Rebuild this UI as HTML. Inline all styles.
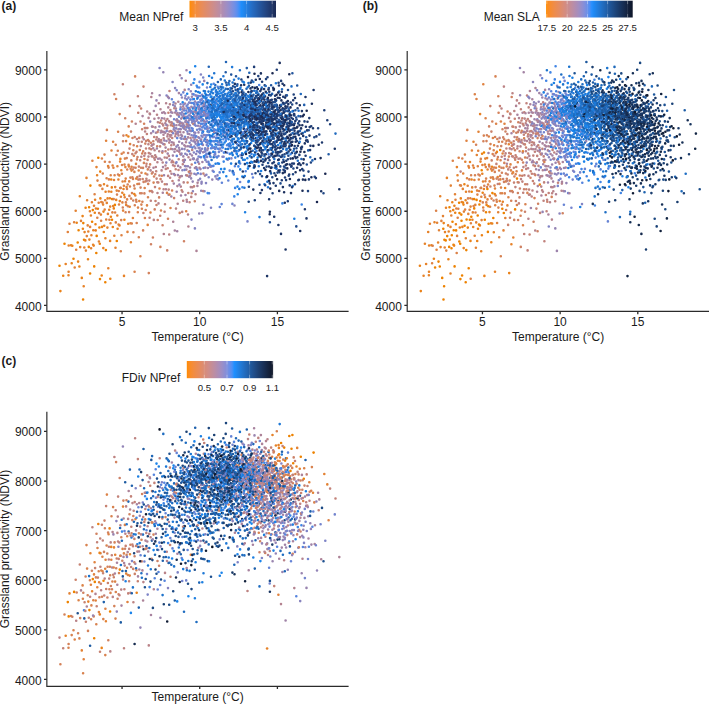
<!DOCTYPE html>
<html><head><meta charset="utf-8"><title>Figure</title>
<style>html,body{margin:0;padding:0;background:#fff;width:709px;height:704px;overflow:hidden}svg{display:block}</style>
</head><body><svg width="709" height="704" viewBox="0 0 709 704" font-family='"Liberation Sans", sans-serif' font-size="12" fill="#1a1a1a"><defs><linearGradient id="gA"><stop offset="0.000" stop-color="#ff8c00"/><stop offset="0.025" stop-color="#fb8c1e"/><stop offset="0.050" stop-color="#f88c2e"/><stop offset="0.075" stop-color="#f48c3b"/><stop offset="0.100" stop-color="#ef8c47"/><stop offset="0.125" stop-color="#eb8c52"/><stop offset="0.150" stop-color="#e78c5c"/><stop offset="0.175" stop-color="#e28c66"/><stop offset="0.200" stop-color="#dd8c6f"/><stop offset="0.225" stop-color="#d88c79"/><stop offset="0.250" stop-color="#d38c82"/><stop offset="0.275" stop-color="#cd8d8b"/><stop offset="0.300" stop-color="#c78d94"/><stop offset="0.325" stop-color="#c08d9d"/><stop offset="0.350" stop-color="#b98da6"/><stop offset="0.375" stop-color="#b28db0"/><stop offset="0.400" stop-color="#a98db9"/><stop offset="0.425" stop-color="#a08ec2"/><stop offset="0.450" stop-color="#968ecb"/><stop offset="0.475" stop-color="#8b8ed4"/><stop offset="0.500" stop-color="#7d8fde"/><stop offset="0.525" stop-color="#6e8fe7"/><stop offset="0.550" stop-color="#5a8ff0"/><stop offset="0.575" stop-color="#3d90f9"/><stop offset="0.600" stop-color="#1f8dfa"/><stop offset="0.625" stop-color="#2187ef"/><stop offset="0.650" stop-color="#2280e4"/><stop offset="0.675" stop-color="#2379d9"/><stop offset="0.700" stop-color="#2473ce"/><stop offset="0.725" stop-color="#256cc3"/><stop offset="0.750" stop-color="#2566b9"/><stop offset="0.775" stop-color="#2560ae"/><stop offset="0.800" stop-color="#2459a4"/><stop offset="0.825" stop-color="#245399"/><stop offset="0.850" stop-color="#234d8f"/><stop offset="0.875" stop-color="#234785"/><stop offset="0.900" stop-color="#22417b"/><stop offset="0.925" stop-color="#203b71"/><stop offset="0.950" stop-color="#1f3568"/><stop offset="0.975" stop-color="#1e305e"/><stop offset="1.000" stop-color="#1c2a55"/></linearGradient><linearGradient id="gB"><stop offset="0.000" stop-color="#ff8c00"/><stop offset="0.025" stop-color="#fb8c20"/><stop offset="0.050" stop-color="#f78c31"/><stop offset="0.075" stop-color="#f28c3f"/><stop offset="0.100" stop-color="#ee8c4c"/><stop offset="0.125" stop-color="#e98c57"/><stop offset="0.150" stop-color="#e48c62"/><stop offset="0.175" stop-color="#de8c6d"/><stop offset="0.200" stop-color="#d98c78"/><stop offset="0.225" stop-color="#d38c82"/><stop offset="0.250" stop-color="#cc8d8c"/><stop offset="0.275" stop-color="#c58d96"/><stop offset="0.300" stop-color="#be8da1"/><stop offset="0.325" stop-color="#b68dab"/><stop offset="0.350" stop-color="#ad8db5"/><stop offset="0.375" stop-color="#a38ebf"/><stop offset="0.400" stop-color="#988ec9"/><stop offset="0.425" stop-color="#8c8ed4"/><stop offset="0.450" stop-color="#7d8fde"/><stop offset="0.475" stop-color="#6b8fe8"/><stop offset="0.500" stop-color="#538ff3"/><stop offset="0.525" stop-color="#2c90fd"/><stop offset="0.550" stop-color="#1f8af5"/><stop offset="0.575" stop-color="#2083e8"/><stop offset="0.600" stop-color="#217cdb"/><stop offset="0.625" stop-color="#2175cf"/><stop offset="0.650" stop-color="#216ec2"/><stop offset="0.675" stop-color="#2167b6"/><stop offset="0.700" stop-color="#2060aa"/><stop offset="0.725" stop-color="#20599e"/><stop offset="0.750" stop-color="#1f5292"/><stop offset="0.775" stop-color="#1e4c87"/><stop offset="0.800" stop-color="#1d457b"/><stop offset="0.825" stop-color="#1b3f70"/><stop offset="0.850" stop-color="#1a3865"/><stop offset="0.875" stop-color="#18325a"/><stop offset="0.900" stop-color="#172c50"/><stop offset="0.925" stop-color="#152645"/><stop offset="0.950" stop-color="#13203b"/><stop offset="0.975" stop-color="#101b32"/><stop offset="1.000" stop-color="#0e1528"/></linearGradient><linearGradient id="gC"><stop offset="0.000" stop-color="#ff8c00"/><stop offset="0.025" stop-color="#fb8c1f"/><stop offset="0.050" stop-color="#f78c30"/><stop offset="0.075" stop-color="#f38c3e"/><stop offset="0.100" stop-color="#ee8c4a"/><stop offset="0.125" stop-color="#ea8c55"/><stop offset="0.150" stop-color="#e58c60"/><stop offset="0.175" stop-color="#e08c6a"/><stop offset="0.200" stop-color="#da8c75"/><stop offset="0.225" stop-color="#d58c7f"/><stop offset="0.250" stop-color="#cf8d89"/><stop offset="0.275" stop-color="#c88d92"/><stop offset="0.300" stop-color="#c18d9c"/><stop offset="0.325" stop-color="#ba8da6"/><stop offset="0.350" stop-color="#b18db0"/><stop offset="0.375" stop-color="#a98dba"/><stop offset="0.400" stop-color="#9f8ec3"/><stop offset="0.425" stop-color="#938ecd"/><stop offset="0.450" stop-color="#878ed7"/><stop offset="0.475" stop-color="#788fe1"/><stop offset="0.500" stop-color="#658feb"/><stop offset="0.525" stop-color="#4c90f5"/><stop offset="0.550" stop-color="#1e90ff"/><stop offset="0.575" stop-color="#2088f2"/><stop offset="0.600" stop-color="#2181e4"/><stop offset="0.625" stop-color="#217ad7"/><stop offset="0.650" stop-color="#2272ca"/><stop offset="0.675" stop-color="#226bbd"/><stop offset="0.700" stop-color="#2264b1"/><stop offset="0.725" stop-color="#215da4"/><stop offset="0.750" stop-color="#205698"/><stop offset="0.775" stop-color="#204f8c"/><stop offset="0.800" stop-color="#1f4880"/><stop offset="0.825" stop-color="#1d4174"/><stop offset="0.850" stop-color="#1c3b68"/><stop offset="0.875" stop-color="#1a345d"/><stop offset="0.900" stop-color="#182e52"/><stop offset="0.925" stop-color="#162847"/><stop offset="0.950" stop-color="#14223c"/><stop offset="0.975" stop-color="#121c32"/><stop offset="1.000" stop-color="#0f1628"/></linearGradient></defs><g stroke-width="2.6" stroke-linecap="round" fill="none"><path d="M90.1 273.5h0M78.6 230.2h0M94.2 266.4h0M89.1 207.3h0M92.8 210.1h0M84.0 239.8h0" stroke="#ed8200"/><path d="M79.4 266.5h0M76.7 222.8h0M113.8 208.4h0" stroke="#ea8219"/><path d="M117.6 228.8h0M119.8 201.1h0M119.5 225.4h0M68.5 275.3h0M93.7 245.6h0M80.2 247.1h0M119.3 175.4h0M97.1 175.2h0M93.1 244.8h0" stroke="#e78227"/><path d="M108.1 166.0h0M115.5 247.7h0M117.3 215.5h0" stroke="#e38232"/><path d="M112.6 165.5h0M117.4 166.3h0M135.3 195.5h0M130.5 223.2h0M81.0 220.9h0M139.3 201.0h0" stroke="#e1823b"/><path d="M97.5 180.6h0M106.6 178.2h0M122.6 181.5h0M110.7 175.3h0M137.4 184.0h0M119.0 204.5h0M138.7 170.5h0" stroke="#dd8244"/><path d="M134.6 271.8h0M130.0 186.5h0M102.8 173.5h0M114.6 175.3h0M99.1 213.1h0M128.6 164.9h0M101.1 220.8h0" stroke="#da824d"/><path d="M133.0 178.9h0M133.9 155.7h0M132.0 193.1h0M115.7 144.8h0M161.0 210.5h0M128.7 126.4h0" stroke="#d68254"/><path d="M137.0 159.4h0M144.4 193.4h0M139.1 183.9h0M172.1 190.5h0" stroke="#d3825d"/><path d="M152.9 237.5h0M150.1 164.4h0M143.6 181.9h0M134.1 185.6h0M157.7 220.0h0M127.9 206.3h0" stroke="#cf8264"/><path d="M142.7 179.0h0M173.3 162.3h0M128.1 153.0h0M194.8 201.2h0M155.3 174.3h0M191.7 193.3h0" stroke="#cb826b"/><path d="M191.7 164.5h0M140.5 121.5h0M155.5 201.0h0M151.2 149.2h0M188.3 193.0h0M140.0 179.4h0" stroke="#c78273"/><path d="M172.5 181.0h0M167.5 125.6h0M142.8 137.4h0M168.3 149.5h0M146.9 134.0h0" stroke="#c3827a"/><path d="M156.1 157.1h0M147.3 174.5h0M182.8 164.2h0M138.4 141.8h0M164.7 157.5h0M169.2 234.5h0" stroke="#be8382"/><path d="M157.9 122.2h0M162.7 162.5h0M170.0 135.0h0M191.3 196.9h0M168.6 139.1h0M158.0 141.4h0M188.0 214.5h0M196.9 140.2h0M159.2 151.3h0M170.2 136.6h0M153.6 144.2h0M148.4 144.3h0M195.6 194.2h0M162.0 181.6h0M186.7 199.7h0M173.9 144.6h0" stroke="#b98388"/><path d="M199.5 167.9h0M175.3 136.2h0M178.7 115.3h0M160.5 109.3h0" stroke="#b48390"/><path d="M185.3 138.8h0M180.4 167.4h0M171.2 135.2h0M166.8 184.2h0M193.5 159.3h0M177.4 186.1h0" stroke="#ae8397"/><path d="M185.2 116.9h0M193.2 137.5h0M178.8 180.2h0M175.2 112.6h0M163.0 167.1h0M165.2 132.8h0M180.0 75.3h0" stroke="#a9839f"/><path d="M164.2 132.0h0M160.8 132.5h0M183.3 156.4h0M181.3 134.9h0M182.4 117.3h0M180.8 129.2h0M192.0 155.5h0M204.4 156.8h0M186.1 175.3h0" stroke="#a283a6"/><path d="M164.0 175.2h0M190.5 113.0h0M190.1 171.0h0M200.5 169.1h0M177.6 113.0h0M200.0 157.0h0" stroke="#9c83ac"/><path d="M207.4 126.9h0M168.9 98.1h0M194.8 135.4h0M196.4 111.5h0M166.5 141.0h0M189.2 118.5h0M191.2 84.8h0M196.8 160.0h0M156.5 100.4h0" stroke="#9484b4"/><path d="M201.9 143.9h0M184.5 149.1h0M202.6 106.9h0M195.7 143.8h0M187.7 112.5h0M192.1 122.6h0M207.8 128.7h0M193.0 107.7h0M195.4 148.3h0M196.1 154.0h0M213.6 130.9h0M191.3 140.4h0" stroke="#8c84bb"/><path d="M210.5 153.1h0M194.9 228.4h0M206.8 105.8h0M193.9 152.5h0M202.3 213.2h0M188.6 124.5h0M211.0 207.8h0M191.5 219.6h0M191.9 118.2h0M204.5 191.3h0" stroke="#8484c3"/><path d="M187.3 122.2h0M203.8 113.7h0M208.7 177.2h0M208.8 164.4h0M187.1 116.9h0M206.2 100.2h0M188.9 128.1h0" stroke="#7984ca"/><path d="M218.7 120.3h0M216.3 156.7h0M208.3 141.1h0M173.5 123.8h0M206.3 118.8h0M193.1 118.6h0M213.1 114.4h0M183.3 92.4h0M194.6 106.3h0M204.3 112.8h0M191.0 131.1h0M219.2 149.1h0M225.6 127.7h0" stroke="#6e84d1"/><path d="M194.1 104.0h0M219.7 172.4h0M229.7 124.0h0M227.2 152.8h0M221.6 204.1h0" stroke="#6184d8"/><path d="M211.1 148.3h0M189.9 109.5h0M240.1 163.5h0M220.5 124.1h0M229.6 116.6h0M268.6 154.4h0M210.6 141.9h0" stroke="#5084e0"/><path d="M220.9 124.0h0M251.8 120.4h0M232.8 172.4h0M230.4 105.0h0M255.4 154.6h0M282.4 203.4h0M270.2 171.3h0M275.0 141.5h0M238.4 166.4h0M203.0 115.7h0M224.8 115.2h0M221.3 109.6h0M242.4 187.3h0M234.3 196.4h0M254.0 130.4h0M269.4 118.0h0M208.4 153.7h0M206.2 117.6h0M274.6 142.9h0M212.1 145.7h0M216.2 120.3h0M189.0 109.5h0" stroke="#3985e7"/><path d="M221.1 169.1h0M213.4 89.2h0M243.8 106.9h0M247.8 125.4h0M214.6 104.9h0M205.2 96.5h0M237.7 194.2h0M244.4 146.8h0M247.3 158.3h0M222.8 134.9h0M204.8 139.4h0M269.8 136.9h0M182.7 102.4h0M210.8 111.6h0M228.3 144.2h0M204.6 104.6h0M241.3 109.9h0M187.2 93.8h0M224.1 129.1h0M254.1 154.8h0M219.4 128.9h0" stroke="#1c84ea"/><path d="M248.5 166.4h0M224.5 168.9h0M218.0 126.6h0M210.4 112.5h0M245.1 212.3h0M244.8 159.7h0M217.8 129.4h0M221.9 117.0h0M230.8 148.2h0M215.5 123.9h0M257.7 157.6h0M245.5 121.0h0M227.7 130.0h0M240.8 149.1h0M200.5 117.8h0M227.4 105.0h0M222.7 130.2h0M224.1 120.6h0M192.9 108.5h0" stroke="#1d7fe1"/><path d="M237.4 99.6h0M203.4 120.8h0M257.0 127.7h0M209.1 76.0h0M241.3 127.6h0M237.1 104.5h0M232.8 112.0h0M223.0 96.5h0M250.0 130.8h0M221.7 144.8h0M218.2 106.6h0M204.5 111.2h0M229.3 109.3h0M243.2 123.2h0M210.3 87.0h0M220.3 117.2h0M217.3 134.3h0" stroke="#1f79d8"/><path d="M235.5 113.0h0M225.2 122.8h0M231.3 122.0h0M252.4 162.4h0M203.8 91.0h0M285.2 117.0h0M214.4 114.9h0M292.7 186.0h0M221.3 89.4h0M278.1 145.0h0M274.9 167.8h0M247.4 100.2h0M213.9 108.4h0M276.2 100.6h0M260.3 122.5h0M227.1 102.8h0M266.7 93.0h0M224.0 109.4h0M286.5 128.0h0M231.1 92.0h0M228.6 114.5h0M266.4 106.4h0" stroke="#2074d0"/><path d="M222.7 122.0h0M220.7 98.9h0M227.9 102.2h0M280.3 124.1h0M270.4 121.1h0M253.3 81.9h0M229.2 104.6h0M256.8 104.1h0M250.5 105.1h0M226.7 130.1h0M257.4 116.3h0M261.8 87.5h0M227.0 120.1h0M279.0 91.6h0M225.3 105.1h0M233.5 121.3h0M225.1 112.9h0M209.0 111.1h0M279.5 120.3h0" stroke="#216fc7"/><path d="M276.4 123.0h0M255.8 104.6h0M239.0 132.9h0M221.8 100.2h0M300.0 130.9h0M214.7 119.1h0M221.4 119.7h0M254.2 145.8h0M208.2 114.1h0M335.5 133.6h0M214.8 87.8h0M274.6 133.2h0M282.0 89.2h0M216.4 109.9h0M237.3 115.3h0" stroke="#216abe"/><path d="M276.0 106.3h0M233.3 101.6h0M230.3 90.4h0M231.7 105.1h0M236.7 123.3h0M246.1 140.7h0M270.9 136.3h0M258.7 140.3h0M301.4 159.0h0M266.6 115.9h0M270.0 114.0h0M245.8 108.7h0M231.3 97.5h0" stroke="#2265b6"/><path d="M304.2 104.9h0M255.6 126.9h0M235.6 95.8h0M246.1 97.7h0M272.5 138.8h0M245.2 144.1h0M274.4 105.1h0" stroke="#225fad"/><path d="M229.9 109.8h0M228.5 83.0h0M246.8 68.1h0M258.3 115.6h0M245.0 115.0h0M253.5 94.7h0M268.7 150.1h0M280.0 170.3h0M255.7 109.7h0M257.5 115.1h0M328.6 154.2h0M236.1 102.8h0" stroke="#225ba5"/><path d="M261.6 155.5h0M237.7 91.0h0M274.7 144.3h0M297.2 85.5h0" stroke="#22559d"/><path d="M274.8 102.0h0M233.0 86.3h0M269.7 110.3h0M286.2 138.4h0M255.9 111.5h0M237.9 110.6h0" stroke="#215094"/><path d="M237.6 125.3h0M247.2 141.3h0M319.3 134.5h0M262.9 113.5h0M314.3 137.3h0" stroke="#214c8d"/><path d="M230.2 137.0h0M323.5 193.2h0M290.1 125.4h0M276.1 168.0h0M259.5 184.7h0M278.4 138.9h0M261.7 99.5h0M239.3 150.0h0M232.9 91.3h0" stroke="#204784"/><path d="M248.9 186.7h0M272.6 109.1h0M247.5 113.0h0M291.2 122.9h0M270.5 100.2h0M281.0 106.0h0M244.9 164.1h0M269.8 127.4h0M266.6 166.6h0M262.0 176.2h0M291.3 145.7h0M274.4 173.3h0M298.3 180.3h0M255.7 129.5h0M295.1 153.5h0" stroke="#20427c"/><path d="M269.4 125.6h0M259.3 106.6h0M264.7 85.2h0M276.8 69.7h0M281.8 180.3h0M245.3 131.3h0M288.8 126.0h0M305.6 155.7h0M254.1 66.9h0M281.7 121.9h0M294.7 146.0h0M269.4 157.1h0M279.9 121.6h0M273.9 162.2h0M267.5 77.3h0M279.4 172.3h0M267.0 146.8h0M281.1 80.9h0M275.9 152.4h0" stroke="#1f3d75"/><path d="M259.1 111.1h0M254.3 127.6h0M284.3 121.2h0M262.7 109.7h0M266.0 124.5h0M283.5 110.8h0M271.4 153.8h0M253.6 138.7h0M307.5 121.7h0M250.9 115.7h0M265.4 102.1h0M238.3 124.3h0M260.0 138.4h0M278.5 163.9h0M281.5 133.6h0M281.9 113.6h0M256.1 140.5h0M304.9 209.2h0M252.8 137.7h0M250.1 97.2h0M293.2 100.2h0M301.3 149.1h0M263.1 136.5h0M248.0 149.6h0M264.0 138.4h0M274.0 124.1h0M278.0 152.1h0" stroke="#1e386c"/><path d="M268.9 122.2h0M280.8 139.7h0M258.4 118.9h0M275.8 99.9h0M276.7 113.9h0M280.7 117.6h0M277.8 97.8h0M295.3 121.1h0M268.5 116.8h0M265.6 113.3h0M307.1 130.4h0M267.2 125.5h0M293.4 128.5h0M299.3 121.2h0M249.6 119.6h0M257.1 124.5h0M254.7 166.2h0M261.9 190.1h0M278.6 112.0h0M281.1 135.4h0M288.6 151.6h0" stroke="#1d3465"/><path d="M275.4 110.4h0M239.5 120.1h0M276.0 134.0h0M284.7 172.3h0M285.9 95.5h0M297.3 157.3h0M276.3 130.3h0M302.3 125.3h0M257.1 160.1h0M284.1 192.3h0M285.8 164.9h0M280.1 114.7h0M255.6 147.1h0M287.1 164.3h0M286.9 132.0h0M259.4 121.7h0M277.5 125.1h0M263.3 131.6h0M311.9 103.7h0" stroke="#1c305d"/><path d="M262.7 127.5h0M244.7 132.6h0M262.3 94.2h0M288.8 110.2h0M252.4 87.2h0M274.3 114.7h0M288.5 128.3h0" stroke="#1a2b56"/><path d="M263.4 121.0h0M273.8 116.2h0M225.4 152.2h0M239.0 107.3h0M225.2 111.1h0M296.9 127.6h0M256.4 112.0h0M248.4 92.0h0M280.2 105.2h0M317.0 202.0h0M275.3 130.1h0M279.5 107.8h0M264.9 134.9h0M292.8 158.4h0M271.8 119.4h0M246.6 112.3h0M251.0 137.4h0" stroke="#1a274f"/><path d="M90.4 185.6h0M59.5 265.7h0" stroke="#ed8200"/><path d="M99.8 243.7h0M82.6 216.1h0M110.3 278.8h0M95.5 224.2h0M124.1 194.8h0M78.1 261.6h0" stroke="#ea8219"/><path d="M110.1 240.9h0M120.4 158.9h0M103.3 248.1h0M83.7 286.3h0M105.6 191.7h0" stroke="#e78227"/><path d="M86.5 177.9h0M100.9 214.6h0M130.9 242.3h0M116.7 190.6h0M91.4 235.2h0M107.4 227.6h0M108.3 268.2h0M95.9 208.5h0M121.3 170.3h0M106.8 202.9h0" stroke="#e38232"/><path d="M131.6 166.7h0M74.1 222.3h0M118.6 224.5h0M110.5 223.3h0M147.7 224.9h0M132.9 218.0h0" stroke="#e1823b"/><path d="M100.6 185.6h0M150.5 212.5h0M92.4 160.8h0M115.1 212.5h0M115.8 222.4h0" stroke="#dd8244"/><path d="M138.0 207.6h0M104.5 154.6h0M127.1 199.4h0" stroke="#da824d"/><path d="M142.4 201.8h0M141.4 204.6h0M139.8 150.0h0M138.8 237.2h0" stroke="#d68254"/><path d="M152.5 156.5h0M142.2 153.5h0M143.2 151.2h0M143.1 230.4h0" stroke="#d3825d"/><path d="M132.5 138.0h0M162.3 152.6h0M154.7 209.4h0M133.7 145.3h0M143.0 167.9h0" stroke="#cf8264"/><path d="M137.3 177.1h0M148.1 140.0h0M135.5 153.2h0M158.3 182.5h0M123.0 141.3h0M142.1 129.3h0" stroke="#cb826b"/><path d="M164.9 128.2h0M170.8 125.3h0M147.6 159.9h0M129.5 148.6h0" stroke="#c78273"/><path d="M146.0 148.5h0M175.7 169.2h0M178.5 170.0h0M133.8 167.5h0M156.6 178.6h0M169.5 91.0h0M146.4 178.8h0M151.6 191.0h0M139.7 175.9h0M189.6 202.3h0M171.8 123.4h0" stroke="#c3827a"/><path d="M170.1 177.7h0M172.3 160.9h0M170.4 110.0h0M171.3 145.3h0" stroke="#be8382"/><path d="M148.5 156.6h0M169.9 104.2h0M166.9 157.8h0M144.3 155.8h0M145.1 131.5h0" stroke="#b98388"/><path d="M151.3 97.0h0M190.1 175.7h0M147.2 111.5h0M185.8 80.7h0" stroke="#b48390"/><path d="M158.7 139.0h0M178.2 121.6h0M183.1 106.6h0M150.0 114.3h0M159.0 140.7h0M195.3 111.9h0M175.6 131.5h0M165.3 123.3h0M190.3 159.7h0M194.9 168.0h0" stroke="#ae8397"/><path d="M186.4 169.6h0M162.9 131.9h0M172.4 112.8h0M204.9 175.6h0M187.5 150.4h0M159.8 158.5h0M184.4 128.7h0" stroke="#a9839f"/><path d="M171.3 196.5h0M167.7 153.6h0M189.8 146.5h0M155.9 132.8h0M202.4 162.0h0M193.8 158.5h0M182.1 136.1h0" stroke="#a283a6"/><path d="M171.1 112.3h0M204.2 80.9h0M179.0 147.8h0M185.9 166.2h0M168.6 194.8h0M185.4 121.9h0M187.5 108.2h0M200.1 109.7h0M189.3 134.1h0" stroke="#9c83ac"/><path d="M198.4 180.3h0M190.8 91.3h0M174.3 127.5h0M195.9 167.7h0M181.9 97.5h0M195.1 101.6h0M181.6 122.8h0M193.4 141.3h0M187.0 154.7h0M203.2 131.3h0" stroke="#9484b4"/><path d="M212.7 170.8h0M194.6 123.3h0M182.0 148.9h0M199.9 117.1h0M188.6 115.5h0M196.0 167.7h0M183.6 128.1h0M182.4 170.2h0M153.1 131.4h0M215.4 176.4h0" stroke="#8c84bb"/><path d="M188.5 97.6h0M197.8 106.6h0M194.3 146.5h0M222.3 134.1h0M201.1 120.8h0M194.4 173.8h0M195.3 132.8h0" stroke="#8484c3"/><path d="M188.7 89.2h0M196.9 103.0h0M247.5 221.4h0M189.7 115.3h0M184.6 169.9h0M202.1 94.8h0M209.1 163.8h0M181.1 154.4h0" stroke="#7984ca"/><path d="M193.6 135.5h0M197.5 145.4h0M226.5 106.0h0M215.2 154.0h0M191.7 111.4h0M174.1 119.2h0M206.5 107.0h0M191.0 116.4h0M240.1 182.0h0M204.9 113.1h0M214.0 136.8h0M208.8 134.7h0M196.3 113.1h0M216.8 135.5h0" stroke="#6e84d1"/><path d="M206.1 142.1h0M208.4 161.9h0M216.0 138.1h0M252.9 177.5h0M225.0 132.0h0M199.6 81.9h0M222.4 113.6h0M213.7 171.7h0M215.1 152.3h0M177.2 138.1h0M186.1 118.3h0M198.3 102.3h0M208.2 116.1h0M171.9 99.3h0" stroke="#6184d8"/><path d="M208.9 104.9h0M226.1 138.8h0M216.3 133.0h0M199.4 114.1h0M217.1 125.0h0M210.2 137.6h0M218.8 113.6h0M211.4 166.1h0M223.3 139.2h0M205.6 155.0h0M210.0 155.9h0M236.5 153.0h0M204.5 157.8h0" stroke="#5084e0"/><path d="M222.6 103.9h0M215.8 92.1h0M222.2 92.5h0M237.0 131.6h0M216.8 108.2h0M221.8 124.6h0M196.7 85.7h0M197.4 87.3h0M207.7 193.1h0M222.2 114.5h0M256.2 122.5h0M214.2 147.3h0M234.4 130.2h0M209.9 115.6h0" stroke="#3985e7"/><path d="M251.1 143.0h0M227.2 115.8h0M217.0 116.8h0M235.2 104.6h0M233.1 144.3h0M213.3 101.3h0M202.7 84.4h0M211.3 117.3h0M210.7 97.0h0M219.1 112.9h0M233.2 117.4h0M228.1 108.4h0M220.4 131.8h0M211.2 84.5h0M229.0 145.7h0M209.4 122.0h0M216.9 99.0h0" stroke="#1c84ea"/><path d="M240.5 87.7h0M223.5 115.0h0M286.1 129.5h0M236.0 150.9h0M215.9 140.7h0M212.6 117.2h0M238.9 162.5h0M215.6 163.7h0M238.8 113.1h0M294.3 218.7h0M221.1 129.9h0M236.3 112.1h0M220.7 139.5h0M214.8 112.0h0M230.1 113.5h0M207.2 117.9h0" stroke="#1d7fe1"/><path d="M256.2 107.7h0M247.9 110.3h0M220.2 103.6h0M213.0 93.3h0M214.3 97.4h0M216.1 90.4h0M223.1 110.4h0M219.3 115.4h0M242.4 101.8h0M239.5 104.0h0M215.7 100.5h0M255.0 149.0h0M223.8 106.8h0M224.9 109.1h0M221.5 102.2h0M228.1 148.9h0M259.5 217.1h0M223.1 87.6h0M245.0 96.1h0M233.0 106.3h0" stroke="#1f79d8"/><path d="M250.9 92.6h0M223.5 97.1h0M235.6 132.8h0M244.4 187.7h0M205.6 102.6h0M267.7 142.4h0M210.1 94.4h0M225.0 107.3h0M220.1 96.1h0M223.3 128.3h0M223.8 113.7h0M269.5 138.5h0M248.2 107.3h0M236.3 113.3h0M241.4 147.7h0M227.5 107.3h0M239.1 114.9h0M266.8 125.0h0M236.2 93.5h0M252.0 128.9h0M230.0 121.2h0" stroke="#2074d0"/><path d="M262.2 106.8h0M258.3 103.4h0M259.0 107.5h0M238.8 126.8h0M217.6 123.4h0M212.4 109.3h0M214.6 132.7h0M239.9 70.3h0M239.4 97.6h0M264.2 127.3h0M211.6 160.0h0M221.7 87.3h0M228.2 124.1h0M227.7 117.8h0M235.0 125.2h0M243.4 96.5h0M246.9 107.8h0M244.2 109.0h0M246.4 104.4h0M230.6 119.1h0M213.7 157.3h0M224.1 113.0h0M221.0 111.6h0M212.8 106.1h0M240.7 97.1h0M238.0 156.3h0M235.8 126.4h0M267.4 181.7h0" stroke="#216fc7"/><path d="M265.7 86.0h0M230.2 94.7h0M246.5 119.2h0M238.2 114.2h0M241.5 114.6h0M264.9 139.4h0M287.6 152.8h0M300.8 94.0h0M207.4 83.1h0M234.3 102.6h0M217.6 111.0h0M285.9 140.7h0M310.3 157.2h0M224.3 136.1h0M273.4 147.3h0M256.2 92.9h0M236.4 133.8h0M215.3 85.1h0M254.0 110.5h0" stroke="#216abe"/><path d="M268.1 117.5h0M232.3 106.8h0M231.0 112.4h0M272.1 93.9h0M252.0 117.3h0M263.6 139.8h0M208.8 66.7h0M262.8 159.3h0M256.6 111.9h0M246.6 116.2h0M242.3 144.3h0M233.0 113.8h0M263.3 102.0h0" stroke="#2265b6"/><path d="M221.2 105.4h0M251.4 121.7h0M228.4 111.8h0M222.9 103.7h0M292.0 129.7h0M290.1 112.4h0M217.9 82.0h0M248.6 123.5h0M275.6 116.4h0M250.0 125.2h0M252.7 115.7h0M242.2 90.4h0" stroke="#225fad"/><path d="M238.6 109.6h0M277.1 109.4h0M295.4 110.3h0M241.7 122.7h0M273.6 112.2h0M252.6 96.7h0M272.9 123.5h0M260.6 98.0h0" stroke="#225ba5"/><path d="M240.9 117.2h0M279.3 155.7h0M266.5 131.2h0M271.3 155.5h0" stroke="#22559d"/><path d="M245.4 94.9h0" stroke="#215094"/><path d="M296.5 148.2h0M269.9 222.2h0M282.0 127.0h0M241.0 131.8h0" stroke="#214c8d"/><path d="M284.7 134.0h0M239.8 125.4h0M276.5 120.7h0M266.3 103.1h0M277.5 172.6h0M266.5 141.4h0M298.2 123.4h0M314.7 176.8h0M246.3 120.8h0" stroke="#204784"/><path d="M243.9 115.4h0M290.4 130.0h0M272.7 120.4h0M272.2 135.8h0M272.3 177.3h0M263.9 108.8h0M296.8 141.0h0M282.1 156.5h0M308.0 191.1h0M255.3 97.8h0M248.7 122.0h0M257.0 101.1h0M241.4 79.5h0M276.8 118.3h0M262.6 103.3h0M268.0 137.7h0M279.1 110.9h0M290.9 134.6h0M237.5 121.8h0M269.6 160.3h0M308.5 171.6h0M263.6 109.5h0M251.6 157.4h0M256.0 116.1h0M293.5 136.9h0M277.6 115.0h0M273.2 131.7h0M268.9 104.6h0" stroke="#20427c"/><path d="M244.5 113.2h0M258.0 154.1h0M231.9 152.9h0M252.1 99.3h0M280.9 142.8h0M254.3 102.4h0M293.9 163.6h0M275.1 95.7h0M257.2 108.1h0M242.1 103.3h0M284.5 108.9h0M300.5 116.4h0M286.1 180.1h0M311.2 126.3h0M284.1 112.2h0" stroke="#1f3d75"/><path d="M294.8 156.5h0M309.7 127.1h0M275.6 135.4h0M251.3 139.5h0M248.6 100.5h0M287.4 106.6h0M301.9 111.1h0M288.4 126.0h0M277.2 115.9h0M275.0 113.8h0M265.0 111.9h0M264.1 168.1h0M295.7 141.7h0M249.0 111.8h0M256.0 138.0h0M275.1 128.6h0M322.0 142.5h0M258.1 129.8h0M284.9 170.9h0M299.2 163.3h0M305.9 126.7h0M265.5 116.2h0M239.9 109.2h0M289.8 164.5h0M272.4 163.3h0" stroke="#1e386c"/><path d="M246.1 105.8h0M282.9 187.1h0M297.1 167.7h0M258.6 116.0h0M244.2 84.8h0M259.8 144.2h0M256.3 124.7h0M257.6 126.6h0M284.2 124.1h0M282.9 123.4h0M245.3 101.6h0M264.1 89.1h0M257.7 113.9h0M267.1 106.0h0M254.7 114.6h0M250.8 82.6h0M285.6 249.5h0M304.8 143.4h0M273.6 89.9h0M259.2 131.6h0" stroke="#1d3465"/><path d="M246.4 131.0h0M300.2 231.0h0M299.6 125.3h0M282.8 173.1h0M301.1 128.4h0M262.5 141.0h0M293.1 111.0h0M306.1 140.6h0M258.1 147.5h0M260.9 73.4h0M280.4 131.5h0M252.5 133.8h0M241.1 85.2h0M261.4 152.2h0M261.4 115.0h0" stroke="#1c305d"/><path d="M255.4 103.3h0M255.8 118.8h0M303.8 114.8h0M277.2 122.6h0M250.6 120.7h0M257.1 117.8h0M233.7 108.0h0M290.2 120.5h0M258.9 100.1h0M289.9 179.0h0M278.4 132.8h0M267.9 126.6h0" stroke="#1a2b56"/><path d="M273.3 130.2h0M258.8 98.4h0M282.1 119.0h0M258.7 117.9h0M289.1 123.3h0M210.6 105.1h0M271.9 148.0h0M302.7 116.3h0M259.6 150.4h0M306.7 110.7h0M263.7 112.0h0M255.3 105.5h0" stroke="#1a274f"/><path d="M100.0 279.1h0M64.5 243.7h0M112.1 199.1h0M96.3 253.0h0" stroke="#ed8200"/><path d="M124.4 219.7h0M71.7 263.3h0M103.5 211.6h0M63.2 275.8h0M72.3 245.8h0M111.8 187.4h0M60.4 291.1h0M128.4 136.5h0M102.0 226.9h0M81.8 277.9h0" stroke="#ea8219"/><path d="M89.4 239.6h0M90.9 215.5h0M104.2 225.8h0M109.2 209.7h0" stroke="#e78227"/><path d="M126.6 187.1h0M94.0 205.7h0M129.7 206.8h0M118.4 179.5h0M88.3 231.5h0M120.1 161.6h0M91.1 248.3h0M87.1 200.2h0M68.6 271.8h0M85.9 250.6h0M126.2 204.9h0M107.9 213.9h0" stroke="#e38232"/><path d="M104.7 209.6h0M86.8 236.1h0M87.7 225.4h0M98.7 202.7h0M90.1 226.9h0" stroke="#e1823b"/><path d="M129.2 181.4h0M102.6 202.6h0M102.4 188.9h0M186.2 211.3h0M130.1 144.1h0M113.1 141.8h0M125.7 178.6h0" stroke="#dd8244"/><path d="M140.4 256.2h0M144.5 159.0h0M170.5 208.0h0M120.8 251.3h0M109.4 219.8h0M137.8 212.2h0M120.7 187.9h0" stroke="#da824d"/><path d="M117.0 194.6h0M153.6 182.6h0M130.4 177.6h0M125.9 202.4h0M133.4 232.2h0M127.2 169.5h0M151.9 173.5h0M122.0 165.0h0" stroke="#d68254"/><path d="M135.6 167.7h0M116.4 155.0h0M140.6 187.6h0M129.4 195.9h0M127.7 184.5h0M132.4 177.4h0M145.7 210.0h0M121.2 220.1h0M149.8 191.1h0" stroke="#d3825d"/><path d="M151.0 244.2h0M123.4 135.6h0M157.2 146.2h0M179.7 212.9h0" stroke="#cf8264"/><path d="M136.5 151.9h0M184.8 126.8h0M193.3 124.0h0" stroke="#c78273"/><path d="M146.3 166.4h0M141.8 141.8h0M145.2 153.4h0M140.2 160.3h0M152.4 192.1h0M174.6 166.1h0" stroke="#c3827a"/><path d="M178.7 159.2h0M165.0 204.2h0M170.9 148.9h0M168.9 155.9h0M154.8 159.7h0" stroke="#be8382"/><path d="M171.6 162.2h0M153.8 219.9h0M163.6 189.3h0" stroke="#b98388"/><path d="M179.2 151.7h0M166.1 103.3h0M171.6 122.3h0M190.8 187.1h0M135.7 123.8h0M163.8 234.0h0" stroke="#b48390"/><path d="M169.3 131.5h0M186.0 142.2h0M161.6 142.6h0M153.5 167.8h0M177.3 150.8h0M163.5 134.7h0M196.5 250.9h0M184.3 159.7h0M175.1 149.1h0" stroke="#ae8397"/><path d="M162.2 112.7h0M142.6 116.1h0M198.3 137.2h0M145.9 128.1h0M185.6 146.4h0M182.6 109.4h0M183.5 132.3h0" stroke="#a9839f"/><path d="M172.7 149.2h0M172.9 155.6h0M158.4 130.3h0M170.6 116.1h0M185.5 195.0h0M174.5 151.7h0M173.8 183.6h0M196.7 113.1h0M174.7 130.5h0M182.8 125.7h0M178.1 165.9h0M156.9 148.5h0" stroke="#a283a6"/><path d="M177.9 175.1h0M187.8 133.7h0M169.8 140.4h0M196.6 117.8h0M175.9 163.2h0M204.2 120.9h0M198.5 132.4h0M207.9 148.4h0M155.7 105.9h0M179.2 141.7h0M191.4 106.7h0" stroke="#9c83ac"/><path d="M180.7 107.2h0M192.7 181.6h0M192.4 94.0h0M196.2 174.5h0M169.6 159.6h0M185.7 129.7h0M199.0 122.9h0" stroke="#9484b4"/><path d="M189.7 173.2h0M176.4 146.6h0M179.9 113.3h0M184.9 160.0h0" stroke="#8c84bb"/><path d="M193.8 120.8h0M200.9 74.5h0M166.6 95.5h0M198.1 143.0h0M200.1 178.7h0M178.2 131.7h0M201.8 130.3h0M206.7 161.8h0M191.6 135.2h0M189.9 125.5h0M216.3 101.9h0M199.7 118.6h0" stroke="#8484c3"/><path d="M244.0 128.6h0M197.3 115.5h0M202.0 148.8h0M206.2 109.9h0M196.6 104.2h0M214.4 155.1h0M190.6 146.7h0M189.1 102.6h0M197.0 151.3h0M206.4 128.7h0" stroke="#7984ca"/><path d="M192.5 112.3h0M192.6 99.3h0M181.5 138.8h0M201.8 142.3h0M173.6 102.3h0M190.9 111.1h0M212.8 148.0h0M252.1 174.0h0M237.2 110.7h0M184.1 110.5h0M203.6 168.0h0M205.3 151.3h0" stroke="#6e84d1"/><path d="M195.4 137.5h0M211.8 166.2h0M219.3 142.5h0M196.3 136.2h0M202.1 127.5h0M188.3 122.5h0M233.6 172.8h0M233.2 131.5h0M191.5 128.1h0" stroke="#6184d8"/><path d="M205.7 111.4h0M222.0 147.3h0M193.6 94.4h0M202.7 111.6h0M192.4 147.6h0M198.4 122.6h0M213.1 141.2h0M216.6 130.5h0M198.7 112.3h0M214.5 141.4h0M217.0 157.4h0M218.1 148.7h0M213.4 165.9h0M214.9 103.9h0M198.8 118.1h0M259.2 85.0h0M205.0 149.1h0" stroke="#5084e0"/><path d="M239.7 145.8h0M232.3 142.5h0M197.2 98.7h0M233.8 174.5h0M209.7 100.7h0M218.5 111.7h0M222.4 131.6h0M235.3 157.6h0M227.1 98.3h0M206.6 97.7h0M224.4 119.3h0" stroke="#3985e7"/><path d="M242.1 153.2h0M235.5 114.4h0M210.9 129.7h0M243.9 82.4h0M224.6 142.5h0M205.9 124.0h0M203.9 156.3h0M202.9 131.9h0M247.0 113.8h0M237.6 134.2h0M198.1 104.9h0M242.3 176.5h0M220.4 101.5h0M253.7 140.7h0M232.5 139.1h0M237.8 122.2h0M213.2 134.2h0M215.7 110.7h0M242.5 139.3h0M235.1 122.9h0" stroke="#1c84ea"/><path d="M246.6 146.8h0M229.1 158.6h0M190.0 72.4h0M242.9 134.0h0M229.1 84.6h0M231.0 131.7h0M240.2 169.4h0M207.5 108.9h0M234.4 105.7h0M225.6 119.8h0M244.0 140.8h0M208.5 103.4h0M219.6 91.3h0" stroke="#1d7fe1"/><path d="M213.0 116.3h0M278.9 163.3h0M260.2 135.5h0M266.7 138.7h0M242.7 116.7h0M222.1 84.3h0M243.0 159.8h0M209.4 131.6h0M292.5 111.4h0M250.2 94.9h0M247.7 87.2h0M268.8 181.0h0M252.3 126.4h0M266.3 177.3h0M200.7 140.6h0M228.0 119.8h0M235.9 109.0h0M247.7 95.8h0" stroke="#1f79d8"/><path d="M239.6 127.9h0M237.0 103.4h0M233.4 95.9h0M243.1 105.3h0M240.9 104.4h0M201.7 108.4h0M268.0 187.2h0M222.6 109.7h0M245.8 114.0h0M249.9 106.5h0M263.5 145.6h0M253.9 112.7h0M227.9 125.3h0M238.5 102.0h0M219.0 107.2h0M233.9 99.1h0M244.6 124.0h0M197.7 97.6h0M267.3 152.0h0" stroke="#2074d0"/><path d="M231.5 97.2h0M231.2 140.5h0M227.5 113.1h0M234.1 94.5h0M216.6 121.6h0M234.2 114.1h0M232.2 140.9h0M233.9 126.7h0M271.2 149.2h0M243.3 132.9h0M215.0 122.8h0M209.2 104.5h0M291.5 86.4h0M240.0 142.4h0M274.2 135.5h0M228.7 99.6h0M240.2 113.5h0M219.5 112.1h0M225.9 125.0h0M233.8 133.4h0M258.6 94.3h0M249.9 112.1h0M239.2 161.2h0M239.4 108.5h0M223.0 107.8h0M258.8 166.2h0M262.8 136.2h0" stroke="#216fc7"/><path d="M255.1 131.8h0M230.9 108.3h0M247.8 102.3h0M250.4 101.5h0M257.4 92.3h0M264.4 156.2h0M226.2 114.5h0M230.4 128.9h0M283.0 148.9h0M289.0 148.1h0M263.0 134.3h0M238.2 95.4h0" stroke="#216abe"/><path d="M281.3 104.8h0M220.8 79.4h0M298.5 116.1h0M302.8 133.1h0M227.6 111.3h0M241.8 157.7h0M260.9 127.5h0M262.5 97.6h0M220.5 86.7h0M272.3 116.4h0M226.3 99.4h0M257.3 109.0h0M253.6 112.9h0M239.7 100.3h0M241.4 135.3h0M272.3 127.2h0M223.7 130.8h0M250.7 109.5h0M243.6 118.7h0M245.7 94.0h0M252.7 150.7h0M231.7 119.4h0M240.9 137.7h0" stroke="#2265b6"/><path d="M282.4 109.4h0M226.7 85.1h0M204.2 106.0h0M236.3 136.4h0M257.6 133.2h0M244.1 104.6h0" stroke="#225fad"/><path d="M256.6 97.3h0M227.9 89.1h0M306.2 137.2h0M286.7 148.8h0M252.8 104.6h0M276.1 126.6h0" stroke="#225ba5"/><path d="M230.7 104.1h0M253.0 113.5h0M237.4 84.3h0M283.3 159.8h0" stroke="#22559d"/><path d="M278.8 119.7h0M253.1 136.5h0M300.2 138.5h0" stroke="#215094"/><path d="M279.7 124.7h0M235.2 141.9h0M224.6 123.7h0M241.0 147.5h0M294.1 148.7h0M275.5 101.2h0M295.5 133.5h0M279.7 123.1h0" stroke="#214c8d"/><path d="M308.7 130.2h0M287.4 122.7h0M273.0 137.6h0M238.4 145.2h0M233.4 109.2h0M265.5 108.5h0M248.1 104.4h0M261.7 150.0h0M242.4 119.5h0M235.9 163.9h0M248.7 201.7h0M293.4 168.5h0M238.5 112.0h0M263.3 93.3h0M271.6 150.0h0M288.4 155.7h0M271.6 167.6h0M278.1 110.1h0M291.9 152.9h0" stroke="#204784"/><path d="M264.1 142.5h0M250.1 135.0h0M284.7 103.5h0M263.9 128.3h0M291.6 125.0h0M330.1 124.2h0M239.2 115.6h0M318.1 128.2h0M310.9 162.5h0M304.5 121.4h0M273.0 106.6h0M270.8 117.2h0M272.9 145.7h0M255.5 173.3h0M258.3 76.1h0M284.6 154.3h0M287.9 159.3h0" stroke="#20427c"/><path d="M278.0 128.1h0M299.4 154.9h0M292.2 163.5h0M288.9 118.6h0M293.7 114.9h0M253.4 108.8h0M279.2 128.4h0M324.3 110.3h0M243.6 177.2h0M283.5 169.8h0M281.0 157.0h0M274.8 147.2h0M283.8 134.3h0M239.6 118.5h0M265.2 160.4h0M257.5 141.8h0M271.8 99.7h0M302.2 169.0h0M270.8 140.2h0M280.2 129.5h0M276.9 125.4h0M238.0 89.3h0M292.9 119.0h0M302.0 146.9h0" stroke="#1f3d75"/><path d="M268.3 158.0h0M289.2 174.5h0M266.2 133.8h0M282.3 117.0h0M244.8 136.4h0M256.3 133.1h0M301.0 147.7h0M278.4 225.0h0M240.3 107.5h0M292.4 141.7h0M244.1 115.9h0M254.5 99.4h0M267.3 113.0h0M267.8 144.9h0M277.0 105.4h0" stroke="#1e386c"/><path d="M266.8 111.5h0M255.8 79.7h0M266.9 120.0h0M262.2 121.2h0M249.6 127.4h0M267.8 101.8h0M262.4 118.7h0M242.7 112.2h0M321.2 191.3h0M265.9 131.6h0M265.8 91.7h0M267.6 114.9h0M253.0 107.4h0M283.7 120.1h0M242.8 94.0h0M271.2 133.7h0M271.6 112.4h0M265.6 126.1h0M298.9 179.8h0M297.9 145.7h0M243.4 136.3h0M263.4 161.9h0M275.4 165.6h0M286.8 116.8h0M303.2 135.9h0M291.0 193.1h0M297.4 126.8h0" stroke="#1d3465"/><path d="M248.9 148.6h0M303.7 159.4h0M252.7 122.9h0M274.0 111.5h0M279.6 98.0h0M249.6 166.0h0M267.6 150.3h0M299.0 142.9h0M270.2 130.9h0M240.4 133.3h0M261.2 95.6h0M264.8 120.3h0M269.1 143.4h0M264.7 113.4h0M271.0 124.1h0" stroke="#1c305d"/><path d="M277.1 179.3h0M241.6 92.2h0M289.6 135.4h0M295.3 136.8h0M265.4 169.9h0M279.2 190.9h0M250.4 148.6h0M256.7 130.2h0" stroke="#1a2b56"/><path d="M263.8 116.3h0M272.0 102.6h0M276.6 94.7h0M267.2 176.3h0M325.3 173.7h0M289.3 74.2h0M247.6 135.9h0M231.8 111.2h0M272.5 73.3h0" stroke="#1a274f"/><path d="M105.3 282.3h0M88.8 246.9h0" stroke="#ed8200"/><path d="M111.2 179.5h0M85.6 207.7h0M101.7 275.5h0" stroke="#ea8219"/><path d="M79.8 196.3h0M65.7 264.0h0M107.6 198.4h0M123.5 189.0h0" stroke="#e78227"/><path d="M68.7 245.5h0M103.1 204.6h0M122.3 192.8h0M89.9 211.2h0" stroke="#e38232"/><path d="M123.1 210.6h0M125.4 167.1h0M131.5 170.6h0M114.0 180.0h0" stroke="#e1823b"/><path d="M124.5 164.6h0M121.5 235.3h0M122.4 202.4h0M69.5 223.8h0M76.2 249.8h0M147.0 205.4h0M118.7 191.0h0" stroke="#dd8244"/><path d="M159.5 188.5h0M169.5 194.5h0M167.0 192.9h0M131.8 223.5h0M144.7 188.0h0M104.9 161.8h0M101.9 158.5h0" stroke="#da824d"/><path d="M134.4 171.9h0M134.8 205.2h0M119.7 114.1h0" stroke="#d68254"/><path d="M135.1 76.4h0M160.4 246.9h0M109.6 162.0h0M116.1 99.0h0M136.4 201.7h0M168.0 218.7h0M122.8 207.5h0" stroke="#d3825d"/><path d="M139.2 137.9h0M133.2 200.5h0M172.8 126.0h0M184.0 241.2h0M160.6 179.1h0M145.3 143.6h0M125.2 118.2h0" stroke="#cf8264"/><path d="M188.8 171.8h0M174.1 198.1h0" stroke="#cb826b"/><path d="M161.1 120.5h0M144.8 128.1h0M143.4 213.0h0M138.9 166.6h0M152.7 172.4h0" stroke="#c78273"/><path d="M154.2 137.0h0M160.1 146.4h0M156.2 171.2h0M155.0 187.1h0M149.6 217.8h0M194.0 186.4h0M170.3 171.2h0M161.2 140.0h0" stroke="#c3827a"/><path d="M175.7 133.9h0M156.3 139.5h0M139.5 106.1h0M165.8 168.9h0M180.1 123.3h0M149.2 167.2h0M136.9 139.0h0M180.3 154.1h0" stroke="#be8382"/><path d="M183.0 160.4h0M190.6 138.0h0M172.1 131.9h0M155.2 155.3h0M149.7 113.6h0M163.2 125.4h0M161.6 170.4h0M157.5 193.0h0" stroke="#b98388"/><path d="M177.5 121.9h0M151.7 156.3h0M167.8 134.2h0M188.5 157.3h0M177.7 203.8h0M158.5 203.4h0M174.9 175.1h0M169.0 121.1h0" stroke="#b48390"/><path d="M154.4 118.8h0M161.3 130.8h0M140.8 146.1h0" stroke="#ae8397"/><path d="M152.1 93.3h0M153.2 148.2h0M178.4 129.2h0M165.1 113.2h0M176.5 125.2h0M163.9 112.2h0M143.8 139.2h0M184.3 145.2h0M181.8 176.1h0M186.9 201.7h0M175.9 108.6h0" stroke="#a9839f"/><path d="M191.0 144.7h0M184.9 103.6h0M162.5 151.2h0M190.1 167.5h0M205.4 114.3h0M200.4 126.2h0M181.0 195.5h0M168.0 96.9h0M194.5 139.6h0M158.1 158.8h0" stroke="#a283a6"/><path d="M203.1 152.3h0M182.6 124.9h0M176.7 191.8h0M159.7 95.3h0M191.9 96.7h0M194.1 111.5h0M189.4 108.0h0M205.3 167.6h0M187.9 146.2h0M202.9 144.9h0M161.9 118.2h0" stroke="#9c83ac"/><path d="M177.7 133.3h0M194.3 115.1h0M191.1 178.4h0M194.1 116.4h0M207.3 150.1h0M159.4 126.5h0M201.2 190.7h0M181.5 153.6h0M198.6 148.1h0M204.0 103.6h0" stroke="#9484b4"/><path d="M185.1 98.3h0M173.2 104.9h0M183.4 115.8h0M190.3 102.7h0M181.7 78.3h0M201.5 183.6h0M180.6 138.1h0M204.3 151.8h0M234.5 205.5h0" stroke="#8c84bb"/><path d="M183.5 104.6h0M200.3 150.4h0M205.9 135.4h0M207.1 156.9h0M180.6 104.3h0M198.1 161.9h0M199.6 147.9h0M197.1 95.9h0M200.7 173.9h0M176.1 110.7h0M159.6 68.0h0M199.4 138.0h0M176.2 128.4h0" stroke="#8484c3"/><path d="M205.4 159.9h0M199.4 128.7h0M187.7 104.5h0M186.9 99.4h0M220.0 148.6h0M212.9 137.2h0M240.5 155.2h0M203.2 77.5h0M187.4 131.6h0M227.4 132.4h0" stroke="#7984ca"/><path d="M194.7 124.7h0M193.2 158.8h0M218.9 151.9h0M198.6 156.5h0M186.7 127.4h0M204.7 115.4h0M221.5 150.7h0M201.5 135.7h0M192.7 121.2h0M204.7 108.6h0M206.9 107.0h0M218.5 156.1h0" stroke="#6e84d1"/><path d="M209.8 127.8h0M207.1 113.5h0M201.4 111.1h0M229.4 146.5h0M189.0 151.3h0M242.0 138.6h0M198.8 96.1h0M229.7 170.6h0M201.0 113.0h0" stroke="#6184d8"/><path d="M213.7 83.8h0M216.5 103.4h0M245.7 171.2h0M210.6 157.0h0M217.4 144.6h0M209.7 113.5h0M234.9 166.2h0M204.8 128.4h0M211.4 144.9h0M209.5 152.5h0M227.3 137.8h0M205.1 125.1h0M227.0 145.2h0M230.7 135.4h0M217.3 96.4h0M192.8 130.8h0M212.7 125.9h0M200.9 123.7h0M228.0 127.8h0M201.3 104.2h0M223.9 152.6h0" stroke="#5084e0"/><path d="M235.1 187.9h0M209.3 102.9h0M209.6 164.7h0M208.2 145.7h0M257.3 137.9h0M221.4 142.3h0M239.3 141.9h0M215.0 129.7h0M277.8 124.2h0M232.2 109.0h0M217.3 138.0h0M215.6 106.6h0M218.3 112.5h0M229.8 153.9h0M199.0 144.6h0M194.4 79.4h0" stroke="#3985e7"/><path d="M210.0 140.6h0M265.3 149.3h0M224.3 90.5h0M193.5 83.0h0M253.8 167.7h0M202.8 111.2h0M221.1 93.3h0M229.4 126.7h0M212.4 113.3h0M237.5 186.6h0M218.7 93.8h0M213.6 109.5h0M236.9 154.1h0M231.4 115.6h0M232.4 101.4h0M214.3 125.5h0M195.2 66.3h0" stroke="#1c84ea"/><path d="M261.1 171.0h0M210.9 140.7h0M230.2 133.4h0M224.7 126.1h0M236.6 111.3h0M280.5 151.2h0M248.3 113.4h0M220.6 116.2h0M211.6 115.9h0M247.9 168.6h0M248.3 126.3h0M246.2 151.5h0M246.9 123.8h0" stroke="#1d7fe1"/><path d="M211.2 100.7h0M222.1 126.9h0M268.3 144.2h0M229.6 101.9h0M210.9 114.6h0M225.6 108.1h0M227.6 135.9h0M225.1 94.0h0M238.4 108.1h0M211.9 121.0h0M242.7 154.5h0M241.0 144.6h0M202.6 119.2h0M243.7 126.4h0M233.3 147.5h0M244.8 176.1h0M200.8 108.8h0M218.3 101.0h0M212.1 110.9h0M218.4 131.1h0M258.5 162.3h0M299.7 141.7h0M247.4 163.2h0M240.3 126.6h0M228.6 139.2h0M207.6 131.4h0M244.3 126.1h0" stroke="#1f79d8"/><path d="M250.3 131.3h0M276.5 168.7h0M230.5 88.1h0M260.8 133.7h0M195.8 91.2h0M214.2 73.2h0M225.7 149.0h0M206.6 117.7h0M270.7 130.0h0M232.2 125.6h0M197.8 113.6h0M240.4 111.4h0M213.4 105.0h0M226.6 110.2h0M221.5 136.8h0" stroke="#2074d0"/><path d="M289.7 143.7h0M210.5 124.7h0M242.0 120.8h0M256.5 91.0h0M297.8 160.7h0M242.9 108.0h0M247.0 133.6h0M276.7 128.6h0M222.3 112.4h0M283.9 138.6h0M246.8 142.8h0M228.7 134.8h0M212.1 118.3h0M184.2 118.4h0M238.1 120.9h0M202.2 103.0h0" stroke="#216fc7"/><path d="M254.9 108.7h0M224.8 102.7h0M251.8 107.0h0M230.6 110.9h0M248.5 83.1h0M225.8 88.9h0M222.5 95.3h0M220.0 106.1h0M243.8 104.7h0M244.0 109.2h0M233.7 111.9h0M245.9 99.6h0M255.1 119.5h0M278.7 132.9h0M208.6 122.7h0M232.5 112.7h0" stroke="#216abe"/><path d="M218.4 124.4h0M230.0 105.6h0M226.4 111.8h0M233.5 126.5h0M239.1 98.1h0M250.6 129.8h0M220.4 145.0h0M229.4 81.0h0M226.2 126.5h0M258.4 111.6h0" stroke="#2265b6"/><path d="M261.0 130.8h0M237.1 85.8h0M226.4 99.7h0M216.1 110.9h0M288.6 108.6h0M266.1 147.2h0M241.9 100.3h0M308.2 150.4h0M255.0 112.6h0M231.6 93.7h0M240.7 114.0h0M222.2 103.6h0" stroke="#225fad"/><path d="M245.4 109.7h0M231.0 126.0h0M216.4 95.3h0M235.9 118.8h0M271.0 173.4h0M249.0 85.8h0M291.8 122.1h0M246.3 137.9h0" stroke="#225ba5"/><path d="M297.5 133.4h0M286.9 95.4h0M238.9 92.8h0M243.5 92.6h0M296.1 152.8h0M231.2 74.6h0M285.8 111.1h0M277.0 140.5h0M252.3 135.1h0" stroke="#22559d"/><path d="M259.9 127.9h0" stroke="#215094"/><path d="M276.2 149.3h0M259.0 126.6h0M260.2 109.4h0M296.2 117.5h0M287.5 119.1h0M260.1 174.1h0" stroke="#214c8d"/><path d="M280.3 166.4h0M284.0 166.6h0M231.9 88.5h0M267.9 110.8h0M293.0 174.3h0M263.2 150.3h0M251.7 91.0h0M263.7 97.2h0M244.5 101.0h0M271.4 108.6h0" stroke="#204784"/><path d="M262.6 114.1h0M294.6 123.5h0M274.5 119.0h0M303.4 170.5h0M275.7 146.0h0M256.1 96.0h0M294.4 115.5h0M242.6 98.8h0M270.1 103.2h0M209.4 153.6h0M278.6 82.8h0M261.0 138.2h0" stroke="#20427c"/><path d="M270.9 95.0h0M271.7 104.8h0M281.5 114.9h0M287.8 201.2h0M289.4 115.9h0M298.8 134.9h0M253.2 129.9h0M251.4 91.5h0M259.4 102.8h0M277.8 115.3h0M273.1 87.8h0M251.2 105.5h0M276.9 155.5h0M282.3 162.5h0M277.6 153.7h0M278.9 85.5h0M262.9 106.8h0M290.7 102.5h0M296.5 103.2h0M327.3 120.2h0M286.0 108.3h0M273.6 125.8h0M251.6 111.2h0M283.2 96.7h0" stroke="#1f3d75"/><path d="M243.8 128.9h0M253.9 103.8h0M243.1 98.1h0M281.8 91.8h0M275.3 149.8h0M260.8 101.1h0M307.3 140.3h0M274.1 107.3h0M263.1 124.1h0M279.8 148.1h0M313.0 128.2h0M276.6 141.9h0M253.1 127.2h0M278.3 136.0h0M273.5 142.2h0M257.9 98.8h0" stroke="#1e386c"/><path d="M268.4 115.9h0M271.5 119.2h0M290.6 158.6h0M265.7 158.9h0M261.3 122.1h0M250.5 88.4h0M273.7 119.2h0M284.2 85.2h0M250.0 114.7h0M281.0 233.9h0M260.0 115.2h0M263.2 105.3h0M285.1 97.6h0M274.2 216.8h0M255.2 152.2h0M261.2 134.4h0M264.9 103.8h0M265.6 134.5h0M289.5 131.2h0M267.5 122.5h0" stroke="#1d3465"/><path d="M294.8 128.3h0M265.8 154.2h0M275.2 118.6h0M259.7 131.1h0M268.7 140.3h0M295.6 172.3h0M274.9 99.3h0M261.1 116.9h0M248.7 116.1h0M252.6 118.7h0M253.6 125.2h0M294.0 133.8h0M281.4 100.4h0M281.6 135.7h0M234.8 83.9h0M278.7 139.9h0M237.6 112.7h0M303.3 163.2h0M285.4 106.4h0M300.1 170.2h0M259.1 135.5h0M287.8 101.0h0M245.9 117.4h0M261.5 142.7h0" stroke="#1c305d"/><path d="M283.2 125.7h0M262.3 116.7h0M244.6 105.0h0M300.4 151.8h0M305.3 179.9h0M285.1 146.2h0M268.2 128.4h0M299.8 105.3h0M320.6 158.1h0M262.0 113.5h0M290.8 115.2h0M290.3 149.8h0M269.2 180.8h0M311.4 177.3h0M260.8 148.0h0" stroke="#1a2b56"/><path d="M233.8 116.5h0M278.5 170.5h0M268.5 89.5h0M289.5 114.2h0M248.0 77.1h0M273.7 156.5h0M255.3 109.9h0M290.8 138.1h0M250.2 162.7h0M254.5 73.7h0M263.7 118.3h0M252.9 101.7h0M296.8 151.8h0" stroke="#1a274f"/><path d="M83.1 299.5h0M77.7 242.5h0M114.9 204.9h0M73.5 258.7h0" stroke="#ed8200"/><path d="M100.4 198.4h0M85.3 240.4h0M97.9 208.7h0M110.9 216.7h0M82.9 228.7h0M88.0 259.3h0M134.3 194.0h0" stroke="#ea8219"/><path d="M124.0 275.9h0M116.2 199.9h0M128.2 223.7h0M84.6 232.1h0M111.3 191.7h0" stroke="#e78227"/><path d="M98.9 241.5h0M105.2 200.2h0M91.9 202.3h0M75.7 210.8h0M126.5 135.2h0M96.5 167.1h0" stroke="#e38232"/><path d="M145.5 173.5h0M125.0 181.2h0M128.9 166.4h0M115.2 187.1h0M84.3 247.5h0M106.1 140.8h0M120.9 196.7h0M127.5 231.9h0" stroke="#e1823b"/><path d="M112.4 212.4h0" stroke="#dd8244"/><path d="M118.1 131.8h0M121.7 153.7h0M144.9 218.0h0M137.1 146.2h0M121.9 173.8h0M108.6 167.6h0" stroke="#da824d"/><path d="M113.7 199.1h0M134.6 188.5h0M141.9 208.8h0M132.7 169.5h0M126.1 141.1h0" stroke="#d68254"/><path d="M145.6 181.4h0M147.8 169.4h0M141.0 167.7h0M140.1 193.2h0" stroke="#d3825d"/><path d="M187.6 182.5h0M150.9 142.8h0M114.4 94.2h0M131.9 121.5h0M141.7 193.3h0M159.1 197.4h0" stroke="#cf8264"/><path d="M134.7 137.0h0M162.6 225.3h0M164.5 144.4h0M146.1 140.9h0M164.8 184.2h0M141.1 108.5h0M137.5 157.0h0" stroke="#cb826b"/><path d="M138.3 179.6h0M138.2 112.7h0M146.5 163.8h0M147.4 128.0h0M157.6 132.1h0M159.9 122.8h0M181.7 190.2h0" stroke="#c78273"/><path d="M179.6 177.5h0M152.8 126.8h0M203.4 173.6h0M159.4 175.5h0M172.2 138.0h0M132.3 154.1h0M149.3 180.6h0" stroke="#c3827a"/><path d="M183.2 200.7h0M157.3 182.3h0M162.3 123.8h0" stroke="#be8382"/><path d="M192.3 187.2h0M154.6 150.2h0M191.2 173.5h0M192.2 149.9h0M169.2 142.6h0M167.4 119.0h0M157.0 114.7h0M182.2 211.9h0M157.4 162.2h0M151.5 145.7h0M154.3 158.0h0" stroke="#b98388"/><path d="M150.6 170.4h0M167.4 136.4h0M184.7 89.9h0M165.5 165.5h0M160.2 142.1h0M199.1 163.7h0" stroke="#b48390"/><path d="M152.3 144.9h0M197.6 182.7h0M168.3 107.4h0M180.2 176.3h0M178.0 120.7h0M155.4 127.4h0" stroke="#ae8397"/><path d="M152.0 126.6h0M183.1 123.5h0" stroke="#a9839f"/><path d="M181.2 118.6h0M177.2 231.3h0M171.8 142.2h0" stroke="#a283a6"/><path d="M179.5 150.0h0M190.2 154.0h0M214.1 132.0h0M189.1 176.8h0M188.8 120.5h0M163.3 144.0h0M196.2 167.3h0M184.5 108.6h0" stroke="#9c83ac"/><path d="M196.4 168.4h0M199.2 213.5h0M183.9 114.1h0M174.4 125.3h0M190.5 130.8h0M179.4 184.6h0M186.5 139.4h0M185.9 120.5h0M174.9 106.3h0" stroke="#9484b4"/><path d="M180.9 125.9h0M175.1 88.1h0M198.6 109.1h0M205.5 122.1h0M150.2 121.6h0M187.9 166.2h0M176.9 119.3h0M202.5 136.9h0M194.2 132.5h0M197.9 141.2h0M205.9 116.2h0M222.5 156.7h0M201.6 181.9h0M195.6 95.4h0M184.1 125.6h0" stroke="#8c84bb"/><path d="M198.9 151.7h0M192.0 120.5h0M203.5 204.7h0M218.2 179.4h0M172.6 82.0h0M195.0 121.5h0M197.2 119.8h0M206.4 174.8h0M166.3 162.6h0M227.8 159.8h0M166.7 130.9h0M182.0 112.4h0" stroke="#8484c3"/><path d="M218.0 141.9h0M176.5 162.2h0M206.8 145.1h0M195.8 125.7h0M195.5 118.5h0M203.9 123.5h0M173.0 133.2h0M217.5 175.4h0" stroke="#7984ca"/><path d="M179.0 116.7h0M227.3 123.2h0M199.9 129.6h0M219.0 145.0h0M190.7 119.4h0M185.1 136.7h0M200.6 115.5h0M218.9 126.5h0" stroke="#6e84d1"/><path d="M197.9 173.2h0M205.8 106.5h0M219.8 207.0h0M228.3 180.5h0M247.6 114.8h0M214.0 129.2h0M220.3 126.7h0M200.2 102.3h0M192.6 128.8h0M207.2 135.2h0M189.2 110.9h0M176.8 155.9h0M207.6 143.0h0" stroke="#6184d8"/><path d="M215.3 148.9h0M193.4 103.0h0M217.7 86.8h0M188.1 107.7h0M229.8 143.4h0M202.3 123.8h0M208.0 113.9h0M201.0 157.2h0M187.7 117.8h0M209.7 107.0h0M237.2 144.3h0M216.2 147.3h0M211.5 123.7h0" stroke="#5084e0"/><path d="M228.9 114.2h0M229.5 103.1h0M209.3 118.4h0M223.7 161.6h0M201.5 144.0h0M248.4 181.9h0M203.3 101.2h0M214.5 121.0h0M251.5 154.1h0M214.1 99.1h0M217.7 163.4h0M229.5 115.7h0" stroke="#3985e7"/><path d="M219.8 114.7h0M221.0 133.7h0M280.1 143.3h0M193.9 99.0h0M219.0 163.8h0M228.9 96.3h0M248.8 104.0h0M244.3 141.5h0M226.3 176.3h0M232.0 128.0h0M219.9 122.0h0M247.7 146.1h0M199.8 92.8h0M211.1 91.7h0M203.7 97.5h0M238.7 139.1h0M232.0 153.3h0M210.3 106.3h0" stroke="#1c84ea"/><path d="M287.3 115.7h0M247.1 163.0h0M238.7 116.7h0M231.1 163.6h0M193.1 113.8h0M226.7 158.9h0M214.7 106.4h0M227.1 134.8h0M215.4 118.1h0M219.5 178.3h0M237.1 117.4h0M219.7 99.6h0M224.5 116.4h0M238.0 138.3h0M198.2 92.0h0M251.1 124.0h0M185.7 113.5h0M196.1 108.0h0" stroke="#1d7fe1"/><path d="M223.2 116.9h0M259.9 110.9h0M245.5 103.2h0M201.3 116.9h0M252.5 105.7h0M212.2 130.8h0M239.3 188.9h0M213.8 114.4h0M268.6 124.2h0M226.0 117.6h0M275.9 83.3h0M208.7 111.5h0M236.6 105.3h0M243.5 101.0h0M260.4 113.8h0M211.8 135.9h0M223.2 144.5h0M218.8 97.4h0M223.3 172.1h0M265.2 143.3h0M261.8 129.5h0M241.2 121.3h0M232.1 67.1h0M211.5 92.3h0M264.8 147.2h0M234.7 108.5h0M265.1 120.2h0M253.5 114.8h0M228.4 99.9h0M212.0 77.8h0" stroke="#1f79d8"/><path d="M228.5 107.7h0M224.8 80.5h0M274.1 126.9h0M216.0 95.1h0M230.9 107.1h0M234.5 109.8h0M246.7 98.6h0M225.9 100.5h0M254.8 135.1h0M232.7 155.1h0M223.4 76.3h0M219.9 140.5h0M245.3 152.6h0M208.5 91.6h0M224.2 132.6h0M217.8 104.6h0M223.4 121.4h0M247.2 122.9h0M241.6 112.8h0M216.6 112.2h0M215.6 144.4h0M247.9 118.4h0M192.3 117.2h0M226.5 124.1h0M218.0 108.9h0M248.1 127.9h0M205.0 91.2h0M226.9 114.0h0M216.7 94.3h0M234.0 138.9h0M226.1 107.7h0M223.7 91.6h0" stroke="#2074d0"/><path d="M232.6 99.7h0M244.9 121.9h0M254.2 90.7h0M240.5 129.8h0M226.8 116.2h0M293.6 150.9h0M248.3 136.3h0M237.4 140.9h0M270.5 148.2h0M250.1 138.7h0M230.8 96.9h0M268.7 107.7h0M230.5 145.8h0M219.6 135.3h0M244.4 107.4h0M270.2 123.3h0M203.1 96.2h0M266.4 117.6h0M251.9 110.9h0M218.6 88.5h0M249.1 145.4h0M225.4 98.4h0M242.5 81.5h0" stroke="#216fc7"/><path d="M252.2 112.7h0M211.2 125.0h0M211.7 112.0h0M233.4 103.5h0M207.9 107.6h0M251.2 98.2h0M234.7 127.7h0M229.0 110.4h0M212.2 99.9h0M241.1 124.8h0M266.8 99.5h0M256.8 134.7h0M215.0 110.6h0M252.2 103.0h0M245.2 110.7h0M249.4 130.3h0M226.8 104.5h0" stroke="#216abe"/><path d="M237.9 131.1h0M312.4 160.4h0M234.8 148.4h0M280.7 123.8h0M258.0 116.1h0M219.2 109.1h0M251.9 140.7h0M246.5 88.8h0M217.2 115.0h0M226.0 62.0h0M235.4 110.5h0M232.7 171.0h0M240.6 105.9h0M249.3 72.8h0M225.5 110.4h0" stroke="#2265b6"/><path d="M261.6 107.4h0M241.8 106.1h0M260.7 112.3h0" stroke="#225fad"/><path d="M261.3 109.1h0M244.7 111.1h0M247.4 111.1h0M219.7 106.4h0M257.2 144.5h0" stroke="#225ba5"/><path d="M267.2 134.0h0M277.4 107.3h0M241.5 107.1h0M235.7 89.9h0M241.2 103.5h0" stroke="#22559d"/><path d="M285.3 167.8h0M242.2 95.3h0M268.1 163.0h0M273.9 138.6h0M262.9 98.3h0M247.3 106.9h0M280.9 127.4h0" stroke="#215094"/><path d="M252.3 111.8h0M288.0 90.0h0M253.1 116.3h0M251.8 80.6h0M296.6 119.5h0M268.8 88.1h0M281.3 147.2h0M285.7 145.3h0M257.8 140.2h0M283.4 131.4h0M279.4 115.5h0" stroke="#214c8d"/><path d="M292.7 138.2h0M283.6 104.0h0M258.2 171.3h0M248.2 117.4h0M285.5 115.3h0M255.9 142.6h0M273.2 102.3h0M258.2 110.0h0M217.6 133.7h0M260.1 96.6h0M254.4 145.8h0M254.4 165.3h0M288.1 111.3h0" stroke="#204784"/><path d="M282.5 155.0h0M269.3 91.8h0M273.3 157.2h0M270.5 144.1h0M259.3 118.4h0M249.5 101.7h0M282.6 137.6h0M293.7 94.5h0M235.5 135.0h0M257.9 95.0h0M254.0 122.0h0M249.1 118.0h0" stroke="#20427c"/><path d="M287.7 126.1h0M307.8 141.7h0M243.7 147.4h0M265.1 96.4h0M286.6 126.7h0M278.9 159.5h0M287.1 136.8h0M275.5 117.6h0M289.7 185.4h0M298.5 131.5h0M308.9 179.4h0M269.8 183.4h0M286.5 119.4h0M264.6 117.3h0" stroke="#1f3d75"/><path d="M273.3 123.3h0M276.4 166.2h0M295.0 98.0h0M297.8 131.9h0M273.5 183.1h0M295.0 184.3h0M252.2 108.7h0M309.3 118.1h0M315.0 159.0h0M291.4 117.8h0M310.5 145.8h0M313.6 90.0h0M269.2 120.8h0M294.5 130.7h0M255.5 119.0h0M269.1 94.9h0M277.9 122.1h0M272.0 144.0h0M250.8 133.8h0M246.7 129.5h0M269.1 199.3h0" stroke="#1e386c"/><path d="M282.8 128.8h0M287.6 142.2h0M280.0 94.7h0M258.4 145.4h0M260.6 157.0h0M235.1 117.7h0M300.6 164.9h0M254.3 167.2h0M249.7 144.3h0M251.5 115.0h0M283.8 143.9h0M254.5 125.0h0M249.5 116.6h0M260.4 148.0h0M260.4 193.0h0M242.8 171.5h0M264.3 99.6h0M278.2 92.6h0M288.3 104.1h0M271.7 118.6h0" stroke="#1d3465"/><path d="M288.2 129.7h0M318.7 144.7h0M291.1 142.4h0M286.3 116.2h0M284.5 142.1h0M254.6 161.4h0M235.7 142.5h0M281.2 126.1h0M249.3 152.8h0M245.7 135.1h0M282.7 108.2h0M231.6 136.2h0M285.6 143.5h0M256.9 148.1h0M229.2 130.4h0M270.9 167.9h0M253.3 189.6h0M264.6 104.8h0M242.2 154.9h0M260.9 160.9h0M269.9 211.8h0" stroke="#1c305d"/><path d="M274.7 123.5h0M254.9 87.9h0M273.9 89.0h0M260.5 143.4h0M287.3 168.4h0M246.0 154.0h0M270.6 128.5h0M277.3 137.4h0M280.6 110.3h0M259.2 155.6h0M259.8 79.0h0M268.3 108.9h0" stroke="#1a2b56"/><path d="M280.8 146.5h0M261.5 123.9h0M293.9 125.3h0M285.4 120.4h0M288.0 137.9h0M243.3 115.1h0M266.9 176.8h0M250.7 151.6h0" stroke="#1a274f"/><path d="M96.7 235.9h0M112.0 219.8h0M105.9 250.1h0M83.3 223.1h0M116.8 241.0h0M99.4 227.5h0M92.1 221.7h0M98.3 157.8h0" stroke="#ed8200"/><path d="M100.2 171.6h0M112.8 227.0h0M94.8 212.8h0M103.8 232.0h0" stroke="#ea8219"/><path d="M95.7 230.4h0M95.1 199.7h0M93.3 230.2h0M105.4 238.3h0M104.0 184.3h0M71.0 245.2h0M109.9 198.3h0M113.2 206.0h0" stroke="#e78227"/><path d="M99.6 185.2h0M108.8 191.5h0M110.2 206.6h0" stroke="#e38232"/><path d="M106.2 219.5h0M74.7 267.5h0M101.3 202.0h0M114.3 235.8h0M136.2 178.6h0M107.3 185.8h0M67.8 232.0h0M124.7 197.3h0M111.5 150.5h0" stroke="#e1823b"/><path d="M113.4 167.7h0M123.9 185.7h0M94.6 194.2h0M136.0 163.9h0M97.3 217.8h0" stroke="#dd8244"/><path d="M123.6 152.5h0M124.9 158.6h0M108.9 179.4h0M120.2 188.0h0" stroke="#da824d"/><path d="M106.9 129.9h0M136.1 199.8h0M148.0 197.3h0M125.6 212.3h0M161.8 175.7h0M131.1 198.6h0M136.7 223.0h0M141.5 172.8h0M117.8 150.8h0" stroke="#d68254"/><path d="M127.0 189.0h0M143.9 162.9h0M126.7 158.1h0M148.8 273.1h0M129.1 212.1h0M144.1 123.8h0M118.0 174.5h0M154.0 176.5h0M133.3 150.2h0M148.2 183.9h0M130.6 168.8h0" stroke="#d3825d"/><path d="M131.3 160.4h0" stroke="#cf8264"/><path d="M149.0 141.3h0M131.0 131.6h0M153.3 141.3h0M167.2 250.4h0M156.5 205.0h0" stroke="#cb826b"/><path d="M160.2 215.7h0M129.9 106.1h0M143.5 86.6h0M168.4 112.8h0M170.7 131.0h0" stroke="#c78273"/><path d="M187.3 175.6h0M148.8 153.1h0M164.6 211.7h0M149.4 148.4h0M122.9 84.2h0M167.7 168.2h0M184.7 139.0h0M165.5 151.3h0M137.9 96.2h0" stroke="#c3827a"/><path d="M163.7 138.2h0M150.8 200.8h0M174.3 108.3h0M146.8 180.8h0M168.1 175.9h0M156.8 137.3h0M186.8 124.2h0M165.9 120.8h0M168.7 189.6h0M169.8 122.3h0" stroke="#be8382"/><path d="M167.1 128.4h0M183.7 182.4h0M141.3 156.7h0M155.8 167.0h0M203.1 191.1h0M182.5 191.7h0M173.0 165.3h0M150.4 153.7h0M176.0 208.6h0" stroke="#b98388"/><path d="M178.3 101.8h0M180.8 186.6h0M158.8 103.2h0M171.5 173.8h0M148.6 117.9h0M165.9 189.2h0M188.4 226.5h0" stroke="#b48390"/><path d="M161.5 159.8h0M158.6 118.1h0M164.3 118.6h0M173.5 142.7h0M173.2 221.7h0M177.0 114.4h0M175.5 103.5h0M180.2 132.1h0M178.5 135.4h0" stroke="#ae8397"/><path d="M153.9 111.0h0M151.1 133.3h0M176.3 120.2h0M197.4 185.9h0M178.9 93.1h0M174.8 230.5h0M165.6 147.6h0M188.1 137.4h0M162.8 192.7h0" stroke="#a9839f"/><path d="M188.2 125.9h0M179.3 124.9h0" stroke="#a283a6"/><path d="M203.7 112.1h0M177.0 133.4h0M186.5 70.2h0M201.1 139.6h0M183.9 162.0h0M182.2 143.4h0M164.3 140.4h0" stroke="#9c83ac"/><path d="M166.4 124.9h0M192.9 158.7h0M163.3 72.2h0M177.8 145.2h0M187.1 126.2h0M198.0 125.7h0M183.7 138.7h0M206.9 140.1h0M195.1 142.1h0M212.3 179.6h0M174.0 174.1h0M196.8 120.8h0M189.5 130.4h0M207.9 168.0h0M203.6 105.3h0" stroke="#9484b4"/><path d="M210.3 166.7h0M192.9 191.2h0M182.9 127.3h0M173.7 129.2h0M185.0 166.0h0M216.7 178.7h0M204.1 135.0h0M179.9 129.0h0M197.6 158.9h0M200.7 150.9h0" stroke="#8c84bb"/><path d="M206.0 183.1h0M231.4 158.4h0M225.2 135.5h0M195.9 116.8h0M181.4 114.6h0M234.2 151.1h0M202.0 98.9h0M185.3 153.7h0M179.7 121.6h0M194.6 108.3h0M207.6 114.9h0" stroke="#8484c3"/><path d="M201.9 119.0h0M199.3 107.0h0M201.2 100.3h0M198.9 116.8h0M201.7 114.9h0M185.5 95.7h0M176.7 90.2h0M199.1 105.8h0M205.2 148.4h0M223.6 156.8h0M189.6 142.7h0M207.0 121.2h0M199.9 153.1h0" stroke="#7984ca"/><path d="M200.3 96.0h0M215.2 148.6h0M181.1 94.7h0M209.6 109.4h0M232.4 203.9h0M224.7 107.0h0M197.1 129.8h0M186.6 106.1h0M206.5 153.9h0M200.4 99.9h0M204.0 140.7h0M207.0 87.5h0" stroke="#6e84d1"/><path d="M197.3 169.8h0M186.3 110.6h0M221.9 182.8h0M199.7 110.9h0M213.5 121.9h0M195.2 162.8h0M220.8 107.7h0M205.6 137.6h0M243.2 132.5h0M208.5 131.6h0" stroke="#6184d8"/><path d="M245.6 130.0h0M206.7 126.6h0M191.8 103.0h0M208.1 95.2h0M199.2 87.5h0M190.4 99.6h0M209.0 118.1h0M249.2 109.6h0M202.3 133.1h0M203.4 126.4h0M180.4 109.4h0M209.1 193.2h0M225.3 137.4h0" stroke="#5084e0"/><path d="M290.5 154.2h0M225.8 141.1h0M210.0 143.8h0M301.7 204.5h0M220.8 123.0h0M202.5 110.0h0M193.7 118.8h0M222.9 147.5h0M238.3 150.9h0M217.1 141.1h0M237.3 179.1h0M210.8 108.5h0M230.6 145.2h0M256.5 151.1h0" stroke="#3985e7"/><path d="M215.3 102.6h0M230.1 129.9h0M287.2 153.5h0M249.7 108.1h0M251.2 161.9h0M211.5 96.6h0M208.0 100.3h0M220.1 109.3h0M221.2 118.4h0M217.9 115.3h0M205.1 93.2h0M231.5 132.7h0M222.8 118.4h0M218.3 105.5h0" stroke="#1c84ea"/><path d="M213.3 151.9h0M234.6 103.9h0M224.0 105.4h0M216.9 114.0h0M264.2 95.3h0M215.8 113.1h0M267.4 136.8h0M248.8 181.1h0M195.7 110.0h0M215.9 115.0h0M270.7 112.5h0M239.7 130.2h0M236.5 147.8h0M265.9 104.7h0M232.6 121.7h0M220.6 126.9h0M228.3 106.2h0M228.8 92.5h0" stroke="#1d7fe1"/><path d="M219.1 101.5h0M229.3 116.5h0M213.8 102.0h0M235.4 93.0h0M248.9 97.0h0M253.8 156.2h0M225.5 101.9h0M229.8 107.3h0M259.7 101.4h0M245.6 112.6h0M231.8 129.6h0M247.0 148.2h0M277.5 133.4h0M246.0 124.3h0M238.6 78.6h0M234.0 79.8h0M286.4 149.9h0M232.9 134.0h0M228.7 126.8h0M233.6 102.0h0M205.7 98.5h0" stroke="#1f79d8"/><path d="M217.4 92.4h0M264.5 184.2h0M222.6 97.7h0M231.4 113.1h0M249.8 156.1h0M212.5 127.4h0M209.9 135.6h0M245.2 119.7h0M239.8 88.9h0M227.5 93.9h0M236.9 135.3h0M253.7 106.5h0M212.3 102.9h0M226.9 96.0h0M236.8 114.5h0M224.2 94.7h0M223.9 98.9h0M262.4 143.8h0M211.8 89.7h0M280.5 113.8h0" stroke="#2074d0"/><path d="M242.6 154.2h0M236.2 115.9h0M206.1 94.7h0M239.2 123.0h0M232.6 82.5h0M240.6 118.1h0M274.3 159.1h0M236.8 147.6h0M241.8 140.7h0M236.1 129.0h0M235.8 101.4h0M273.1 151.9h0M298.6 110.7h0M228.8 120.3h0M211.9 107.7h0M218.6 138.1h0M236.4 97.1h0M214.0 116.9h0" stroke="#216fc7"/><path d="M264.0 115.6h0M267.1 107.5h0M229.9 99.0h0M234.7 119.3h0M281.6 145.6h0M212.9 108.3h0M224.4 101.5h0M222.0 107.8h0M220.2 121.3h0M284.4 156.7h0" stroke="#216abe"/><path d="M224.9 137.1h0M233.1 110.6h0M237.8 106.3h0M240.0 116.1h0M238.1 91.2h0M305.0 131.7h0M226.6 133.6h0M234.5 150.6h0M256.7 123.8h0M213.2 120.1h0M246.5 105.9h0M292.6 133.1h0M258.8 136.7h0M241.9 110.4h0M264.5 111.1h0M243.1 111.2h0M240.1 98.4h0M246.2 114.3h0M235.3 98.2h0" stroke="#2265b6"/><path d="M276.3 104.6h0M249.8 99.6h0M232.1 115.2h0M207.3 101.7h0M272.8 114.1h0M243.5 122.1h0" stroke="#225fad"/><path d="M225.7 72.2h0M236.7 95.6h0M226.0 82.6h0" stroke="#225ba5"/><path d="M235.0 100.4h0M271.1 85.2h0M236.0 76.3h0M234.9 87.1h0M212.6 98.8h0M292.4 73.3h0M266.4 113.1h0M249.4 103.2h0" stroke="#22559d"/><path d="M270.6 95.5h0M234.2 119.9h0M263.0 125.5h0M304.0 175.7h0M240.8 119.7h0M291.2 166.8h0" stroke="#215094"/><path d="M296.3 226.4h0M280.5 183.4h0M285.5 133.4h0M281.9 141.5h0M257.9 122.7h0M287.0 124.0h0M306.8 164.5h0" stroke="#214c8d"/><path d="M283.3 121.9h0M292.2 104.5h0" stroke="#204784"/><path d="M266.0 79.1h0M288.7 175.7h0M296.0 138.9h0M272.6 193.2h0M254.9 116.1h0M251.7 132.2h0M264.5 154.6h0M241.7 138.1h0M262.1 153.5h0M269.5 106.2h0M297.6 108.3h0M264.3 119.8h0M281.4 151.3h0M268.4 100.4h0M254.8 200.2h0M289.9 121.3h0M265.2 185.2h0" stroke="#20427c"/><path d="M257.5 160.6h0M290.3 139.4h0M262.1 81.7h0M278.3 112.3h0M261.9 121.4h0M286.3 160.7h0M316.4 136.4h0M260.0 128.3h0M251.0 113.9h0M279.1 137.1h0M272.8 134.7h0M259.6 119.8h0M262.5 164.8h0M249.2 132.5h0M285.0 177.5h0" stroke="#1f3d75"/><path d="M253.2 100.4h0M279.7 152.3h0M271.5 132.8h0M283.0 102.8h0M295.8 158.1h0M339.3 189.2h0M315.9 178.1h0M256.9 87.2h0M309.5 135.6h0M258.9 113.9h0M293.2 124.5h0M263.5 129.2h0M294.2 114.1h0M271.1 116.9h0M289.0 140.6h0M286.5 102.4h0M283.4 146.2h0M261.3 89.3h0M260.3 91.1h0M250.5 126.9h0M262.1 132.3h0M272.2 107.3h0M231.8 123.1h0M286.7 153.0h0M292.1 187.3h0M291.5 165.9h0M275.8 185.8h0" stroke="#1e386c"/><path d="M272.7 106.8h0M310.1 150.1h0M298.1 164.3h0M269.0 166.5h0M284.9 122.1h0M267.6 119.6h0M266.2 122.6h0M260.7 119.4h0M250.3 119.0h0M265.3 109.7h0M283.1 118.9h0M277.7 147.7h0M267.1 276.1h0M256.6 105.3h0M278.2 160.0h0M282.6 83.8h0M279.3 133.6h0M306.5 218.4h0M305.5 97.0h0M251.4 95.8h0M275.2 155.9h0M270.0 141.4h0M289.3 146.4h0M283.7 112.7h0M266.1 114.8h0M250.9 108.5h0M334.8 148.7h0M271.9 121.5h0" stroke="#1d3465"/><path d="M272.1 153.9h0M255.2 101.7h0M284.4 129.7h0M302.9 179.6h0M264.4 131.6h0M271.3 114.5h0M260.5 105.4h0M270.1 171.2h0M301.5 133.7h0M284.0 161.8h0M282.2 138.8h0M223.6 112.0h0M269.0 119.3h0M258.5 133.0h0M253.4 135.0h0M279.7 62.9h0M284.8 202.8h0" stroke="#1c305d"/><path d="M304.4 152.0h0M256.4 161.7h0M267.9 97.9h0M234.1 123.2h0M275.7 175.6h0M270.3 188.6h0M227.8 100.7h0M313.3 145.9h0M290.5 107.4h0M274.5 112.1h0M302.5 190.7h0" stroke="#1a2b56"/><path d="M291.9 145.0h0M269.7 214.3h0M269.6 102.1h0M254.6 117.2h0M267.0 127.3h0M256.7 119.6h0M257.8 89.1h0" stroke="#1a274f"/><path d="M439.8 266.5h0M459.5 213.1h0M454.6 266.4h0M477.7 215.5h0M492.4 193.1h0M449.5 207.3h0M461.5 220.8h0M488.3 206.3h0M474.2 208.4h0M453.5 244.8h0M479.4 204.5h0M444.4 239.8h0" stroke="#ed8200"/><path d="M478.0 228.8h0M480.2 201.1h0M454.1 245.6h0M453.2 210.1h0" stroke="#ea821a"/><path d="M450.5 273.5h0M495.0 271.8h0M490.9 223.2h0M479.9 225.4h0M489.0 164.9h0M428.9 275.3h0M440.6 247.1h0M457.5 175.2h0M499.7 201.0h0" stroke="#e68229"/><path d="M475.9 247.7h0M439.0 230.2h0M463.2 173.5h0M513.3 237.5h0M483.0 181.5h0M437.1 222.8h0M508.8 144.3h0M500.4 179.4h0" stroke="#e28235"/><path d="M493.4 178.9h0M473.0 165.5h0M477.8 166.3h0M468.5 166.0h0M457.9 180.6h0M467.0 178.2h0M497.4 159.4h0M510.5 164.4h0M441.4 220.9h0" stroke="#df8240"/><path d="M500.9 121.5h0" stroke="#db8249"/><path d="M475.0 175.3h0M495.7 195.5h0M471.1 175.3h0M498.8 141.8h0M525.1 157.5h0M504.8 193.4h0M499.5 183.9h0M515.7 174.3h0M521.4 210.5h0M494.5 185.6h0M479.7 175.4h0M499.1 170.5h0" stroke="#d78252"/><path d="M551.7 196.9h0M476.1 144.8h0" stroke="#d4825b"/><path d="M518.3 122.2h0M523.1 162.5h0M562.7 213.2h0M503.2 137.4h0M504.0 181.9h0M519.6 151.3h0M525.6 132.8h0M518.1 220.0h0M489.1 126.4h0" stroke="#cf8263"/><path d="M490.4 186.5h0M507.7 174.5h0M503.1 179.0h0M515.9 201.0h0M549.4 109.5h0" stroke="#cb826b"/><path d="M516.5 157.1h0M532.9 181.0h0M494.3 155.7h0M521.2 132.5h0M529.6 234.5h0M507.3 134.0h0" stroke="#c78274"/><path d="M524.4 175.2h0M520.9 109.3h0M518.4 141.4h0M497.8 184.0h0M543.7 156.4h0M555.2 201.2h0M527.2 184.2h0M548.7 193.0h0M522.4 181.6h0" stroke="#c1827c"/><path d="M533.7 162.3h0M554.3 152.5h0M543.1 102.4h0M523.4 167.1h0M552.1 193.3h0M532.5 190.5h0M547.1 199.7h0M516.9 100.4h0" stroke="#bc8384"/><path d="M547.5 116.9h0M556.1 143.8h0M514.0 144.2h0M511.6 149.2h0M551.9 219.6h0" stroke="#b7838c"/><path d="M562.3 143.9h0M524.6 132.0h0M527.9 125.6h0M529.0 139.1h0M528.7 149.5h0M553.6 137.5h0M526.9 141.0h0M531.6 135.2h0M530.6 136.6h0M556.0 194.2h0M534.3 144.6h0" stroke="#b08394"/><path d="M559.9 167.9h0M530.4 135.0h0M548.4 214.5h0M546.5 175.3h0M537.8 186.1h0" stroke="#ab839c"/><path d="M543.2 164.2h0M539.1 115.3h0M488.5 153.0h0M538.0 113.0h0M556.5 154.0h0M552.4 155.5h0" stroke="#a383a4"/><path d="M552.1 164.5h0M545.7 138.8h0M533.9 123.8h0M535.6 112.6h0M549.6 118.5h0M553.4 107.7h0M564.8 156.8h0M557.2 160.0h0" stroke="#9c83ac"/><path d="M554.5 104.0h0M555.3 228.4h0M544.9 149.1h0M550.3 109.5h0M529.3 98.1h0M563.4 115.7h0M549.0 124.5h0M548.1 112.5h0M557.3 140.2h0M560.9 169.1h0M540.4 75.3h0" stroke="#9484b4"/><path d="M555.0 106.3h0M539.2 180.2h0M555.2 135.4h0M565.0 104.6h0" stroke="#8b84bc"/><path d="M564.2 113.7h0M556.8 111.5h0M541.7 134.9h0M542.8 117.3h0M541.2 129.2h0M582.0 204.1h0M547.6 93.8h0M551.7 140.4h0M564.9 191.3h0" stroke="#8184c5"/><path d="M580.1 172.4h0M535.7 136.2h0M552.5 122.6h0M564.7 112.8h0M571.4 207.8h0M550.5 171.0h0M552.3 118.2h0M580.7 117.2h0" stroke="#7684cd"/><path d="M583.1 122.0h0M567.8 126.9h0M576.7 156.7h0M584.9 168.9h0M565.2 139.4h0M540.8 167.4h0M568.2 128.7h0M551.4 131.1h0M601.7 109.9h0M579.8 128.9h0M553.9 159.3h0" stroke="#6884d4"/><path d="M545.6 116.9h0M566.6 100.2h0M571.2 111.6h0M549.3 128.1h0" stroke="#5784dd"/><path d="M581.5 169.1h0M547.7 122.2h0M569.1 177.2h0M568.7 141.1h0M563.0 106.9h0M583.2 134.9h0M582.3 117.0h0M581.8 119.7h0M588.7 144.2h0M587.6 152.8h0M568.8 153.7h0M588.1 130.0h0M599.7 150.0h0M572.5 145.7h0M634.8 173.3h0M575.2 87.8h0" stroke="#4185e5"/><path d="M608.9 166.4h0M609.3 186.7h0M619.7 106.6h0M585.8 152.2h0M592.1 105.1h0M597.1 123.3h0M574.8 114.9h0M604.8 146.8h0M597.5 104.5h0M605.3 164.1h0M598.3 110.6h0M555.8 148.3h0M601.2 149.1h0M647.5 164.3h0M584.5 129.1h0" stroke="#1b84ec"/><path d="M570.9 153.1h0M581.1 98.9h0M585.6 122.8h0M615.8 154.6h0M563.8 120.8h0M630.6 171.3h0M599.4 107.3h0M585.6 111.1h0M636.5 168.0h0M565.6 96.5h0M578.2 129.4h0M585.2 115.2h0M543.7 92.4h0M580.9 124.1h0M626.0 113.3h0M550.9 113.0h0M587.4 120.1h0M587.5 102.8h0M622.4 176.2h0M551.6 84.8h0M574.0 130.9h0M560.9 117.8h0M646.9 128.0h0M583.1 130.2h0M569.4 111.1h0M589.0 114.5h0" stroke="#1c7fe1"/><path d="M623.1 127.5h0M567.2 105.8h0M599.9 120.1h0M635.2 102.0h0M570.8 112.5h0M553.5 118.6h0M569.2 164.4h0M590.1 124.0h0M598.7 124.3h0M581.7 109.6h0M569.5 76.0h0M606.5 140.7h0M571.0 141.9h0M623.7 131.6h0M576.8 109.9h0" stroke="#1d79d7"/><path d="M614.7 127.6h0M579.1 120.3h0M571.5 148.3h0M590.8 105.0h0M607.2 68.1h0M622.0 155.5h0M631.8 153.8h0M607.9 113.0h0M566.7 118.8h0M605.1 132.6h0M573.5 114.4h0M583.4 96.5h0M575.9 123.9h0M594.7 196.4h0M564.9 111.2h0M593.9 121.3h0M603.6 123.2h0M579.6 149.1h0M584.4 109.4h0M615.1 166.2h0M584.5 120.6h0M560.4 157.0h0M570.7 87.0h0M586.0 127.7h0M616.1 129.5h0M577.7 134.3h0M597.7 115.3h0" stroke="#1d74cd"/><path d="M635.8 110.4h0M581.3 124.0h0M593.2 172.4h0M578.4 126.6h0M605.7 131.3h0M616.8 112.0h0M605.5 212.3h0M605.2 159.7h0M602.8 187.3h0M582.1 144.8h0M574.3 108.4h0M566.6 117.6h0M578.6 106.6h0M614.6 145.8h0M568.6 114.1h0M576.6 120.3h0" stroke="#1e6ec4"/><path d="M598.0 125.3h0M595.9 113.0h0M612.2 120.4h0M645.1 172.3h0M605.4 115.0h0M590.7 90.4h0M618.8 118.9h0M598.8 166.4h0M575.0 104.9h0M575.1 119.1h0M635.1 144.3h0M610.9 105.1h0M614.5 66.9h0M607.8 100.2h0M606.5 97.7h0M605.6 144.1h0M635.0 142.9h0M627.0 166.6h0M610.0 119.6h0M614.5 154.8h0M587.8 105.0h0M591.7 97.5h0" stroke="#1e69ba"/><path d="M590.3 109.8h0M597.8 99.6h0M599.4 132.9h0M613.9 94.7h0M630.1 110.3h0M607.7 158.3h0M581.7 89.4h0M628.9 116.8h0M614.4 130.4h0M644.5 192.3h0M605.9 121.0h0M629.0 154.4h0M646.2 164.9h0M616.0 147.1h0M589.7 109.3h0M607.0 112.3h0M622.3 190.1h0M641.5 135.4h0M553.3 108.5h0M635.0 133.2h0" stroke="#1e63b0"/><path d="M590.6 137.0h0M636.4 134.0h0M573.8 89.2h0M589.6 104.6h0M582.2 100.2h0M614.0 138.7h0M564.2 91.0h0M653.1 186.0h0M587.1 130.1h0M617.8 116.3h0M591.2 148.2h0M618.1 157.6h0M612.8 87.2h0M627.1 93.0h0M606.2 108.7h0M585.5 112.9h0M611.4 137.4h0M627.4 146.8h0" stroke="#1e5da6"/><path d="M612.8 162.4h0M604.2 106.9h0M613.2 137.7h0M596.5 102.8h0" stroke="#1d589d"/><path d="M636.8 123.0h0M664.6 104.9h0M616.2 104.6h0M591.7 122.0h0M593.4 86.3h0M651.6 122.9h0M620.4 138.4h0M642.1 121.9h0M629.8 157.1h0M596.0 95.8h0M585.7 105.1h0M622.1 99.5h0M648.9 128.3h0M661.7 149.1h0M674.7 137.3h0M624.4 138.4h0M593.3 91.3h0" stroke="#1d5293"/><path d="M619.5 111.1h0M623.8 121.0h0M640.7 124.1h0M618.7 115.6h0M645.6 117.0h0M649.2 126.0h0M598.1 91.0h0M641.9 133.6h0M641.4 106.0h0M639.9 107.8h0M639.4 91.6h0M634.3 162.2h0M630.4 114.0h0M659.7 121.2h0" stroke="#1c4e8a"/><path d="M588.9 83.0h0M629.3 122.2h0M641.2 139.7h0M634.2 116.2h0M643.9 110.8h0M630.9 100.2h0M622.2 87.5h0M616.3 111.5h0M610.4 130.8h0M665.3 209.2h0M658.7 180.3h0M657.6 85.5h0M626.8 106.4h0" stroke="#1b4881"/><path d="M683.9 193.2h0M617.2 104.1h0M637.2 69.7h0M637.1 113.9h0M593.2 112.0h0M616.5 140.5h0M627.0 115.9h0M630.2 127.4h0M617.9 115.1h0M591.5 92.0h0M672.3 103.7h0" stroke="#1a4277"/><path d="M636.2 99.9h0M657.3 127.6h0M629.1 150.1h0M600.5 163.5h0M638.9 163.9h0M677.4 202.0h0M638.5 145.0h0M642.3 113.6h0M631.3 136.3h0M649.2 110.2h0M640.3 121.6h0M627.6 125.5h0M634.7 114.7h0M634.8 105.1h0" stroke="#1a3e6f"/><path d="M644.7 121.2h0M642.8 203.4h0M650.5 125.4h0M635.4 141.5h0M607.6 141.3h0M608.2 125.4h0M667.9 121.7h0M638.2 97.8h0M666.0 155.7h0M630.2 136.9h0M635.3 167.8h0M616.1 109.7h0M636.7 130.3h0M662.7 125.3h0M667.5 130.4h0M616.0 126.9h0M653.2 158.4h0M653.6 100.2h0M649.0 151.6h0M689.0 154.2h0M642.4 89.2h0" stroke="#193866"/><path d="M613.7 81.9h0M660.4 130.9h0M598.1 194.2h0M646.6 138.4h0M640.4 170.3h0M622.7 94.2h0M638.8 138.9h0M617.5 160.1h0M636.6 100.6h0M653.8 128.5h0M617.5 124.5h0M641.5 80.9h0" stroke="#18345d"/><path d="M636.4 106.3h0M641.1 117.6h0M625.8 102.1h0M657.7 157.3h0M655.7 121.1h0M601.7 127.6h0M679.7 134.5h0M623.3 113.5h0M632.9 138.8h0M632.2 119.4h0M647.3 132.0h0M651.7 145.7h0M639.0 112.0h0M634.4 124.1h0" stroke="#172f55"/><path d="M629.8 125.6h0M588.3 102.2h0M655.1 146.0h0M629.8 118.0h0M625.3 134.9h0M620.7 122.5h0M590.0 116.6h0M640.5 114.7h0M639.8 172.3h0M623.5 136.5h0M608.4 149.6h0M655.5 153.5h0M639.9 120.3h0" stroke="#152a4d"/><path d="M626.4 124.5h0M611.3 115.7h0M619.9 184.7h0M661.8 159.0h0M619.8 121.7h0M695.9 133.6h0M636.3 152.4h0M638.4 152.1h0" stroke="#132644"/><path d="M593.7 101.6h0M633.0 109.1h0M617.4 127.7h0M642.2 180.3h0M646.3 95.5h0M610.5 97.2h0M637.9 125.1h0" stroke="#12213c"/><path d="M608.8 92.0h0M635.7 130.1h0M619.1 140.3h0M627.9 77.3h0" stroke="#101c34"/><path d="M623.1 109.7h0M630.8 121.1h0" stroke="#0e182c"/><path d="M625.1 85.2h0M640.6 105.2h0" stroke="#0d1325"/><path d="M461.3 214.6h0M500.2 150.0h0M451.8 235.2h0M479.0 224.5h0M517.0 178.6h0M460.2 243.7h0M515.1 209.4h0M468.7 268.2h0M493.3 218.0h0M481.7 170.3h0M438.5 261.6h0M444.1 286.3h0" stroke="#ed8200"/><path d="M492.0 166.7h0M470.5 240.9h0M491.3 242.3h0M419.9 265.7h0M467.8 227.6h0M455.9 224.2h0" stroke="#ea821a"/><path d="M502.8 201.8h0M446.9 177.9h0M434.5 222.3h0M463.7 248.1h0M466.0 191.7h0" stroke="#e68229"/><path d="M461.0 185.6h0M450.8 185.6h0M477.1 190.6h0M497.7 177.1h0M503.5 230.4h0M443.0 216.1h0M476.2 222.4h0" stroke="#e28235"/><path d="M502.6 153.5h0M499.2 237.2h0M470.9 223.3h0M494.1 145.3h0M456.3 208.5h0M487.5 199.4h0M475.5 212.5h0M467.2 202.9h0" stroke="#df8240"/><path d="M452.8 160.8h0M492.9 138.0h0M464.9 154.6h0M470.7 278.8h0M512.0 191.0h0" stroke="#db8249"/><path d="M498.4 207.6h0M501.8 204.6h0M480.8 158.9h0M503.4 167.9h0M489.9 148.6h0" stroke="#d78252"/><path d="M508.9 156.6h0M494.2 167.5h0M507.6 111.5h0M506.8 178.8h0M495.9 153.2h0M544.0 128.1h0M484.5 194.8h0M483.4 141.3h0M500.1 175.9h0M542.5 136.1h0" stroke="#d4825b"/><path d="M511.7 97.0h0M519.4 140.7h0M530.5 177.7h0M516.3 132.8h0M508.5 140.0h0M537.6 138.1h0M513.5 131.4h0M502.5 129.3h0M505.5 131.5h0" stroke="#cf8263"/><path d="M510.4 114.3h0M512.9 156.5h0M503.6 151.2h0M508.1 224.9h0M554.2 158.5h0" stroke="#cb826b"/><path d="M528.1 153.6h0M510.9 212.5h0" stroke="#c78274"/><path d="M519.1 139.0h0M506.4 148.5h0M542.4 148.9h0M550.2 146.5h0M539.4 147.8h0M504.7 155.8h0M518.7 182.5h0M520.2 158.5h0M531.7 145.3h0M508.0 159.9h0" stroke="#c1827c"/><path d="M531.7 196.5h0M527.3 157.8h0M529.0 194.8h0M530.8 110.0h0M525.7 123.3h0" stroke="#bc8384"/><path d="M546.8 169.6h0M550.0 202.3h0M549.7 134.1h0" stroke="#b7838c"/><path d="M534.7 127.5h0M529.9 91.0h0M532.8 112.8h0M547.9 150.4h0M561.5 120.8h0M547.9 108.2h0M542.8 170.2h0M536.0 131.5h0" stroke="#b08394"/><path d="M538.6 121.6h0M522.7 152.6h0M530.3 104.2h0M562.8 162.0h0M542.0 122.8h0M545.8 121.9h0M532.3 99.3h0" stroke="#ab839c"/><path d="M536.1 169.2h0M531.5 112.3h0M543.5 106.6h0M556.3 167.7h0M532.7 160.9h0M525.3 128.2h0M554.7 146.5h0M523.3 131.9h0M546.3 166.2h0M556.4 167.7h0M531.2 125.3h0M544.8 128.7h0M541.5 154.4h0" stroke="#a383a4"/><path d="M557.9 145.4h0M538.9 170.0h0M534.5 119.2h0M542.3 97.5h0M551.4 116.4h0M549.0 115.5h0" stroke="#9c83ac"/><path d="M545.0 169.9h0M546.5 118.3h0M565.3 175.6h0M566.0 155.0h0" stroke="#9484b4"/><path d="M573.1 170.8h0M550.5 175.7h0M549.1 89.2h0M557.1 85.7h0M554.8 173.8h0M555.3 168.0h0" stroke="#8b84bc"/><path d="M554.0 135.5h0M552.1 111.4h0M559.8 114.1h0M558.7 102.3h0M550.7 159.7h0M569.2 134.7h0M564.9 157.8h0" stroke="#8184c5"/><path d="M558.8 180.3h0M555.0 123.3h0M564.6 80.9h0M583.5 110.4h0M574.1 171.7h0M565.3 113.1h0M568.1 193.1h0M584.7 136.1h0M569.5 163.8h0M547.4 154.7h0M580.8 131.8h0M560.5 109.7h0M569.8 122.0h0M532.2 123.4h0" stroke="#7684cd"/><path d="M548.9 97.6h0M568.8 161.9h0M576.7 133.0h0M607.9 221.4h0M555.7 111.9h0M581.1 139.5h0M574.6 147.3h0" stroke="#6884d4"/><path d="M551.2 91.3h0M557.3 103.0h0M588.1 117.8h0M571.0 105.1h0M553.8 141.3h0M570.4 155.9h0M596.9 153.0h0M563.6 131.3h0M567.6 117.9h0" stroke="#5784dd"/><path d="M566.5 142.1h0M576.3 140.7h0M577.5 125.0h0M625.3 139.4h0M546.2 80.7h0M600.5 182.0h0M607.3 107.8h0M575.5 152.3h0M562.5 94.8h0M571.7 117.3h0M578.0 111.0h0M555.5 101.6h0M571.8 166.1h0M582.7 134.1h0M576.0 163.7h0M575.8 176.4h0" stroke="#4185e5"/><path d="M604.9 113.2h0M592.3 152.9h0M576.5 90.4h0M560.0 81.9h0M560.3 117.1h0M576.1 100.5h0M567.8 83.1h0M574.1 157.3h0M556.7 113.1h0" stroke="#1b84ec"/><path d="M599.2 126.8h0M619.1 117.9h0M586.9 106.0h0M575.6 154.0h0M588.8 111.8h0M579.7 115.4h0M572.0 160.0h0M599.3 162.5h0M603.8 96.5h0M593.5 144.3h0M573.7 101.3h0M591.0 119.1h0M580.5 96.1h0M581.5 129.9h0M596.8 133.8h0M598.4 156.3h0M575.2 112.0h0M577.3 99.0h0" stroke="#1c7fe1"/><path d="M583.9 115.0h0M580.6 103.6h0M573.4 93.3h0M611.3 92.6h0M596.0 132.8h0M657.2 141.0h0M566.0 102.6h0M597.4 131.6h0M585.3 109.1h0M550.1 115.3h0M604.6 109.0h0M613.0 96.7h0M574.4 136.8h0M583.7 139.2h0M578.3 82.0h0M594.1 108.0h0M599.5 114.9h0M594.8 130.2h0M577.2 135.5h0M570.3 115.6h0" stroke="#1d79d7"/><path d="M604.3 115.4h0M601.3 117.2h0M581.6 105.4h0M586.5 138.8h0M598.6 114.2h0M591.4 112.4h0M624.6 127.3h0M600.2 125.4h0M558.2 106.6h0M612.4 117.3h0M620.2 144.2h0M595.6 104.6h0M594.7 102.6h0M584.2 106.8h0M563.1 84.4h0M570.6 137.6h0M579.2 113.6h0M557.8 87.3h0M568.6 116.1h0M588.5 148.9h0M569.2 66.7h0M601.8 147.7h0M596.7 112.1h0M612.4 128.9h0M590.5 113.5h0M555.7 132.8h0M632.8 163.3h0M596.2 126.4h0" stroke="#1d74cd"/><path d="M619.4 107.5h0M596.4 150.9h0M574.7 97.4h0M576.4 138.1h0M641.3 142.8h0M582.1 87.3h0M573.0 117.2h0M582.2 124.6h0M601.4 131.8h0M654.3 163.6h0M585.4 107.3h0M593.6 117.4h0M588.5 108.4h0M602.7 144.3h0M583.5 87.6h0M587.9 107.3h0M624.1 112.0h0M593.4 113.8h0" stroke="#1e6ec4"/><path d="M590.6 94.7h0M618.7 103.4h0M572.8 109.3h0M583.9 97.1h0M575.0 132.7h0M582.6 92.5h0M585.4 132.0h0M583.3 103.7h0M588.6 124.1h0M642.4 127.0h0M577.2 108.2h0M570.5 94.4h0M601.8 79.5h0M625.4 111.9h0M571.1 97.0h0M597.9 121.8h0M619.9 217.1h0M596.7 113.3h0M609.0 123.5h0M666.3 126.7h0M582.6 114.5h0M571.6 84.5h0M601.5 85.2h0M593.4 106.3h0" stroke="#1e69ba"/><path d="M600.9 87.7h0M599.0 109.6h0M608.3 110.3h0M646.5 129.5h0M616.2 118.8h0M578.0 123.4h0M599.8 97.6h0M582.8 113.6h0M566.9 107.0h0M581.4 111.6h0M620.0 150.4h0M583.7 128.3h0M579.5 112.9h0M573.2 106.1h0M675.1 176.8h0M589.4 145.7h0" stroke="#1e63b0"/><path d="M569.3 104.9h0M611.7 139.5h0M612.5 99.3h0M583.0 103.9h0M576.2 92.1h0M613.3 177.5h0M602.1 122.7h0M609.1 122.0h0M577.4 116.8h0M609.4 111.8h0M635.5 95.7h0M581.9 102.2h0M618.1 113.9h0M667.1 110.7h0M575.7 85.1h0M616.4 116.1h0" stroke="#1e5da6"/><path d="M624.3 108.8h0M592.7 106.8h0M611.5 143.0h0M604.6 84.8h0M614.7 102.4h0M584.5 113.0h0M605.7 101.6h0M626.9 131.2h0M605.8 94.9h0M601.1 97.1h0M617.0 111.9h0M668.9 171.6h0M610.4 125.2h0M600.3 109.2h0M596.6 93.5h0M612.9 133.8h0M590.4 121.2h0M621.8 152.2h0M633.6 131.7h0M621.8 115.0h0M606.7 120.8h0M614.4 110.5h0" stroke="#1d589d"/><path d="M633.7 130.2h0M606.9 119.2h0M606.5 105.8h0M643.3 187.1h0M599.9 104.0h0M587.6 115.8h0M602.5 103.3h0M619.3 100.1h0M624.0 109.5h0M628.3 126.6h0" stroke="#1d5293"/><path d="M639.7 155.7h0M604.8 187.7h0M617.4 101.1h0M629.9 138.5h0M605.4 96.1h0M625.9 116.2h0M634.0 89.9h0M621.0 98.0h0" stroke="#1c4e8a"/><path d="M670.1 127.1h0M632.6 135.8h0M609.0 100.5h0M637.5 109.4h0M647.8 106.6h0M662.3 111.1h0M648.0 152.8h0M611.0 120.7h0M623.0 103.3h0M663.1 116.3h0M616.4 138.0h0M651.3 134.6h0M654.7 218.7h0M621.3 73.4h0M638.0 115.0h0" stroke="#1b4881"/><path d="M615.8 103.3h0M633.1 120.4h0M611.8 121.7h0M655.8 110.3h0M615.7 97.8h0M616.7 124.7h0M666.5 140.6h0M624.0 139.8h0M626.9 141.4h0M636.0 116.4h0M613.1 115.7h0M615.7 105.5h0M644.5 112.2h0" stroke="#1a4277"/><path d="M622.6 106.8h0M632.7 177.3h0M619.0 116.0h0M648.8 126.0h0M636.9 120.7h0M637.2 118.3h0M633.8 147.3h0M617.6 108.1h0M630.0 160.3h0M646.0 249.5h0M640.8 131.5h0M650.3 179.0h0" stroke="#1a3e6f"/><path d="M618.4 154.1h0M655.2 156.5h0M660.0 125.3h0M661.5 128.4h0M653.5 111.0h0M637.6 122.6h0M606.8 104.4h0M656.1 141.7h0M632.3 148.0h0M626.7 103.1h0M670.7 157.2h0M639.5 110.9h0M608.6 107.3h0M659.6 163.3h0M607.0 116.2h0M633.3 123.5h0M616.6 122.5h0M650.2 164.5h0" stroke="#193866"/><path d="M642.5 119.0h0M602.8 101.8h0M595.4 125.2h0M650.5 112.4h0M615.4 149.0h0M618.0 126.6h0M643.3 123.4h0M646.3 140.7h0M599.2 113.1h0M627.5 106.0h0M635.5 128.6h0M611.2 82.6h0" stroke="#18345d"/><path d="M626.1 86.0h0M606.8 131.0h0M616.6 107.7h0M643.2 173.1h0M657.5 167.7h0M601.9 114.6h0M649.5 123.3h0M652.4 129.7h0M630.3 222.2h0M624.5 168.1h0M637.9 172.6h0M682.4 142.5h0M618.5 129.8h0M627.2 125.0h0M623.7 102.0h0M653.9 136.9h0M638.8 132.8h0M627.8 181.7h0M602.6 90.4h0" stroke="#172f55"/><path d="M650.8 130.0h0M635.4 113.8h0M634.0 112.2h0M617.5 117.8h0M624.5 89.1h0M616.6 92.9h0M644.9 108.9h0" stroke="#152a4d"/><path d="M628.5 117.5h0M619.2 98.4h0M636.0 135.4h0M656.9 148.2h0M600.3 70.3h0M622.9 141.0h0M642.5 156.5h0M637.6 115.9h0M644.6 124.1h0M628.4 137.7h0M623.2 159.3h0M665.2 143.4h0M660.9 116.4h0M619.6 131.6h0" stroke="#132644"/><path d="M660.6 231.0h0M664.2 114.8h0M661.2 94.0h0M618.5 147.5h0M631.7 155.5h0M615.1 114.6h0M646.5 180.1h0M671.6 126.3h0" stroke="#12213c"/><path d="M668.4 191.1h0M632.5 93.9h0M628.1 142.4h0M584.2 113.7h0M645.3 170.9h0M658.6 123.4h0M612.0 157.4h0M629.3 104.6h0" stroke="#101c34"/><path d="M650.6 120.5h0" stroke="#0e182c"/><path d="M645.1 134.0h0" stroke="#0d1325"/><path d="M484.8 219.7h0M447.2 236.1h0M463.0 202.6h0M460.4 279.1h0M459.1 202.7h0M451.5 248.3h0M469.8 219.8h0M464.6 225.8h0M442.2 277.9h0" stroke="#ed8200"/><path d="M454.4 205.7h0M496.9 151.9h0M449.8 239.6h0M420.8 291.1h0M481.1 187.9h0M486.6 204.9h0" stroke="#ea821a"/><path d="M423.6 275.8h0M424.9 243.7h0M448.1 225.4h0M481.2 251.3h0M448.7 231.5h0M511.4 244.2h0M480.5 161.6h0M447.5 200.2h0M429.0 271.8h0M493.8 232.2h0M462.4 226.9h0" stroke="#e68229"/><path d="M462.8 188.9h0M463.9 211.6h0M476.8 155.0h0M473.5 141.8h0M450.5 226.9h0M472.2 187.4h0M498.2 212.2h0M451.3 215.5h0M487.6 169.5h0M468.3 213.9h0" stroke="#e28235"/><path d="M477.4 194.6h0M465.1 209.6h0M489.6 181.4h0M432.1 263.3h0M478.8 179.5h0M488.1 184.5h0M490.8 177.6h0M472.5 199.1h0M481.6 220.1h0M446.3 250.6h0M469.6 209.7h0M482.4 165.0h0" stroke="#df8240"/><path d="M506.7 166.4h0M496.0 167.7h0M490.1 206.8h0M501.0 187.6h0M489.8 195.9h0M456.7 253.0h0M496.1 123.8h0M488.8 136.5h0" stroke="#db8249"/><path d="M500.8 256.2h0M525.4 204.2h0M490.5 144.1h0M483.8 135.6h0M500.6 160.3h0M486.3 202.4h0M492.8 177.4h0M512.3 173.5h0M486.1 178.6h0" stroke="#d78252"/><path d="M502.2 141.8h0M506.3 128.1h0M432.7 245.8h0M506.1 210.0h0" stroke="#d4825b"/><path d="M487.0 187.1h0M515.2 159.7h0M514.2 219.9h0" stroke="#cf8263"/><path d="M512.8 192.1h0M510.2 191.1h0M524.0 189.3h0" stroke="#cb826b"/><path d="M514.0 182.6h0M522.0 142.6h0M545.9 195.0h0M534.2 183.6h0M535.0 166.1h0" stroke="#c78274"/><path d="M533.3 155.6h0M513.9 167.8h0M527.0 95.5h0M526.5 103.3h0M523.9 134.7h0M546.6 211.3h0M534.9 151.7h0M540.1 212.9h0M517.3 148.5h0M524.2 234.0h0" stroke="#c1827c"/><path d="M529.7 131.5h0M518.8 130.3h0M505.6 153.4h0M538.5 165.9h0" stroke="#bc8384"/><path d="M548.2 133.7h0M539.1 159.2h0M539.6 151.7h0M503.0 116.1h0M550.1 173.2h0M531.0 116.1h0M531.3 148.9h0M530.0 159.6h0M517.6 146.2h0M543.2 125.7h0M561.1 140.6h0" stroke="#b7838c"/><path d="M533.1 149.2h0M537.7 150.8h0M551.2 187.1h0M516.1 105.9h0M529.3 155.9h0M535.5 149.1h0" stroke="#b08394"/><path d="M522.6 112.7h0M546.4 142.2h0M536.8 146.6h0M540.3 113.3h0M541.1 107.2h0M541.9 138.8h0M546.0 146.4h0M544.7 159.7h0M548.7 122.5h0M544.5 110.5h0M545.3 160.0h0" stroke="#ab839c"/><path d="M530.2 140.4h0M545.2 126.8h0M504.9 159.0h0M553.1 181.6h0M562.2 130.3h0M557.4 151.3h0" stroke="#a383a4"/><path d="M538.3 175.1h0M554.2 120.8h0M557.6 98.7h0M530.9 208.0h0M532.0 162.2h0M556.9 250.9h0M559.1 112.3h0M539.6 141.7h0" stroke="#9c83ac"/><path d="M555.8 137.5h0M557.0 117.8h0M564.6 120.9h0M532.0 122.3h0M562.2 142.3h0M549.5 102.6h0M564.0 168.0h0" stroke="#9484b4"/><path d="M558.7 137.2h0M552.8 94.0h0M563.3 131.9h0M538.6 131.7h0M556.6 174.5h0M535.1 130.5h0M534.0 102.3h0M562.5 127.5h0M553.7 124.0h0M551.9 128.1h0M543.0 109.4h0" stroke="#8b84bc"/><path d="M557.7 115.5h0M569.8 131.6h0" stroke="#8184c5"/><path d="M562.4 148.8h0M558.8 122.6h0M536.3 163.2h0M603.4 159.8h0M564.3 156.3h0M558.5 143.0h0M560.5 178.7h0M553.0 99.3h0M568.3 148.4h0M556.7 136.2h0M568.9 103.4h0M551.8 106.7h0M543.9 132.3h0" stroke="#7684cd"/><path d="M572.2 166.2h0M554.0 94.4h0M563.1 111.6h0M552.8 147.6h0M552.9 112.3h0M567.9 108.9h0M573.8 165.9h0M565.4 149.1h0" stroke="#6884d4"/><path d="M598.8 145.2h0M557.0 104.2h0M610.0 166.0h0M573.5 141.2h0M604.0 177.2h0M600.6 169.4h0M595.7 157.6h0M596.3 163.9h0M574.9 141.4h0M550.3 125.5h0M577.4 157.4h0M593.6 131.5h0M586.0 119.8h0M546.1 129.7h0M559.4 122.9h0M565.7 151.3h0" stroke="#5784dd"/><path d="M613.1 122.9h0M564.6 106.0h0M550.4 72.4h0M594.2 174.5h0M592.6 140.9h0M567.1 161.8h0M558.5 104.9h0M552.0 135.2h0M551.3 111.1h0M579.9 112.1h0" stroke="#4185e5"/><path d="M566.1 111.4h0M587.1 85.1h0M571.3 129.7h0M628.4 187.2h0M558.9 132.4h0M569.6 104.5h0M594.0 172.8h0M586.3 125.0h0M566.8 128.7h0M559.2 118.1h0M599.6 161.2h0" stroke="#1b84ec"/><path d="M574.8 155.1h0M603.7 132.9h0M589.1 99.6h0M628.2 144.9h0M584.1 130.8h0M578.5 148.7h0M604.5 104.6h0M573.2 148.0h0M579.4 107.2h0M573.6 134.2h0M560.1 118.6h0M602.9 139.3h0" stroke="#1c7fe1"/><path d="M600.1 145.8h0M582.4 147.3h0M585.0 123.7h0M596.7 136.4h0M597.8 84.3h0M570.1 100.7h0M566.3 124.0h0M583.0 109.7h0M575.4 122.8h0M582.8 131.6h0M602.8 119.5h0M600.1 100.3h0M577.0 130.5h0M551.0 146.7h0M600.4 142.4h0M588.3 125.3h0M575.3 103.9h0M576.1 110.7h0" stroke="#1d79d7"/><path d="M600.0 127.9h0M604.4 128.6h0M593.8 95.9h0M589.5 158.6h0M593.8 109.2h0M600.8 133.3h0M608.5 104.4h0M643.4 148.9h0M557.1 113.1h0M604.5 115.9h0M594.8 105.7h0M598.9 102.0h0M603.8 136.3h0M598.2 122.2h0M558.1 97.6h0M599.8 108.5h0M592.1 119.4h0M595.5 122.9h0" stroke="#1d74cd"/><path d="M581.2 79.4h0M591.3 108.3h0M601.3 104.4h0M561.3 74.5h0M588.0 111.3h0M602.2 157.7h0M610.0 127.4h0M566.6 109.9h0M603.1 116.7h0M582.5 84.3h0M577.0 121.6h0M621.6 95.6h0M578.9 111.7h0M594.3 126.7h0M590.8 128.9h0M591.4 131.7h0M625.6 160.4h0M617.9 141.8h0M603.2 94.0h0M685.7 173.7h0M613.2 104.6h0M610.8 148.6h0M611.1 109.5h0M580.8 101.5h0M576.7 101.9h0M588.4 119.8h0" stroke="#1e6ec4"/><path d="M609.3 148.6h0M617.0 97.3h0M591.6 140.5h0M585.0 142.5h0M613.8 108.8h0M562.1 108.4h0M594.6 114.1h0M603.1 112.2h0M586.7 99.4h0M681.6 191.3h0M626.3 131.6h0M647.1 148.8h0M623.9 145.6h0M631.6 133.7h0M651.9 86.4h0M602.7 176.5h0M614.9 99.4h0M567.0 97.7h0M608.0 135.9h0M619.0 94.3h0M606.1 94.0h0M583.4 107.8h0" stroke="#1e69ba"/><path d="M592.7 142.5h0M597.4 103.4h0M628.2 101.8h0M616.7 133.1h0M594.5 94.5h0M600.7 107.5h0M610.3 106.5h0M579.7 142.5h0M598.0 134.2h0M587.5 98.3h0M608.1 87.2h0M598.9 112.0h0M612.7 126.4h0M626.7 177.3h0M592.2 111.2h0M580.0 91.3h0M660.6 138.5h0M598.6 95.4h0" stroke="#1e63b0"/><path d="M587.9 113.1h0M605.2 136.4h0M659.4 142.9h0M684.7 110.3h0M607.4 113.8h0M652.8 141.7h0M614.3 112.7h0M600.6 113.5h0M597.6 110.7h0M598.4 89.3h0M605.0 124.0h0M613.1 150.7h0M635.8 165.6h0" stroke="#1e5da6"/><path d="M573.4 116.3h0M642.8 109.4h0M591.1 104.1h0M654.1 114.9h0M586.6 114.5h0M580.9 86.7h0M589.5 84.6h0M629.5 143.4h0M594.3 99.1h0M638.5 110.1h0M623.4 134.3h0M596.3 109.0h0M584.8 119.3h0" stroke="#1d589d"/><path d="M664.1 159.4h0M626.6 133.8h0M627.1 138.7h0M622.1 150.0h0M644.1 120.1h0M601.8 135.3h0M604.4 140.8h0M614.1 140.7h0M636.5 126.6h0" stroke="#1d5293"/><path d="M591.9 97.2h0M640.1 124.7h0M624.2 116.3h0M634.4 111.5h0M647.8 122.7h0M633.4 137.6h0M671.3 162.5h0M620.6 135.5h0M606.2 114.0h0M601.4 147.5h0M625.8 169.9h0M633.3 145.7h0M653.8 168.5h0M659.3 179.8h0M627.7 152.0h0M608.1 95.8h0M601.3 137.7h0" stroke="#1c4e8a"/><path d="M639.2 119.7h0M632.4 102.6h0M595.9 114.4h0M664.9 121.4h0M666.6 137.2h0M650.0 135.4h0M626.2 91.7h0M643.9 169.8h0M613.4 107.4h0M627.7 113.0h0M643.7 159.8h0M637.3 125.4h0M662.4 146.9h0" stroke="#1b4881"/><path d="M615.5 131.8h0M617.7 109.0h0M625.2 120.3h0M614.0 112.9h0M644.2 134.3h0M626.0 126.1h0M649.7 74.2h0M635.9 101.2h0M639.6 190.9h0M623.8 161.9h0" stroke="#1a4277"/><path d="M624.3 128.3h0M616.2 79.7h0M652.0 125.0h0M595.6 141.9h0M658.9 116.1h0M628.0 150.3h0M637.5 179.3h0M622.9 97.6h0M661.4 147.7h0M635.2 147.2h0M633.4 106.6h0M637.0 94.7h0M609.1 201.7h0M632.2 99.7h0M625.1 113.4h0M604.0 118.7h0M592.9 139.1h0M640.1 123.1h0M651.4 193.1h0" stroke="#1a3e6f"/><path d="M602.5 153.2h0M607.0 146.8h0M641.7 104.8h0M645.1 103.5h0M638.4 128.1h0M669.1 130.2h0M659.8 154.9h0M627.3 120.0h0M599.6 115.6h0M622.6 121.2h0M617.8 92.3h0M678.5 128.2h0M624.8 156.2h0M642.7 117.0h0M613.5 136.5h0M652.9 111.4h0M632.0 112.4h0M632.7 127.2h0M653.3 119.0h0M648.3 159.3h0" stroke="#193866"/><path d="M628.7 158.0h0M610.5 135.0h0M608.2 102.3h0M649.6 174.5h0M649.3 118.6h0M690.5 124.2h0M604.3 82.4h0M621.3 127.5h0M603.3 134.0h0M627.6 176.3h0M632.0 150.0h0M594.2 133.4h0M648.8 155.7h0M640.6 129.5h0M631.4 124.1h0M619.2 166.2h0M623.2 136.2h0M617.1 130.2h0" stroke="#18345d"/><path d="M627.2 111.5h0M652.6 163.5h0M618.0 133.2h0M630.6 130.9h0M602.0 92.2h0M625.9 108.5h0M600.0 118.5h0M610.6 94.9h0M649.4 148.1h0M631.2 117.2h0M615.9 173.3h0M623.7 93.3h0M637.4 105.4h0M612.5 174.0h0M632.0 167.6h0M619.6 85.0h0M632.9 73.3h0M652.3 152.9h0" stroke="#172f55"/><path d="M624.5 142.5h0M588.3 89.1h0M632.7 116.4h0M638.8 225.0h0M655.7 136.8h0M641.4 157.0h0M628.0 114.9h0M629.2 181.0h0M610.3 112.1h0M663.6 135.9h0M657.8 126.8h0" stroke="#152a4d"/><path d="M610.8 101.5h0M639.3 163.3h0M631.6 149.2h0M618.7 76.1h0M647.2 116.8h0" stroke="#132644"/><path d="M603.5 105.3h0M663.2 133.1h0M654.5 148.7h0M658.3 145.7h0M645.0 154.3h0" stroke="#12213c"/><path d="M613.4 113.5h0M640.0 98.0h0M639.6 128.4h0M622.8 118.7h0M631.2 140.2h0M655.9 133.5h0" stroke="#101c34"/><path d="M662.6 169.0h0" stroke="#0e182c"/><path d="M634.6 135.5h0" stroke="#0d1325"/><path d="M465.7 282.3h0M503.8 213.0h0M462.1 275.5h0M449.2 246.9h0" stroke="#ed8200"/><path d="M481.9 235.3h0M471.6 179.5h0M463.5 204.6h0M492.2 223.5h0M482.7 192.8h0M450.3 211.2h0" stroke="#ea821a"/><path d="M440.2 196.3h0M426.1 264.0h0M470.0 162.0h0M446.0 207.7h0M429.1 245.5h0M505.1 188.0h0M483.9 189.0h0M480.1 114.1h0" stroke="#e68229"/><path d="M484.9 164.6h0M522.9 151.2h0M429.9 223.8h0M491.9 170.6h0M465.3 161.8h0M507.4 205.4h0M499.3 166.6h0M513.1 172.4h0" stroke="#e28235"/><path d="M495.2 205.2h0M485.8 167.1h0M436.6 249.8h0M474.4 180.0h0M483.2 207.5h0" stroke="#df8240"/><path d="M516.7 139.5h0M476.5 99.0h0M522.0 170.4h0M479.1 191.0h0M485.6 118.2h0" stroke="#db8249"/><path d="M495.5 76.4h0M483.5 210.6h0M527.4 192.9h0M516.6 171.2h0M482.8 202.4h0M534.5 198.1h0M462.3 158.5h0M496.8 201.7h0" stroke="#d78252"/><path d="M494.8 171.9h0M468.0 198.4h0M521.7 130.8h0M497.3 139.0h0M535.3 175.1h0" stroke="#d4825b"/><path d="M493.6 200.5h0M520.8 246.9h0M504.2 139.2h0M538.1 203.8h0M505.7 143.6h0M517.9 193.0h0M540.7 154.1h0" stroke="#cf8263"/><path d="M519.9 188.5h0M510.0 217.8h0M547.3 201.7h0M501.2 146.1h0" stroke="#cb826b"/><path d="M513.6 148.2h0M514.8 118.8h0M499.9 106.1h0M505.2 128.1h0M515.6 155.3h0M509.6 167.2h0M528.2 134.2h0M549.2 171.8h0M530.7 171.2h0M541.0 138.1h0M522.3 118.2h0" stroke="#c78274"/><path d="M521.5 120.5h0M544.4 241.2h0M543.4 160.4h0M536.1 133.9h0M526.2 168.9h0M515.4 187.1h0M524.3 112.2h0M523.6 125.4h0M558.5 161.9h0M518.9 203.4h0" stroke="#c1827c"/><path d="M512.5 93.3h0M514.6 137.0h0M499.6 137.9h0M529.9 194.5h0M510.1 113.6h0M512.1 156.3h0M521.0 179.1h0M529.4 121.1h0M518.5 158.8h0M521.6 140.0h0" stroke="#bc8384"/><path d="M533.2 126.0h0M520.5 146.4h0M561.6 190.7h0M561.9 183.6h0M528.4 218.7h0" stroke="#b7838c"/><path d="M551.5 178.4h0M537.1 191.8h0M541.0 104.3h0M519.8 126.5h0M542.2 176.1h0M536.3 108.6h0M536.5 110.7h0" stroke="#b08394"/><path d="M538.1 133.3h0M537.9 121.9h0M525.5 113.2h0M551.0 138.0h0M532.5 131.9h0M541.4 195.5h0M565.7 167.6h0M558.2 113.6h0M544.7 145.2h0M548.3 146.2h0M547.8 131.6h0" stroke="#ab839c"/><path d="M545.5 98.3h0M545.3 103.6h0M559.8 128.7h0M554.4 186.4h0M541.9 153.6h0M553.2 130.8h0" stroke="#a383a4"/><path d="M560.7 150.4h0M540.5 123.3h0M557.5 95.9h0M578.9 156.1h0" stroke="#9c83ac"/><path d="M551.4 144.7h0M555.1 124.7h0M543.8 115.8h0M536.9 125.2h0M547.3 99.4h0M553.6 158.8h0M520.1 95.3h0M550.7 102.7h0M559.0 148.1h0" stroke="#9484b4"/><path d="M565.8 159.9h0M554.7 115.1h0M570.1 113.5h0M548.1 104.5h0M533.6 104.9h0M554.5 111.5h0M567.0 117.7h0M548.9 157.3h0M554.9 139.6h0M561.9 135.7h0M520.0 68.0h0M544.6 118.4h0" stroke="#8b84bc"/><path d="M563.5 152.3h0M550.5 167.5h0M565.2 128.4h0M559.0 156.5h0M569.9 152.5h0M528.4 96.9h0M560.0 147.9h0M553.1 121.2h0" stroke="#8184c5"/><path d="M538.8 129.2h0M561.8 111.1h0M570.0 164.7h0M549.4 151.3h0M566.3 135.4h0M569.0 122.7h0M536.6 128.4h0" stroke="#7684cd"/><path d="M621.5 171.0h0M570.2 127.8h0M543.0 124.9h0M595.3 166.2h0M567.5 156.9h0M549.8 108.0h0M542.1 78.3h0M580.4 148.6h0" stroke="#6884d4"/><path d="M571.0 157.0h0M577.8 144.6h0M563.0 119.2h0M608.3 168.6h0M594.1 111.9h0M574.7 125.5h0M563.6 77.5h0M559.4 144.6h0M572.5 118.3h0M561.1 173.9h0M561.3 123.7h0M567.3 107.0h0M562.6 103.0h0" stroke="#5784dd"/><path d="M543.9 104.6h0M572.3 121.0h0M565.8 114.3h0M611.0 129.8h0M556.2 91.2h0M587.7 137.8h0M552.3 96.7h0M565.5 125.1h0M582.7 112.4h0M580.4 106.1h0M578.7 101.0h0M587.4 145.2h0M569.8 153.6h0M555.6 66.3h0M554.8 79.4h0M559.2 96.1h0M563.3 144.9h0M564.7 151.8h0M559.8 138.0h0M561.7 104.2h0M594.9 205.5h0" stroke="#4185e5"/><path d="M570.9 124.7h0M588.0 135.9h0M584.7 90.5h0M591.4 126.0h0M568.6 145.7h0M585.1 126.1h0M608.4 77.1h0M554.5 116.4h0M567.7 150.1h0M575.4 129.7h0M592.6 109.0h0M579.1 93.8h0M592.6 125.6h0M576.0 106.6h0M586.6 126.5h0M564.4 103.6h0M588.4 127.8h0M604.7 126.1h0" stroke="#1b84ec"/><path d="M578.8 124.4h0M567.5 113.5h0M585.2 102.7h0M553.9 83.0h0M589.8 126.7h0M601.4 144.6h0M560.8 126.2h0M565.1 115.4h0M572.0 115.9h0M577.7 138.0h0M605.2 176.1h0M597.3 154.1h0M600.9 155.2h0M561.2 108.8h0M565.1 108.6h0M590.1 170.6h0M568.0 131.4h0M587.0 110.2h0" stroke="#1c7fe1"/><path d="M571.3 114.6h0M593.9 126.5h0M563.2 111.2h0M571.8 144.9h0M547.1 127.4h0M599.7 141.9h0M572.8 113.3h0M607.4 133.6h0M623.3 106.8h0M589.1 134.8h0M572.5 110.9h0M607.3 123.8h0M561.4 113.0h0M584.3 152.6h0" stroke="#1d79d7"/><path d="M571.6 100.7h0M595.5 187.9h0M569.7 102.9h0M585.5 94.0h0M596.3 118.8h0M576.5 110.9h0M581.5 93.3h0M603.1 154.5h0M581.8 142.3h0M597.9 186.6h0M581.9 150.7h0M590.2 153.9h0M578.8 131.1h0M573.8 105.0h0M607.8 163.2h0" stroke="#1d74cd"/><path d="M571.3 140.7h0M590.0 101.9h0M602.4 120.8h0M586.8 99.7h0M613.6 129.9h0M579.3 151.9h0M621.2 101.1h0M591.0 110.9h0M593.7 147.5h0M645.5 146.2h0M573.3 137.2h0M637.4 140.5h0M582.9 95.3h0M574.0 109.5h0M609.4 85.8h0M607.2 142.8h0M578.7 112.5h0M591.1 135.4h0M573.1 125.9h0M600.8 111.4h0M606.3 117.4h0M582.6 103.6h0M598.5 120.9h0M606.7 137.9h0M581.9 136.8h0" stroke="#1e6ec4"/><path d="M606.1 171.2h0M570.4 140.6h0M620.6 109.4h0M628.3 110.8h0M576.8 95.3h0M590.4 105.6h0M617.7 137.9h0M599.5 98.1h0M656.5 152.8h0M610.4 114.7h0M581.0 116.2h0M623.6 105.3h0M623.5 124.1h0M615.6 152.2h0M598.0 112.7h0M621.4 138.2h0M600.7 126.6h0M592.9 112.7h0M589.0 139.2h0" stroke="#1e69ba"/><path d="M582.5 126.9h0M605.8 109.7h0M604.2 128.9h0M590.9 88.1h0M638.9 170.5h0M586.8 111.8h0M635.3 99.3h0M599.3 92.8h0M613.0 118.7h0M611.8 91.5h0M603.3 108.0h0M580.8 145.0h0M608.9 83.1h0M595.2 83.9h0M602.4 138.6h0M592.8 101.4h0M614.9 73.7h0M601.1 114.0h0M587.8 132.4h0" stroke="#1e63b0"/><path d="M574.1 83.8h0M592.3 88.5h0M614.3 103.8h0M609.1 116.1h0M603.5 98.1h0M597.0 111.3h0M591.6 74.6h0M644.6 85.2h0M616.5 96.0h0M651.1 102.5h0M606.3 99.6h0M577.7 96.4h0M633.9 142.2h0M606.6 151.5h0" stroke="#1e5da6"/><path d="M586.0 108.1h0M631.9 119.2h0M598.8 108.1h0M590.6 133.4h0M605.0 105.0h0M658.2 160.7h0M586.1 149.0h0M612.1 91.0h0M620.3 127.9h0M631.1 130.0h0M645.5 97.6h0M603.0 98.8h0M604.4 109.2h0M622.4 113.5h0M619.5 135.5h0M613.3 101.7h0" stroke="#1d589d"/><path d="M622.7 116.7h0M589.8 146.5h0M610.9 88.4h0M614.0 125.2h0M574.6 73.2h0M586.2 88.9h0M591.8 115.6h0M645.8 106.4h0M613.5 127.2h0M626.0 134.5h0M657.2 151.8h0" stroke="#1d5293"/><path d="M594.2 116.5h0M621.5 116.9h0M612.2 107.0h0M634.1 119.2h0M604.1 126.4h0M633.5 87.8h0M620.4 115.2h0M604.2 104.7h0M592.0 93.7h0M589.8 81.0h0M624.1 118.3h0M618.3 98.8h0M643.6 96.7h0" stroke="#1c4e8a"/><path d="M615.3 108.7h0M650.1 143.7h0M649.8 115.9h0M649.9 114.2h0M621.7 122.1h0M602.3 100.3h0M638.2 115.3h0M663.8 170.5h0M642.7 162.5h0M610.6 162.7h0M660.5 170.2h0M618.9 162.3h0M612.0 111.2h0" stroke="#1b4881"/><path d="M614.2 167.7h0M634.1 156.5h0M634.9 119.0h0M667.7 140.3h0M640.2 148.1h0M656.9 103.2h0M646.4 108.3h0M660.1 141.7h0M647.9 119.1h0" stroke="#1a4277"/><path d="M628.8 115.9h0M621.4 130.8h0M623.0 114.1h0M644.4 166.6h0M657.9 133.4h0M659.2 134.9h0M665.7 179.9h0M646.2 111.1h0M623.6 150.3h0M628.6 128.4h0M660.2 105.3h0M663.7 163.2h0M631.8 108.6h0M649.9 131.2h0M671.8 177.3h0M627.9 122.5h0" stroke="#1a3e6f"/><path d="M635.6 118.6h0M651.0 158.6h0M648.2 201.2h0M629.1 140.3h0M656.0 172.3h0M616.9 91.0h0M603.9 92.6h0M654.4 133.8h0M636.1 146.0h0M638.2 124.2h0M638.0 153.7h0M608.7 126.3h0M637.0 141.9h0M656.6 117.5h0" stroke="#193866"/><path d="M636.6 149.3h0M632.1 104.8h0M620.1 131.1h0M610.7 131.3h0M649.0 108.6h0M626.5 147.2h0M615.7 109.9h0M634.5 107.3h0M653.4 174.3h0M611.6 105.5h0M651.2 138.1h0M612.7 135.1h0M630.5 103.2h0M625.3 103.8h0M639.1 132.9h0M638.7 136.0h0M639.0 82.8h0M621.9 142.7h0" stroke="#18345d"/><path d="M631.3 95.0h0M641.9 114.9h0M597.5 85.8h0M631.4 173.4h0M635.7 149.8h0M668.6 150.4h0M639.1 139.9h0M644.3 138.6h0M681.0 158.1h0M615.5 119.5h0M687.7 120.2h0M650.7 149.8h0M648.2 101.0h0" stroke="#172f55"/><path d="M576.9 103.4h0M619.4 126.6h0M643.6 125.7h0M625.7 149.3h0M655.0 123.5h0M636.9 168.7h0M621.2 133.7h0M641.4 233.9h0M637.3 155.5h0M604.9 101.0h0M634.0 125.8h0M618.8 111.6h0M629.6 180.8h0M621.2 148.0h0M620.5 174.1h0" stroke="#152a4d"/><path d="M655.2 128.3h0M640.7 166.4h0M628.9 89.5h0M660.8 151.8h0M608.7 113.4h0M641.8 100.4h0M642.0 135.7h0M652.2 122.1h0" stroke="#132644"/><path d="M619.8 102.8h0M615.4 112.6h0M637.1 128.6h0M654.8 115.5h0M634.6 216.8h0M621.6 134.4h0" stroke="#12213c"/><path d="M628.7 144.2h0M626.1 158.9h0M642.2 91.8h0M639.3 85.5h0M651.2 115.2h0" stroke="#101c34"/><path d="M626.2 154.2h0M647.3 95.4h0M640.9 151.2h0M673.4 128.2h0" stroke="#0e182c"/><path d="M624.1 97.2h0" stroke="#0d1325"/><path d="M443.5 299.5h0M459.3 241.5h0M445.7 240.4h0M476.6 199.9h0M474.1 199.1h0M471.3 216.7h0M488.6 223.7h0M502.3 208.8h0M443.3 228.7h0M471.7 191.7h0M487.9 231.9h0" stroke="#ed8200"/><path d="M460.8 198.4h0M465.6 200.2h0M484.4 275.9h0M452.3 202.3h0M482.1 153.7h0M539.8 184.6h0M448.4 259.3h0M494.7 194.0h0M433.9 258.7h0" stroke="#ea821a"/><path d="M445.0 232.1h0M438.1 242.5h0M482.3 173.8h0M456.9 167.1h0" stroke="#e68229"/><path d="M472.8 212.4h0M478.5 131.8h0M505.3 218.0h0M444.7 247.5h0M475.3 204.9h0M469.0 167.6h0" stroke="#e28235"/><path d="M485.4 181.2h0M495.0 188.5h0M466.5 140.8h0M481.3 196.7h0M517.8 162.2h0M502.1 193.3h0" stroke="#df8240"/><path d="M511.0 170.4h0M523.0 225.3h0M511.3 142.8h0M458.3 208.7h0M474.8 94.2h0M436.1 210.8h0M506.0 181.4h0M506.5 140.9h0M509.7 180.6h0" stroke="#db8249"/><path d="M492.7 154.1h0M500.5 193.2h0M493.1 169.5h0M511.9 145.7h0" stroke="#d78252"/><path d="M495.1 137.0h0M513.2 126.8h0M519.8 175.5h0M498.6 112.7h0M486.9 135.2h0M492.3 121.5h0M486.5 141.1h0" stroke="#d4825b"/><path d="M505.9 173.5h0M517.7 182.3h0M489.3 166.4h0M515.0 150.2h0M524.9 144.4h0M475.6 187.1h0M537.6 231.3h0M501.4 167.7h0M525.2 184.2h0M497.9 157.0h0" stroke="#cf8263"/><path d="M510.6 121.6h0M498.7 179.6h0M497.5 146.2h0M518.0 132.1h0M519.5 197.4h0" stroke="#cb826b"/><path d="M522.7 123.8h0M559.5 163.7h0M512.4 126.6h0" stroke="#c78274"/><path d="M512.7 144.9h0M558.0 182.7h0M528.7 107.4h0M543.6 200.7h0M525.9 165.5h0M552.6 149.9h0M532.6 138.0h0M508.2 169.4h0M527.8 119.0h0M533.4 133.2h0M537.2 155.9h0M532.2 142.2h0M514.7 158.0h0M544.5 125.6h0" stroke="#c1827c"/><path d="M527.8 136.4h0M540.6 176.3h0M536.9 162.2h0M529.6 142.6h0M515.8 127.4h0M501.5 108.5h0M520.3 122.8h0M523.7 144.0h0M542.1 190.2h0" stroke="#bc8384"/><path d="M539.4 116.7h0M552.7 187.2h0M543.5 123.5h0" stroke="#b7838c"/><path d="M540.0 177.5h0M535.5 88.1h0M551.6 173.5h0M507.8 128.0h0M549.2 120.5h0M527.1 130.9h0" stroke="#b08394"/><path d="M545.1 89.9h0M548.3 166.2h0M550.6 154.0h0M553.8 103.0h0M506.9 163.8h0M538.4 120.7h0M549.5 176.8h0M534.8 125.3h0M550.9 130.8h0M517.4 114.7h0M562.0 181.9h0M535.3 106.3h0M544.9 108.6h0" stroke="#ab839c"/><path d="M520.6 142.1h0M544.3 114.1h0" stroke="#a383a4"/><path d="M556.8 168.4h0M548.0 182.5h0M549.6 110.9h0M546.3 120.5h0" stroke="#9c83ac"/><path d="M567.2 145.1h0M552.4 120.5h0M557.6 119.8h0M558.6 92.0h0M542.6 211.9h0" stroke="#9484b4"/><path d="M558.3 173.2h0M539.9 150.0h0M541.6 118.6h0M560.3 129.6h0M559.6 213.5h0M533.0 82.0h0M563.7 101.2h0M545.5 136.7h0M526.7 162.6h0M546.1 113.5h0" stroke="#8b84bc"/><path d="M559.3 151.7h0M537.3 119.3h0M556.2 125.7h0M561.9 144.0h0M555.9 118.5h0M566.3 116.2h0M553.0 128.8h0M546.9 139.4h0M542.4 112.4h0" stroke="#8184c5"/><path d="M554.6 132.5h0M558.3 141.2h0M552.7 117.2h0M561.0 115.5h0M577.9 175.4h0M556.0 95.4h0M556.5 108.0h0" stroke="#7684cd"/><path d="M578.4 141.9h0M563.8 173.6h0M563.9 204.7h0M562.9 136.9h0M587.5 134.8h0M561.4 157.2h0M560.6 102.3h0" stroke="#6884d4"/><path d="M561.7 116.9h0M575.7 148.9h0M553.5 113.8h0M590.9 145.8h0M592.0 136.2h0M555.4 121.5h0M576.0 144.4h0M566.8 174.8h0" stroke="#5784dd"/><path d="M578.0 133.7h0M578.2 104.6h0M577.0 112.2h0M586.7 176.3h0M579.0 88.5h0M608.1 146.1h0M620.8 193.0h0M567.6 135.2h0M597.6 144.3h0M571.9 92.3h0M609.5 145.4h0M578.1 163.4h0M568.0 143.0h0M556.6 167.3h0" stroke="#4185e5"/><path d="M581.4 133.7h0M541.3 125.9h0M572.6 130.8h0M579.4 163.8h0M559.0 109.1h0M586.4 117.6h0M584.1 161.6h0M548.5 107.7h0M551.1 119.4h0M574.5 132.0h0M608.8 181.9h0M579.2 97.4h0M618.2 140.2h0M574.9 121.0h0M588.2 159.8h0M570.1 107.0h0" stroke="#1b84ec"/><path d="M598.3 131.1h0M595.2 148.4h0M580.2 207.0h0M597.8 140.9h0M588.7 180.5h0M580.3 140.5h0M596.1 142.5h0M606.9 88.8h0M580.0 135.3h0M572.2 135.9h0M568.4 113.9h0M586.9 124.1h0M580.3 122.0h0M548.1 117.8h0M582.9 156.7h0M576.6 147.3h0M594.4 138.9h0M627.3 176.8h0M620.2 79.0h0M572.4 77.8h0" stroke="#1c7fe1"/><path d="M580.2 114.7h0M572.1 112.0h0M612.9 105.7h0M591.5 163.6h0M594.9 109.8h0M569.1 111.5h0M605.7 152.6h0M584.6 132.6h0M611.9 115.0h0M579.4 145.0h0M572.6 99.9h0M609.9 116.6h0M606.4 154.0h0M580.7 126.7h0M579.9 178.3h0M583.7 172.1h0M575.4 110.6h0M560.2 92.8h0M603.2 171.5h0M564.3 123.5h0M564.1 97.5h0" stroke="#1d79d7"/><path d="M571.6 125.0h0M566.2 106.5h0M587.2 116.2h0M569.7 118.4h0M614.7 167.2h0M579.6 109.1h0M574.4 129.2h0M580.1 106.4h0M577.6 115.0h0M562.7 123.8h0M592.4 128.0h0M597.5 117.4h0M589.6 130.4h0M611.9 154.1h0M584.9 116.4h0M598.4 138.3h0M571.5 91.7h0M587.3 114.0h0M599.1 139.1h0M592.4 153.3h0M613.9 114.8h0M585.8 98.4h0M630.3 211.8h0M571.9 123.7h0" stroke="#1d74cd"/><path d="M568.3 107.6h0M554.3 99.0h0M591.3 107.1h0M599.7 188.9h0M574.2 114.4h0M587.7 123.2h0M607.1 98.6h0M586.3 100.5h0M593.1 155.1h0M578.6 179.4h0M587.1 158.9h0M575.8 118.1h0M601.9 107.1h0M583.6 144.5h0M580.1 99.6h0M578.4 108.9h0M593.1 171.0h0M605.6 110.7h0M595.9 135.0h0M611.2 133.8h0M602.6 154.9h0M637.7 137.4h0M625.5 120.2h0M586.5 107.7h0M589.9 115.7h0M579.3 126.5h0" stroke="#1e6ec4"/><path d="M593.0 99.7h0M588.9 107.7h0M612.6 112.7h0M589.3 114.2h0M605.9 103.2h0M607.5 163.0h0M593.8 103.5h0M585.2 80.5h0M589.3 96.3h0M565.9 122.1h0M616.3 142.6h0M615.2 135.1h0M604.7 141.5h0M568.9 91.6h0M597.0 105.3h0M601.5 124.8h0M583.8 121.4h0M612.3 110.9h0M607.1 129.5h0M619.6 155.6h0M584.1 91.6h0M587.2 104.5h0" stroke="#1e69ba"/><path d="M605.3 121.9h0M600.9 129.8h0M576.4 95.1h0M595.5 117.7h0M604.1 147.4h0M589.9 103.1h0M591.2 96.9h0M583.8 76.3h0M630.9 144.1h0M629.1 107.7h0M590.2 143.4h0M635.9 117.6h0M607.7 106.9h0M604.8 107.4h0M596.1 89.9h0M595.8 110.5h0M621.3 160.9h0M585.9 110.4h0" stroke="#1e63b0"/><path d="M608.7 136.3h0M618.6 110.0h0M602.6 95.3h0M608.0 114.8h0M605.1 111.1h0M606.1 135.1h0M563.5 96.2h0M617.6 144.5h0M617.3 148.1h0M601.0 105.9h0M565.4 91.2h0M574.5 99.1h0M577.1 94.3h0M648.7 104.1h0M628.7 108.9h0M601.6 103.5h0" stroke="#1e5da6"/><path d="M648.1 126.1h0M599.1 116.7h0M595.1 127.7h0M630.9 148.2h0M607.8 111.1h0M603.9 101.0h0M614.9 125.0h0M617.2 134.7h0M620.8 148.0h0M586.4 62.0h0M654.1 94.5h0M588.8 99.9h0M609.5 118.0h0" stroke="#1d589d"/><path d="M620.3 110.9h0M614.6 90.7h0M640.5 143.3h0M645.9 115.3h0M589.4 110.4h0M602.0 112.8h0M646.9 119.4h0M595.1 108.5h0" stroke="#1d5293"/><path d="M578.1 86.8h0M609.2 104.0h0M674.0 90.0h0M639.3 159.5h0M646.1 145.3h0M608.3 118.4h0M625.0 104.8h0M570.7 106.3h0" stroke="#1c4e8a"/><path d="M613.5 116.3h0M634.5 126.9h0M629.7 91.8h0M675.4 159.0h0M629.0 124.2h0M629.2 88.1h0M644.9 142.1h0M618.4 116.1h0M607.6 122.9h0M613.7 189.6h0M614.8 145.8h0M618.3 95.0h0M609.7 72.8h0M602.9 81.5h0" stroke="#1b4881"/><path d="M633.7 123.3h0M644.0 104.0h0M651.5 142.4h0M668.2 141.7h0M634.3 89.0h0M610.1 144.3h0M610.5 138.7h0M625.5 96.4h0M645.8 120.4h0M612.3 140.7h0M623.3 98.3h0M650.1 185.4h0M646.0 143.5h0M602.2 106.1h0M614.8 165.3h0M625.0 117.3h0M641.3 127.4h0" stroke="#1a4277"/><path d="M640.4 94.7h0M621.0 157.0h0M642.9 155.0h0M635.1 123.5h0M621.9 123.9h0M670.9 145.8h0M644.2 143.9h0M647.5 136.8h0M626.8 117.6h0M592.5 67.1h0M631.0 128.5h0M643.8 131.4h0M621.1 112.3h0M648.5 111.3h0" stroke="#1a3e6f"/><path d="M655.4 98.0h0M648.4 90.0h0M618.6 171.3h0M633.6 102.3h0M646.7 116.2h0M636.3 83.3h0M621.7 109.1h0M620.9 143.4h0M609.9 101.7h0M627.2 99.5h0M632.1 118.6h0" stroke="#193866"/><path d="M643.2 128.8h0M648.0 142.2h0M658.2 131.9h0M618.8 145.4h0M655.4 184.3h0M661.0 164.9h0M669.7 118.1h0M628.5 163.0h0M634.3 138.6h0M619.7 118.4h0M658.9 131.5h0M625.6 143.3h0M622.2 129.5h0M612.6 103.0h0M632.4 144.0h0M629.5 199.3h0M624.7 99.6h0M614.4 122.0h0M611.1 151.6h0" stroke="#18345d"/><path d="M647.7 115.7h0M645.7 167.8h0M633.9 183.1h0M627.6 134.0h0M612.2 80.6h0M657.0 119.5h0M641.6 126.1h0M647.7 168.4h0M648.4 137.9h0M620.8 113.8h0M630.6 123.3h0M638.3 122.1h0M608.5 127.9h0M631.3 167.9h0M625.2 147.2h0M639.8 115.5h0" stroke="#172f55"/><path d="M653.1 138.2h0M612.7 111.8h0M615.3 87.9h0M633.7 157.2h0M629.6 120.8h0M643.1 108.2h0M620.5 96.6h0M601.6 121.3h0M615.9 119.0h0M611.5 124.0h0" stroke="#152a4d"/><path d="M636.8 166.2h0M608.6 117.4h0M641.1 123.8h0M651.8 117.8h0M643.0 137.6h0M641.7 147.2h0M629.5 94.9h0M641.0 110.3h0" stroke="#132644"/><path d="M648.6 129.7h0M583.6 116.9h0M654.0 150.9h0M609.7 152.8h0M622.0 107.4h0M637.8 107.3h0M603.7 115.1h0M630.2 183.4h0M638.6 92.6h0" stroke="#12213c"/><path d="M679.1 144.7h0M641.2 146.5h0M611.6 98.2h0M612.6 108.7h0M647.0 126.7h0M615.0 161.4h0M669.3 179.4h0M654.9 130.7h0" stroke="#101c34"/><path d="M654.3 125.3h0M575.1 106.4h0" stroke="#0e182c"/><path d="M672.8 160.4h0M609.8 130.3h0" stroke="#0d1325"/><path d="M484.0 152.5h0M456.1 230.4h0M487.4 189.0h0M466.6 219.5h0M486.0 212.3h0M435.1 267.5h0M466.3 250.1h0M453.7 230.2h0M464.2 232.0h0M452.5 221.7h0" stroke="#ed8200"/><path d="M509.2 273.1h0M443.7 223.1h0M477.2 241.0h0M459.8 227.5h0M455.2 212.8h0M464.4 184.3h0" stroke="#ea821a"/><path d="M472.4 219.8h0M489.5 212.1h0M461.7 202.0h0M428.2 232.0h0M473.2 227.0h0M431.4 245.2h0" stroke="#e68229"/><path d="M473.8 167.7h0M487.1 158.1h0M455.0 194.2h0M474.7 235.8h0M467.7 185.8h0M485.3 158.6h0M465.8 238.3h0M485.1 197.3h0M471.9 150.5h0M470.3 198.3h0M470.6 206.6h0" stroke="#e28235"/><path d="M455.5 199.7h0M457.1 235.9h0M483.3 84.2h0M504.5 123.8h0M457.7 217.8h0M497.1 223.0h0M478.2 150.8h0" stroke="#df8240"/><path d="M460.0 185.2h0M508.4 197.3h0M491.5 198.6h0M510.8 153.7h0M473.6 206.0h0M458.7 157.8h0" stroke="#db8249"/><path d="M467.3 129.9h0M496.5 199.8h0M524.1 138.2h0M469.2 191.5h0M493.7 150.2h0M516.9 205.0h0M544.3 162.0h0M491.0 168.8h0" stroke="#d78252"/><path d="M520.6 215.7h0M504.3 162.9h0M484.3 185.7h0M511.2 200.8h0M478.4 174.5h0M469.3 179.4h0M498.3 96.2h0M501.9 172.8h0M480.6 188.0h0" stroke="#d4825b"/><path d="M521.9 159.8h0M533.6 221.7h0M496.6 178.6h0M517.2 137.3h0" stroke="#cf8263"/><path d="M491.7 160.4h0M490.3 106.1h0M491.4 131.6h0M537.4 133.4h0M525.0 211.7h0M514.4 176.5h0M526.3 189.2h0M516.2 167.0h0M522.2 175.7h0" stroke="#cb826b"/><path d="M509.4 141.3h0M538.2 145.2h0M531.9 173.8h0M513.7 141.3h0M547.2 124.2h0M526.0 147.6h0M496.4 163.9h0M526.3 120.8h0M536.4 208.6h0" stroke="#c78274"/><path d="M509.2 153.1h0M544.1 182.4h0M501.7 156.7h0M533.9 142.7h0M507.2 180.8h0M527.6 250.4h0M534.4 174.1h0M533.4 165.3h0M529.1 189.6h0M531.1 131.0h0M523.2 192.7h0" stroke="#c1827c"/><path d="M519.2 103.2h0M514.3 111.0h0M528.5 175.9h0M509.0 117.9h0M460.6 171.6h0M525.9 151.3h0M508.6 183.9h0M503.9 86.6h0M530.2 122.3h0" stroke="#bc8384"/><path d="M541.2 186.6h0M553.3 191.2h0M524.7 118.6h0M509.8 148.4h0M544.1 138.7h0M528.1 168.2h0M535.2 230.5h0M542.9 191.7h0M540.3 129.0h0M549.9 130.4h0M538.9 135.4h0" stroke="#b7838c"/><path d="M519.0 118.1h0M536.7 120.2h0M550.0 142.7h0M524.7 140.4h0" stroke="#b08394"/><path d="M557.7 169.8h0M553.3 158.7h0M527.5 128.4h0M534.1 129.2h0M545.4 166.0h0M569.5 193.2h0M528.8 112.8h0M542.6 143.4h0" stroke="#ab839c"/><path d="M526.8 124.9h0M523.7 72.2h0M541.8 114.6h0M511.5 133.3h0M537.4 114.4h0M539.3 93.1h0M563.5 191.1h0" stroke="#a383a4"/><path d="M547.7 175.6h0M555.6 162.8h0M559.3 116.8h0M555.0 108.3h0" stroke="#9c83ac"/><path d="M538.7 101.8h0M562.3 119.0h0M566.4 183.1h0M586.2 141.1h0M570.4 143.8h0M548.6 125.9h0M539.7 124.9h0M545.7 153.7h0M555.5 142.1h0M535.9 103.5h0M547.0 106.1h0M540.1 121.6h0M561.1 150.9h0" stroke="#9484b4"/><path d="M559.7 107.0h0M558.4 125.7h0M559.5 105.8h0M540.8 109.4h0M564.0 105.3h0" stroke="#8b84bc"/><path d="M560.7 96.0h0M575.6 148.6h0M543.3 127.3h0M541.5 94.7h0M562.4 98.9h0M554.1 118.8h0M550.8 99.6h0M556.1 110.0h0M567.3 140.1h0M537.1 90.2h0M557.5 129.8h0M548.5 137.4h0M581.0 126.9h0M548.8 226.5h0" stroke="#8184c5"/><path d="M561.6 100.3h0M534.7 108.3h0M565.5 93.2h0M557.8 185.9h0M572.7 179.6h0M564.5 135.0h0M540.6 132.1h0M578.7 105.5h0M560.3 153.1h0" stroke="#7684cd"/><path d="M567.1 126.6h0M566.5 94.7h0M545.1 139.0h0M566.9 153.9h0M560.8 99.9h0" stroke="#6884d4"/><path d="M573.7 151.9h0M546.7 110.6h0M582.3 182.8h0M547.5 126.2h0M562.7 133.1h0M577.1 178.7h0M565.6 148.4h0M567.4 121.2h0M568.0 114.9h0" stroke="#5784dd"/><path d="M568.5 95.2h0M570.0 109.4h0M545.9 95.7h0M566.0 137.6h0M573.3 108.3h0M577.5 141.1h0M597.3 135.3h0M557.2 120.8h0M597.2 114.5h0M594.4 79.8h0M558.0 158.9h0M601.2 119.7h0" stroke="#4185e5"/><path d="M560.1 110.9h0M594.5 123.2h0M597.1 95.6h0M598.7 150.9h0M563.8 126.4h0M584.6 94.7h0M593.3 134.0h0" stroke="#1b84ec"/><path d="M564.1 112.1h0M577.8 92.4h0M575.7 102.6h0M585.6 135.5h0M556.3 116.8h0M562.9 110.0h0M572.9 127.4h0M592.2 129.6h0M562.1 114.9h0M569.4 118.1h0M576.3 115.0h0M567.7 101.7h0M587.9 93.9h0M597.7 179.1h0M585.1 107.0h0M561.5 139.6h0M589.2 120.3h0M579.0 138.1h0M564.4 140.7h0M566.1 98.5h0" stroke="#1c7fe1"/><path d="M585.3 137.1h0M593.5 110.6h0M589.7 116.5h0M595.0 103.9h0M573.9 121.9h0M552.2 103.0h0M571.9 96.6h0M576.2 113.1h0M590.3 99.0h0M578.3 115.3h0M609.2 181.1h0M587.0 133.6h0M583.3 147.5h0M617.1 123.8h0M596.2 101.4h0M573.6 120.1h0M584.0 112.0h0M600.2 88.9h0M592.2 123.1h0M583.2 118.4h0M580.6 121.3h0M600.5 98.4h0M589.1 126.8h0M594.0 102.0h0M568.3 168.0h0M595.7 98.2h0M589.2 92.5h0" stroke="#1d79d7"/><path d="M579.5 101.5h0M598.2 106.3h0M590.5 129.9h0M599.6 123.0h0M581.6 118.4h0M631.7 114.5h0M627.8 136.8h0M546.9 70.2h0M605.6 119.7h0M591.9 132.7h0M600.1 130.2h0M596.9 147.8h0M620.0 119.8h0M572.3 107.7h0M622.8 143.8h0M645.4 177.5h0M567.4 87.5h0" stroke="#1d74cd"/><path d="M570.7 166.7h0M574.2 102.0h0M581.2 123.0h0M580.5 109.3h0M612.1 132.2h0M591.8 113.1h0M570.3 135.6h0M568.9 131.6h0M585.7 137.4h0M609.6 132.5h0M574.4 116.9h0" stroke="#1e6ec4"/><path d="M577.3 114.0h0M614.2 156.2h0M568.4 100.3h0M595.1 119.3h0M559.6 87.5h0M630.5 171.2h0M592.5 115.2h0M581.2 107.7h0M602.2 140.7h0M607.4 148.2h0M606.9 105.9h0M582.4 107.8h0M584.0 156.8h0M572.7 102.9h0M593.0 121.7h0M616.9 151.1h0M572.2 89.7h0" stroke="#1e69ba"/><path d="M631.0 95.5h0M632.5 153.9h0M609.3 97.0h0M588.2 100.7h0M617.0 105.3h0M603.6 132.5h0M609.6 109.6h0M584.8 101.5h0M610.9 126.9h0M599.0 78.6h0M584.3 98.9h0M603.5 111.2h0M596.8 97.1h0M645.2 202.8h0" stroke="#1e63b0"/><path d="M626.4 79.1h0M591.8 158.4h0M600.4 116.1h0M593.0 82.5h0M573.0 98.8h0M669.9 135.6h0M606.0 112.6h0M601.0 118.1h0M631.1 112.5h0M635.6 155.9h0M571.2 108.5h0M614.1 106.5h0M587.3 96.0h0M586.4 82.6h0" stroke="#1e5da6"/><path d="M595.4 100.4h0M617.9 160.6h0M586.1 72.2h0M624.6 95.3h0M594.6 151.1h0M642.3 141.5h0M619.3 113.9h0M615.0 117.2h0M622.5 132.3h0M602.3 110.4h0M609.8 103.2h0" stroke="#1d589d"/><path d="M664.8 152.0h0M584.4 105.4h0M636.1 175.6h0M643.5 118.9h0M583.0 97.7h0M622.3 121.4h0M630.1 214.3h0M665.9 97.0h0M622.5 153.5h0M621.7 89.3h0M619.2 136.7h0M588.7 106.2h0" stroke="#1d5293"/><path d="M595.8 93.0h0M628.0 119.6h0M663.3 179.6h0M699.7 189.2h0M598.5 91.2h0M595.3 87.1h0M594.9 150.6h0M644.4 161.8h0M627.4 127.3h0M630.4 141.4h0M653.0 133.1h0M641.8 151.3h0M613.8 135.0h0" stroke="#1c4e8a"/><path d="M633.1 106.8h0M670.5 150.1h0M640.1 152.3h0M631.9 132.8h0M610.1 108.1h0M624.4 115.6h0M610.7 119.0h0M610.2 99.6h0M590.2 107.3h0M649.4 140.6h0M628.8 100.4h0M622.9 164.8h0M606.6 114.3h0M640.1 62.9h0" stroke="#1b4881"/><path d="M656.7 226.4h0M596.4 76.3h0M645.3 122.1h0M626.6 122.6h0M656.2 158.1h0M621.1 119.4h0M638.7 112.3h0M624.8 131.6h0M638.1 147.7h0M620.1 101.4h0M654.6 114.1h0M629.4 119.3h0M644.8 156.7h0M650.9 107.4h0M650.3 121.3h0M662.9 190.7h0" stroke="#1a4277"/><path d="M650.7 139.4h0M630.7 188.6h0M623.4 125.5h0M634.7 159.1h0M623.9 129.2h0M631.5 116.9h0M611.4 113.9h0M649.7 146.4h0M659.0 110.7h0M615.2 200.2h0M652.5 187.3h0M651.9 165.9h0M617.1 119.6h0M636.2 185.8h0M625.6 185.2h0" stroke="#1a3e6f"/><path d="M603.0 154.2h0M613.6 100.4h0M647.6 153.5h0M628.3 97.9h0M622.5 81.7h0M644.8 129.7h0M676.3 178.1h0M627.5 107.5h0M597.2 147.6h0M633.5 151.9h0M606.4 124.3h0M620.7 91.1h0M658.0 108.3h0M633.2 134.7h0M647.1 153.0h0M664.4 175.7h0M603.9 122.1h0M632.3 121.5h0M640.9 113.8h0" stroke="#193866"/><path d="M606.0 130.0h0M596.6 115.9h0M615.6 101.7h0M643.4 102.8h0M611.6 161.9h0M645.9 133.4h0M643.7 121.9h0M615.3 116.1h0M592.8 203.9h0M620.9 105.4h0M638.6 160.0h0M618.3 122.7h0M653.6 124.5h0M642.0 145.6h0M620.4 128.3h0M637.9 133.4h0M633.2 114.1h0M644.1 112.7h0M667.2 164.5h0M673.7 145.9h0M591.0 145.2h0" stroke="#18345d"/><path d="M650.9 154.2h0M616.8 161.7h0M640.9 183.4h0M636.7 104.6h0M629.4 166.5h0M662.1 204.5h0M625.7 109.7h0M652.8 73.3h0M624.9 154.6h0M643.0 83.8h0M630.0 102.1h0M602.1 138.1h0M652.6 104.5h0M642.6 138.8h0M611.8 95.8h0M646.9 102.4h0M626.8 113.1h0M629.9 106.2h0M639.5 137.1h0M647.4 124.0h0M624.9 111.1h0M618.2 89.1h0" stroke="#172f55"/><path d="M631.5 85.2h0M658.5 164.3h0M656.4 138.9h0M652.3 145.0h0M594.6 119.9h0M618.9 133.0h0M632.6 107.3h0M626.5 114.8h0M651.6 166.8h0" stroke="#152a4d"/><path d="M649.1 175.7h0M585.9 101.9h0M610.2 156.1h0M627.5 276.1h0M596.5 129.0h0M666.9 218.4h0M643.8 146.2h0M624.7 119.8h0M695.2 148.7h0" stroke="#132644"/><path d="M665.4 131.7h0M639.7 133.6h0M661.9 133.7h0M626.3 104.7h0M611.3 108.5h0" stroke="#12213c"/><path d="M624.9 184.2h0M633.0 193.2h0M617.3 87.2h0M646.7 160.7h0" stroke="#101c34"/><path d="M676.8 136.4h0M646.8 149.9h0M634.9 112.1h0" stroke="#0e182c"/><path d="M94.2 638.3h0M119.8 569.6h0M279.0 454.3h0M92.8 579.1h0M293.2 463.3h0M281.1 443.0h0" stroke="#ed8200"/><path d="M276.2 463.8h0" stroke="#e68228"/><path d="M130.0 554.2h0M275.0 506.8h0M275.8 463.0h0M278.6 475.8h0M297.2 447.9h0" stroke="#e38234"/><path d="M99.1 582.2h0M277.8 460.8h0" stroke="#e0823e"/><path d="M284.3 485.5h0M304.2 468.3h0M78.6 600.2h0M122.6 548.9h0M274.4 468.5h0M328.6 520.2h0" stroke="#dc8247"/><path d="M79.4 638.4h0M97.5 548.0h0M115.5 618.6h0M106.6 545.5h0M283.5 474.5h0M276.8 431.2h0M68.5 647.7h0M93.7 616.4h0M127.9 575.0h0M314.3 502.4h0M119.0 573.1h0M311.9 467.1h0" stroke="#d8824f"/><path d="M114.6 542.4h0M292.7 553.7h0M271.8 483.6h0M245.8 472.3h0M80.2 618.1h0" stroke="#d48259"/><path d="M263.4 485.3h0M108.1 532.6h0M258.3 479.5h0M253.6 503.9h0M285.2 481.0h0M258.7 505.6h0M200.5 481.8h0M140.0 546.8h0" stroke="#d18260"/><path d="M251.8 484.6h0M266.0 488.9h0M117.6 598.7h0M76.7 592.5h0M259.5 552.3h0M275.3 494.8h0M302.3 489.7h0M294.7 511.6h0M288.8 473.8h0M257.7 523.8h0M264.9 499.8h0M113.8 577.2h0" stroke="#cc8269"/><path d="M276.4 487.3h0M268.9 486.6h0M258.4 483.0h0M293.4 493.2h0" stroke="#c78271"/><path d="M275.4 474.1h0M280.3 488.6h0M102.8 540.5h0M269.7 474.0h0M307.5 486.0h0M257.1 526.4h0M239.3 515.8h0M97.1 542.3h0M335.5 498.5h0M274.0 488.5h0" stroke="#c38278"/><path d="M133.0 546.2h0M117.4 532.9h0M252.4 528.8h0M140.5 485.8h0M253.5 457.6h0M203.8 453.7h0M274.7 509.8h0M130.5 592.9h0M119.5 595.2h0M279.5 471.4h0M207.8 493.4h0M115.7 510.3h0M250.1 460.2h0M257.1 489.0h0M254.7 532.9h0" stroke="#be8381"/><path d="M205.2 459.5h0M110.7 542.4h0M280.7 481.7h0M128.1 518.9h0M137.4 551.6h0M267.2 490.0h0M284.1 560.3h0M273.9 528.6h0M267.5 439.2h0M166.8 551.8h0M101.1 590.3h0M263.3 496.5h0M119.3 542.5h0M255.7 494.2h0" stroke="#ba8388"/><path d="M112.6 532.1h0M142.7 546.3h0M280.8 505.0h0M273.8 480.2h0M256.4 475.8h0M250.0 495.6h0M307.1 495.1h0M171.2 500.3h0M252.4 449.6h0M263.1 501.6h0M267.0 512.5h0" stroke="#b48390"/><path d="M254.3 492.2h0M264.7 447.5h0M147.3 541.5h0M272.6 472.7h0M256.8 467.5h0M244.4 512.4h0M281.5 498.5h0M262.3 457.1h0M281.0 469.5h0M117.3 584.8h0M319.3 499.4h0M262.9 477.3h0M139.1 551.5h0M247.4 463.4h0M81.0 590.4h0M257.5 479.1h0M254.1 520.8h0M128.7 491.0h0" stroke="#ad8398"/><path d="M280.0 537.1h0M254.1 428.3h0M269.4 523.2h0M270.9 501.4h0M256.1 505.8h0M266.6 533.3h0M266.7 455.7h0M186.7 568.1h0M139.3 569.5h0M177.4 553.8h0" stroke="#a8839f"/><path d="M259.1 474.8h0M248.5 533.1h0M233.3 464.8h0M257.0 492.3h0M281.8 547.6h0M296.9 492.2h0M135.3 563.7h0M276.7 477.7h0M297.3 523.5h0M274.9 534.6h0M281.7 486.2h0M261.8 450.0h0M278.4 504.1h0M269.8 492.0h0M274.6 508.3h0M291.3 511.3h0M274.4 540.3h0M251.0 502.5h0M286.5 492.6h0M266.4 469.8h0" stroke="#a083a7"/><path d="M282.4 572.0h0M278.5 530.4h0M286.2 503.5h0M276.3 495.0h0M245.5 485.2h0M280.1 478.6h0M274.3 478.6h0M93.1 615.6h0M236.1 466.1h0" stroke="#9984af"/><path d="M270.2 538.2h0M271.4 519.8h0M247.5 476.8h0M214.6 468.3h0M317.0 570.5h0M215.5 488.3h0M262.0 543.4h0" stroke="#9284b7"/><path d="M269.4 490.1h0M255.4 520.6h0M231.3 486.3h0M284.7 539.3h0M276.1 534.7h0M268.7 515.9h0M193.2 502.6h0M254.0 495.2h0M285.8 531.4h0M286.9 496.9h0M277.5 489.6h0M301.3 514.8h0M264.0 503.6h0M298.3 547.7h0" stroke="#8884be"/><path d="M262.7 492.1h0M178.7 479.3h0M237.7 562.3h0M255.7 473.3h0M132.0 561.1h0M272.5 504.0h0M224.0 473.0h0M261.9 558.0h0" stroke="#7e84c7"/><path d="M219.7 539.4h0M243.8 470.4h0M248.4 454.7h0M142.8 502.5h0M305.6 521.8h0M278.1 510.5h0M144.4 561.5h0M304.9 578.1h0M233.5 485.5h0M287.1 530.8h0M213.6 495.7h0M224.1 484.9h0M274.6 498.1h0" stroke="#7384ce"/><path d="M225.2 487.2h0M156.1 523.3h0M172.5 548.4h0M173.3 528.8h0M290.1 489.9h0M236.7 487.6h0M138.4 507.2h0M280.2 468.6h0M158.0 506.8h0M221.4 483.9h0M183.3 522.6h0M157.7 589.5h0" stroke="#6684d6"/><path d="M221.8 463.3h0M291.2 487.3h0M244.8 526.0h0M204.8 504.6h0M213.9 472.0h0M195.4 514.0h0M229.6 480.6h0M278.0 517.9h0" stroke="#5584de"/><path d="M199.5 534.6h0M221.3 452.0h0M250.5 468.5h0M227.0 484.3h0M301.4 525.2h0M165.2 497.6h0M259.4 486.0h0M227.4 468.5h0M84.0 610.3h0" stroke="#3e85e6"/><path d="M210.5 519.1h0M208.8 530.9h0M269.8 502.0h0M221.9 481.1h0M237.1 467.9h0M221.7 510.3h0M237.9 474.3h0M221.6 572.8h0M254.2 511.3h0M219.4 493.5h0M222.7 495.0h0M172.1 558.5h0M156.5 463.6h0M146.9 498.9h0" stroke="#1b84eb"/><path d="M194.9 598.3h0M187.3 486.5h0M202.3 582.3h0M202.6 470.4h0M185.2 480.9h0M209.1 437.9h0M210.8 475.4h0M257.4 480.3h0M292.8 524.6h0M206.2 481.6h0M227.7 494.8h0M218.2 470.1h0M195.6 562.3h0M243.2 487.5h0M275.9 518.3h0" stroke="#1d7fe1"/><path d="M228.5 445.2h0M238.4 533.0h0M210.4 476.3h0M235.6 458.7h0M225.3 468.5h0M252.8 502.8h0M148.4 509.8h0M299.3 485.4h0M246.6 476.0h0M191.3 505.6h0M228.6 478.4h0M214.8 450.3h0M216.4 473.5h0" stroke="#1e78d6"/><path d="M220.9 488.4h0M222.7 486.3h0M184.5 514.8h0M276.0 469.8h0M164.2 496.9h0M203.8 477.6h0M189.9 473.2h0M193.9 518.4h0M167.5 490.1h0M213.1 478.3h0M231.7 468.6h0M285.9 458.4h0M203.0 479.6h0M240.1 530.0h0M246.1 506.0h0M178.8 547.5h0M89.1 576.1h0M227.2 518.7h0M210.6 507.3h0M180.0 437.1h0M240.8 514.8h0M204.5 474.9h0M249.6 483.7h0M204.4 523.0h0M231.1 454.8h0M220.3 481.3h0" stroke="#1e73cb"/><path d="M194.1 467.3h0M218.7 484.5h0M220.7 462.0h0M191.7 531.1h0M237.4 462.7h0M238.3 488.8h0M187.7 476.4h0M220.5 488.5h0M242.4 555.1h0M189.2 482.6h0M266.6 479.8h0M182.4 481.4h0M245.2 509.6h0M170.2 501.6h0M261.7 462.6h0M186.1 542.4h0M188.3 561.0h0M200.0 523.1h0" stroke="#1f6dc1"/><path d="M235.5 476.9h0M276.0 499.0h0M259.3 470.1h0M208.7 544.4h0M224.5 535.7h0M270.4 485.4h0M253.3 444.1h0M233.0 448.7h0M206.3 483.0h0M133.9 521.8h0M237.7 453.6h0M188.6 488.9h0M295.3 485.4h0M281.9 477.5h0M190.5 476.8h0M255.9 475.2h0M234.3 564.7h0M228.3 509.7h0M204.6 468.0h0M260.3 486.9h0M191.2 447.2h0M208.2 478.0h0M216.2 484.5h0M209.0 474.9h0M217.3 499.3h0" stroke="#1f67b7"/><path d="M237.6 489.8h0M232.8 539.4h0M185.3 504.0h0M246.8 429.5h0M208.3 506.4h0M164.0 542.3h0M244.7 497.4h0M247.8 489.9h0M250.9 479.7h0M270.5 463.4h0M168.9 461.2h0M247.3 524.6h0M168.3 515.2h0M192.1 486.9h0M268.5 480.8h0M204.3 476.7h0M244.9 530.6h0M128.6 531.5h0M279.9 485.9h0M270.0 477.8h0M229.3 472.9h0M191.9 482.3h0M288.6 517.5h0M196.8 526.3h0M282.0 451.7h0M204.5 559.2h0" stroke="#1f61ac"/><path d="M211.1 514.0h0M90.1 645.8h0M239.5 484.3h0M203.4 485.1h0M213.4 451.7h0M230.3 453.0h0M160.5 473.0h0M214.7 483.2h0M288.8 490.6h0M214.4 478.8h0M260.0 503.6h0M226.7 494.8h0M175.2 476.4h0M223.0 459.5h0M230.8 513.9h0M166.5 506.3h0M246.1 460.7h0M208.4 519.7h0M255.6 512.7h0M248.0 515.3h0M232.9 454.0h0M189.0 473.2h0" stroke="#1f5ca2"/><path d="M206.8 469.3h0M207.4 491.5h0M162.7 529.0h0M225.4 518.1h0M173.5 488.2h0M193.1 482.7h0M300.0 495.7h0M168.6 504.3h0M200.5 535.8h0M212.1 511.2h0M237.3 479.3h0" stroke="#1e5699"/><path d="M262.7 473.4h0M323.5 561.3h0M150.1 530.9h0M211.0 576.7h0M194.8 569.7h0M181.3 499.9h0M193.0 471.2h0M269.4 482.1h0M151.2 514.9h0M225.1 476.7h0" stroke="#1e508f"/><path d="M230.2 502.1h0M152.9 607.9h0M245.3 496.1h0M222.8 499.8h0M221.3 473.2h0M180.4 534.1h0M164.7 523.7h0M188.0 583.7h0M194.8 500.5h0M196.4 475.2h0M161.0 579.5h0M227.1 466.0h0M169.2 604.8h0M192.0 521.5h0M231.3 460.5h0M162.0 549.1h0M210.3 449.4h0M173.9 510.1h0" stroke="#1d4b85"/><path d="M201.9 509.4h0M255.8 468.0h0M227.9 465.4h0M261.6 521.5h0M175.3 501.3h0M239.0 470.8h0M224.8 479.2h0M182.7 465.7h0M188.9 492.7h0M134.1 553.3h0M268.6 520.4h0M191.5 589.1h0M279.4 539.2h0M279.5 484.5h0M192.9 472.1h0" stroke="#1c457c"/><path d="M229.9 473.5h0M248.9 554.4h0M239.0 497.8h0M225.2 474.8h0M247.2 506.7h0M265.4 465.4h0M196.9 505.5h0M191.7 561.3h0M180.8 493.8h0M153.6 509.7h0M224.1 493.8h0M193.5 525.6h0M225.6 492.3h0M295.1 519.4h0" stroke="#1b4173"/><path d="M230.4 468.4h0M245.0 478.9h0M265.6 477.1h0M206.2 463.3h0M255.6 491.5h0M187.2 456.6h0M155.5 569.5h0M219.2 514.9h0M138.7 537.4h0" stroke="#1a3b6a"/><path d="M221.1 535.9h0M170.0 500.0h0M137.0 525.7h0M229.7 488.4h0M160.8 497.4h0M143.6 549.3h0M163.0 533.8h0M155.3 541.4h0M196.1 520.0h0" stroke="#1a3560"/><path d="M182.8 530.7h0M187.1 480.9h0M217.8 494.1h0M195.7 509.3h0M190.1 537.9h0M159.2 517.1h0M281.1 500.4h0" stroke="#183157"/><path d="M134.6 644.0h0M157.9 486.5h0M177.6 476.8h0M241.3 473.6h0M288.5 492.9h0" stroke="#172c4f"/><path d="M183.3 455.2h0M241.3 492.2h0M191.0 495.9h0" stroke="#152745"/><path d="M218.0 491.1h0M229.2 468.0h0M245.1 581.3h0" stroke="#13223d"/><path d="M194.6 469.7h0M232.8 475.7h0" stroke="#111d35"/><path d="M274.8 465.3h0M216.3 522.8h0" stroke="#0f192c"/><path d="M191.3 565.1h0" stroke="#0d1425"/><path d="M303.8 478.7h0M110.1 611.5h0M74.1 591.9h0M300.8 456.8h0" stroke="#ed8200"/><path d="M99.8 614.4h0" stroke="#e68228"/><path d="M90.4 553.2h0M135.5 519.1h0" stroke="#e38234"/><path d="M123.0 506.6h0M83.7 659.3h0M105.6 559.7h0" stroke="#e0823e"/><path d="M277.1 473.0h0M272.1 456.7h0M275.0 477.7h0M82.6 585.4h0M115.1 581.6h0M268.9 467.9h0" stroke="#dc8247"/><path d="M86.5 545.1h0M295.4 474.0h0M91.4 605.4h0M110.5 592.9h0M282.0 491.6h0M279.1 474.6h0M115.8 592.0h0M298.2 487.8h0M103.3 619.1h0M263.3 465.3h0M311.2 490.8h0" stroke="#d8824f"/><path d="M100.6 553.3h0M290.1 476.2h0M78.1 633.3h0M300.5 480.5h0" stroke="#d48259"/><path d="M309.7 491.7h0M299.6 489.7h0M251.1 508.4h0M174.3 492.1h0M152.5 522.6h0M108.3 640.3h0M254.3 465.7h0M127.1 567.8h0M121.3 537.2h0M142.1 494.0h0M129.5 514.3h0" stroke="#d18260"/><path d="M255.4 466.6h0M282.1 483.1h0M104.5 520.6h0M116.7 558.5h0M107.4 597.5h0M118.6 594.2h0M273.6 476.0h0M95.9 577.4h0M295.7 507.1h0M282.9 487.8h0M302.7 480.3h0M259.6 516.3h0M151.6 558.9h0M273.6 452.5h0" stroke="#cc8269"/><path d="M131.6 533.3h0M297.1 534.4h0M301.1 493.0h0M293.1 474.7h0M170.1 545.0h0M237.5 486.1h0M256.6 475.7h0" stroke="#c78271"/><path d="M258.8 461.4h0M100.9 583.8h0M204.2 443.0h0M222.6 467.3h0M162.3 518.5h0M169.9 467.6h0M276.8 482.4h0M144.3 521.9h0M264.1 451.7h0M273.4 513.0h0M299.2 529.7h0M306.7 474.4h0" stroke="#c38278"/><path d="M247.9 474.0h0M92.4 527.2h0M147.2 475.2h0M246.9 471.4h0M247.5 591.0h0M133.7 510.8h0M276.5 484.9h0M265.0 475.7h0M120.4 525.2h0M170.8 489.8h0M266.8 489.5h0M239.9 472.8h0M259.2 496.4h0M216.9 462.1h0" stroke="#be8381"/><path d="M275.6 500.4h0M214.6 497.6h0M238.2 478.1h0M132.5 503.1h0M59.5 637.6h0M277.2 486.9h0M248.7 486.3h0M221.8 489.0h0M143.2 517.0h0M284.2 488.5h0M110.3 651.4h0M252.6 459.7h0M263.6 505.1h0M262.8 525.5h0M284.5 472.5h0" stroke="#ba8388"/><path d="M265.7 448.4h0M280.9 508.2h0M288.4 490.5h0M202.4 528.5h0M95.5 593.9h0M294.3 588.1h0M290.2 484.7h0M246.6 480.2h0M236.3 477.1h0M263.7 475.8h0M147.6 526.2h0M265.5 480.2h0" stroke="#b48390"/><path d="M142.4 570.4h0M258.7 482.0h0M262.5 506.3h0M301.9 474.9h0M191.0 480.4h0M256.3 489.2h0M143.1 600.5h0M204.9 542.8h0M208.2 480.1h0M260.9 435.1h0M256.0 480.1h0M273.2 496.5h0M284.1 476.0h0" stroke="#ad8398"/><path d="M138.0 576.4h0M256.2 471.2h0M198.4 547.7h0M236.0 516.7h0M246.1 469.3h0M252.9 544.8h0M289.1 487.7h0M292.0 494.4h0M277.2 479.9h0M255.0 514.8h0M244.2 472.6h0M213.7 523.5h0M262.6 466.6h0M268.0 502.8h0M257.7 477.8h0M124.1 563.0h0M308.5 538.5h0M280.4 496.3h0M314.7 544.0h0M272.4 529.8h0M267.4 549.1h0" stroke="#a8839f"/><path d="M262.2 470.3h0M286.1 494.2h0M246.5 483.4h0M243.4 459.4h0M285.9 506.0h0M306.1 505.9h0M245.3 464.9h0M201.1 485.0h0M266.5 496.0h0M275.1 493.2h0M240.7 460.1h0M269.5 503.7h0M285.6 620.5h0M258.9 463.2h0M272.9 487.9h0M171.9 462.5h0" stroke="#a083a7"/><path d="M279.3 521.8h0M255.3 460.9h0M267.7 507.8h0M257.0 464.3h0M257.6 491.1h0M258.1 513.2h0M266.3 466.4h0M310.3 523.3h0M266.5 506.7h0M286.1 547.5h0M230.1 477.4h0M260.6 461.0h0" stroke="#9984af"/><path d="M268.1 481.6h0M294.8 522.6h0M282.8 540.1h0M139.8 515.7h0M235.6 497.7h0M284.7 499.0h0M264.2 491.9h0M287.6 518.7h0M148.1 505.2h0M221.0 475.3h0M158.3 550.0h0M284.9 537.8h0M261.4 518.1h0" stroke="#9284b7"/><path d="M300.2 601.1h0M255.8 483.0h0M150.0 478.2h0M210.6 468.5h0M293.9 530.1h0M187.5 516.2h0M257.2 471.7h0M256.2 455.7h0M196.3 476.9h0M289.8 531.0h0M230.0 485.5h0" stroke="#8884be"/><path d="M240.5 450.2h0M246.4 495.8h0M183.1 470.1h0M147.7 594.6h0M187.5 471.8h0M189.3 499.0h0" stroke="#7e84c7"/><path d="M296.5 513.9h0M296.8 506.3h0M241.5 478.6h0M308.0 559.0h0M211.3 481.3h0M250.8 444.9h0M304.8 508.9h0M239.1 478.8h0M234.4 494.9h0M252.7 479.7h0" stroke="#7384ce"/><path d="M251.3 504.7h0M226.1 504.0h0M215.8 454.8h0M191.7 475.1h0M194.3 512.0h0M155.9 497.7h0M217.6 474.8h0M198.3 465.5h0M271.3 521.5h0M219.1 476.8h0M224.3 501.2h0M254.7 478.5h0M182.4 537.0h0" stroke="#6684d6"/><path d="M154.7 578.3h0M217.0 480.8h0M246.4 467.8h0M269.6 526.6h0M211.2 446.8h0M194.9 534.8h0" stroke="#5584de"/><path d="M214.3 460.4h0M252.1 462.4h0M239.4 460.6h0M182.0 514.7h0M282.1 522.6h0M233.1 509.8h0M195.3 475.6h0M194.4 540.8h0M145.1 496.3h0" stroke="#3e85e6"/><path d="M290.4 494.7h0M215.9 506.0h0M216.0 503.2h0M130.9 612.9h0M172.3 527.2h0M217.1 489.4h0M156.6 545.9h0M240.1 549.4h0M275.1 458.6h0M271.9 513.6h0M238.8 476.9h0M258.1 494.5h0M251.6 523.6h0M252.0 493.6h0M241.1 447.6h0" stroke="#1b84eb"/><path d="M137.3 544.3h0M250.6 485.0h0M264.1 534.9h0M177.2 503.2h0M190.3 526.0h0M305.9 491.2h0M256.2 486.8h0M203.2 496.1h0M252.5 498.8h0M216.8 500.5h0M229.0 511.3h0" stroke="#1d7fe1"/><path d="M258.0 520.1h0M212.4 472.9h0M225.0 496.8h0M190.8 454.0h0M222.9 467.0h0M142.2 519.5h0M186.4 536.5h0M241.0 496.7h0M195.1 464.8h0M225.0 470.8h0M249.0 475.5h0M209.1 530.3h0M165.3 487.6h0M242.3 509.7h0M139.7 543.1h0M236.5 519.0h0M215.3 447.5h0M277.6 478.9h0M189.6 570.9h0" stroke="#1e78d6"/><path d="M258.3 466.8h0M244.5 477.0h0M158.7 504.2h0M208.4 528.3h0M239.9 431.9h0M287.4 470.1h0M133.8 534.2h0M241.7 487.1h0M237.0 496.4h0M238.9 528.9h0M259.8 509.7h0M257.1 481.9h0M132.9 587.4h0M212.8 469.6h0M215.6 530.2h0M210.0 522.0h0M248.6 487.9h0M222.2 478.4h0M214.2 512.9h0M255.3 469.0h0" stroke="#1e73cb"/><path d="M193.6 500.5h0M221.2 468.8h0M141.4 573.3h0M194.6 487.7h0M282.9 554.8h0M244.4 555.4h0M166.9 524.0h0M185.8 442.8h0M206.5 470.5h0M215.7 463.7h0M210.1 457.3h0M179.0 513.4h0M214.0 501.9h0M210.7 459.9h0M185.4 486.2h0M143.0 534.6h0M267.1 469.5h0M153.1 496.2h0M259.5 586.4h0M263.6 473.2h0M106.8 571.5h0" stroke="#1f6dc1"/><path d="M223.5 478.9h0M259.0 471.1h0M273.3 495.0h0M171.3 564.7h0M232.3 470.3h0M248.6 463.7h0M231.0 476.2h0M174.1 483.4h0M221.7 449.8h0M252.0 481.4h0M202.1 457.7h0M224.1 476.8h0M221.1 494.6h0M228.1 471.9h0M220.4 496.7h0M250.0 489.7h0M182.1 501.1h0" stroke="#1f67b7"/><path d="M206.1 507.5h0M197.5 511.0h0M159.0 506.0h0M239.5 467.4h0M212.6 481.2h0M227.2 479.8h0M264.9 504.6h0M138.8 607.6h0M244.2 447.1h0M170.4 473.7h0M197.4 449.8h0M256.0 503.2h0M217.9 444.2h0M205.6 521.1h0M175.6 496.3h0M184.4 493.4h0M227.5 470.8h0M233.0 469.8h0M171.8 487.8h0M254.0 474.2h0" stroke="#1f61ac"/><path d="M167.7 519.6h0M213.0 456.1h0M188.5 460.6h0M226.5 469.5h0M258.6 479.9h0M213.3 464.5h0M241.4 441.6h0M184.6 536.8h0M172.4 476.7h0M218.8 477.5h0M186.1 482.4h0M168.6 563.0h0M196.0 534.4h0M223.3 504.4h0M193.4 506.6h0M245.0 459.1h0M241.4 513.4h0M236.3 475.9h0M275.6 480.4h0M209.4 486.3h0" stroke="#1f5ca2"/><path d="M212.7 537.6h0M238.6 473.2h0M243.9 479.4h0M151.3 459.9h0M220.2 466.9h0M263.9 472.5h0M242.4 465.1h0M239.8 489.9h0M207.4 445.4h0M146.4 546.1h0M164.9 492.8h0M223.8 477.6h0M223.1 450.1h0M289.9 546.4h0M278.4 497.7h0M267.9 491.1h0M235.8 490.9h0M200.1 473.4h0M181.1 520.4h0M207.2 482.0h0" stroke="#1e5699"/><path d="M178.5 536.9h0M272.7 484.7h0M215.2 520.0h0M188.7 451.7h0M196.9 466.3h0M195.9 534.4h0M169.5 453.7h0M222.4 477.4h0M235.0 489.7h0M199.9 481.2h0M213.7 538.6h0M162.9 496.7h0M220.1 459.0h0M159.8 524.8h0M215.4 543.6h0M220.7 504.8h0M293.5 502.0h0" stroke="#1e508f"/><path d="M208.9 468.2h0M175.7 536.0h0M251.4 486.0h0M216.3 497.9h0M219.3 479.4h0M199.4 478.0h0M181.9 460.6h0M223.8 470.3h0M188.6 479.4h0M204.9 476.9h0M221.5 465.5h0M207.7 561.1h0M322.0 507.9h0M204.5 523.9h0" stroke="#1d4b85"/><path d="M190.1 542.9h0M222.2 455.3h0M150.5 581.6h0M223.1 474.1h0M211.6 526.3h0M205.6 465.9h0M215.1 518.2h0M202.7 446.8h0M223.3 492.9h0M193.8 524.7h0M208.8 428.1h0M183.6 492.7h0M187.0 520.8h0M261.4 478.9h0" stroke="#1c457c"/><path d="M240.9 481.3h0M178.2 485.9h0M231.9 518.8h0M272.2 500.8h0M216.1 453.0h0M228.4 475.6h0M235.2 468.0h0M185.9 532.8h0M211.4 532.7h0M277.5 539.6h0M171.3 510.9h0M236.4 498.8h0M238.0 522.4h0M195.3 497.7h0M242.2 453.1h0" stroke="#1b4173"/><path d="M272.3 544.6h0M189.8 512.1h0M227.7 481.9h0M197.8 470.1h0M189.7 479.3h0M230.6 483.2h0M222.3 499.1h0M290.9 499.5h0M233.2 481.4h0M233.0 477.7h0M209.9 479.6h0" stroke="#1a3b6a"/><path d="M269.9 591.8h0M228.2 488.5h0M199.6 444.1h0M216.8 471.8h0M224.9 472.7h0M248.2 470.8h0" stroke="#1a3560"/><path d="M238.8 491.4h0M148.5 522.7h0M196.7 448.1h0M181.6 487.1h0M228.1 514.6h0M245.4 457.8h0M208.8 499.6h0M214.8 475.8h0M246.3 485.1h0" stroke="#183157"/><path d="M171.1 476.1h0M250.9 455.4h0M233.7 471.6h0" stroke="#172c4f"/><path d="M236.2 456.3h0" stroke="#152745"/><path d="M242.1 466.6h0" stroke="#13223d"/><path d="M230.2 457.5h0M146.0 514.2h0M223.5 460.0h0M210.2 502.7h0" stroke="#111d35"/><path d="M217.6 487.8h0" stroke="#0f192c"/><path d="M234.3 465.9h0" stroke="#0d1425"/><path d="M89.4 610.1h0M103.5 580.7h0M291.5 448.8h0M289.3 436.0h0" stroke="#ed8200"/><path d="M88.3 601.6h0M272.5 435.0h0" stroke="#e68228"/><path d="M324.3 474.0h0M276.6 457.5h0M126.2 573.6h0M81.8 650.4h0" stroke="#e38234"/><path d="M255.1 496.6h0M94.0 574.4h0M284.7 466.8h0M129.7 575.6h0M279.6 461.0h0M278.4 594.7h0M190.8 554.8h0M90.9 584.7h0M295.5 498.4h0" stroke="#e0823e"/><path d="M102.6 571.2h0M293.7 478.9h0M275.5 464.4h0" stroke="#dc8247"/><path d="M266.8 475.3h0M71.7 635.1h0M102.4 556.8h0M98.7 571.3h0M113.1 507.1h0M283.7 484.3h0M96.3 624.2h0M87.1 568.6h0M127.2 536.3h0M258.8 532.8h0M303.2 501.0h0" stroke="#d8824f"/><path d="M126.6 554.9h0M153.5 534.6h0M64.5 614.5h0M241.6 454.9h0M87.7 595.2h0M257.5 507.1h0M91.1 619.3h0M60.4 664.3h0M68.6 644.0h0M102.0 596.8h0" stroke="#d48259"/><path d="M145.2 519.4h0M123.4 500.6h0M130.4 544.8h0M109.4 589.2h0M298.9 547.2h0M238.5 465.2h0M271.6 534.3h0M292.9 483.2h0" stroke="#d18260"/><path d="M263.8 480.3h0M304.5 485.6h0M249.9 470.0h0M72.3 616.7h0M228.7 462.7h0M277.0 468.8h0M263.0 499.2h0M107.9 583.0h0" stroke="#cc8269"/><path d="M100.0 651.7h0M288.9 482.7h0M198.4 486.9h0M170.5 576.8h0M301.0 513.4h0M198.5 497.2h0M132.4 544.6h0M157.2 511.8h0M137.8 581.3h0M85.9 621.7h0M125.7 545.9h0" stroke="#c78271"/><path d="M291.6 489.4h0M129.2 548.9h0M226.7 447.5h0M124.4 589.2h0M330.1 488.6h0M287.4 487.1h0M63.2 648.3h0M267.6 478.8h0M292.5 475.1h0M265.6 490.6h0M111.8 555.2h0M104.2 595.5h0" stroke="#c38278"/><path d="M146.3 533.0h0M278.0 492.7h0M255.8 441.8h0M302.8 498.0h0M260.2 500.5h0M306.2 502.3h0M265.8 454.4h0M258.3 437.9h0M133.4 602.3h0M276.9 489.9h0M219.0 470.7h0M109.2 578.6h0M300.2 503.7h0M287.9 525.5h0" stroke="#be8381"/><path d="M104.7 578.6h0M165.0 572.9h0M260.9 492.1h0M262.4 482.8h0M90.1 596.8h0M265.4 536.7h0M264.7 477.2h0M121.2 589.6h0M252.7 516.5h0M267.3 517.9h0" stroke="#ba8388"/><path d="M272.0 465.9h0M298.5 480.1h0M268.0 555.0h0M130.1 509.5h0M140.2 526.6h0M219.3 507.9h0M227.1 461.4h0M247.6 501.0h0M168.9 522.0h0M238.0 451.8h0M244.6 488.4h0M286.8 480.8h0M256.7 494.9h0M153.8 589.3h0" stroke="#b48390"/><path d="M86.8 606.5h0M253.0 477.3h0M321.2 559.2h0M218.5 475.5h0M129.4 564.1h0M127.7 552.1h0M270.8 481.2h0M112.1 567.5h0M238.5 475.8h0M258.6 457.1h0M239.2 527.5h0M120.7 555.7h0" stroke="#ad8398"/><path d="M117.0 562.7h0M318.1 492.8h0M241.8 523.9h0M270.2 495.6h0M289.6 500.4h0M242.9 498.9h0M272.3 480.4h0M295.3 501.9h0M265.9 496.4h0M151.0 615.0h0M274.8 512.9h0M286.7 514.5h0M248.7 570.2h0M279.2 558.8h0M297.4 491.3h0" stroke="#a8839f"/><path d="M299.4 520.9h0M274.0 475.2h0M266.2 498.7h0M204.2 485.2h0M174.5 517.6h0M283.0 514.7h0M283.8 499.2h0M271.8 462.8h0M252.8 468.0h0M266.3 544.5h0" stroke="#a083a7"/><path d="M187.8 498.6h0M279.7 489.1h0M266.7 503.9h0M267.6 516.1h0M299.0 508.3h0M265.5 472.1h0M243.6 544.4h0M283.5 536.6h0M267.2 543.4h0M293.4 535.3h0M302.2 535.8h0M288.4 521.8h0M280.2 494.2h0M271.0 488.5h0M262.8 501.3h0" stroke="#9984af"/><path d="M246.6 512.5h0M303.7 525.7h0M292.2 530.0h0M140.4 627.6h0M262.2 485.5h0M310.9 528.9h0M242.7 480.8h0M279.2 493.1h0M281.0 523.1h0M272.9 511.3h0M223.7 495.5h0M263.4 528.3h0" stroke="#9284b7"/><path d="M268.3 524.2h0M252.7 487.2h0M239.2 479.6h0M116.4 521.1h0M200.1 545.9h0M265.2 526.7h0M244.1 479.9h0M267.3 476.8h0M252.3 490.9h0M252.1 541.1h0M231.8 474.9h0" stroke="#8884be"/><path d="M308.7 494.9h0M118.4 546.8h0M294.1 514.4h0M325.3 540.8h0M247.7 449.7h0M135.7 488.2h0M244.0 506.1h0M302.0 512.5h0M174.6 532.7h0" stroke="#7e84c7"/><path d="M197.3 479.5h0M243.9 444.7h0M233.4 472.8h0M209.7 463.9h0M242.7 476.0h0M163.5 499.6h0M186.2 580.4h0M254.5 462.5h0M250.7 473.2h0M237.8 486.5h0" stroke="#7384ce"/><path d="M257.4 455.0h0M240.4 498.2h0M140.6 555.3h0M192.5 476.1h0M289.0 513.8h0M292.4 507.1h0M240.0 507.8h0M268.8 548.4h0M250.4 514.4h0M278.1 473.8h0M291.0 561.2h0" stroke="#6684d6"/><path d="M239.7 511.4h0M247.8 465.6h0M176.4 512.2h0M278.9 529.7h0M277.1 546.7h0M226.3 462.5h0M213.1 506.5h0M233.9 491.2h0M247.0 477.6h0M155.7 469.3h0M244.1 468.0h0M283.3 526.1h0M193.3 488.4h0M198.8 482.2h0M200.7 505.9h0M242.5 504.5h0" stroke="#5584de"/><path d="M264.1 507.9h0M136.5 517.8h0M281.3 468.2h0M244.0 493.2h0M289.2 541.6h0M224.6 507.9h0M179.9 477.1h0M198.1 508.4h0M201.8 507.7h0M190.6 512.3h0M217.0 523.6h0M225.9 489.4h0M220.4 464.7h0M122.0 531.6h0" stroke="#3e85e6"/><path d="M153.6 550.1h0M266.9 484.2h0M202.0 514.5h0M220.5 449.1h0M192.4 456.9h0M202.9 496.7h0M271.2 514.9h0M239.6 482.6h0M173.6 465.6h0M197.0 517.1h0M206.4 493.3h0M276.1 491.2h0M235.1 487.2h0" stroke="#1b84eb"/><path d="M239.6 492.5h0M193.6 457.2h0M200.9 436.3h0M216.6 485.9h0M261.7 515.8h0M269.1 508.8h0M209.2 467.9h0M174.7 495.3h0M274.2 500.6h0M188.3 486.8h0M271.6 515.8h0M297.9 511.3h0M233.2 496.3h0M225.6 484.0h0M253.7 506.0h0" stroke="#1d7fe1"/><path d="M169.8 505.7h0M213.0 480.3h0M172.9 521.7h0M230.7 467.5h0M135.6 534.5h0M264.4 522.3h0M237.4 446.6h0M166.1 466.6h0M205.9 488.4h0M180.7 470.7h0M264.8 484.5h0M253.6 476.7h0M173.8 551.1h0M253.1 501.6h0M237.6 499.1h0M259.2 447.3h0M197.7 460.6h0M203.6 534.7h0M185.7 494.4h0" stroke="#1e78d6"/><path d="M162.2 476.5h0M184.8 491.4h0M278.8 483.9h0M282.4 473.1h0M243.1 468.7h0M236.3 501.4h0M240.9 467.8h0M238.4 510.7h0M253.4 472.4h0M226.2 478.4h0M262.5 460.6h0M171.6 486.6h0M245.8 477.9h0M201.8 495.0h0M253.9 476.5h0M213.4 532.5h0M249.9 475.9h0M216.3 465.2h0M208.5 466.8h0" stroke="#1e73cb"/><path d="M169.3 496.3h0M186.0 507.6h0M197.2 461.7h0M257.6 498.1h0M170.6 480.1h0M267.8 465.0h0M256.3 498.0h0M144.5 525.2h0M207.5 472.5h0M263.5 511.1h0M196.5 622.0h0M191.6 500.2h0M234.4 469.2h0M205.0 514.8h0M235.9 472.6h0M182.6 473.1h0" stroke="#1f6dc1"/><path d="M250.1 500.0h0M220.8 441.5h0M232.3 507.9h0M193.8 485.1h0M227.9 451.7h0M170.9 514.6h0M120.1 528.0h0M235.9 530.4h0M255.5 540.3h0M272.3 491.8h0M233.8 498.3h0M128.4 501.6h0M191.5 492.7h0M156.9 514.2h0M291.9 518.8h0M247.7 458.8h0M154.8 526.0h0M199.7 482.7h0M224.4 483.5h0" stroke="#1f67b7"/><path d="M230.9 471.9h0M250.4 464.7h0M235.5 478.3h0M190.0 434.1h0M231.2 505.8h0M166.6 458.4h0M233.8 541.6h0M196.6 467.6h0M177.3 516.6h0M232.2 506.2h0M241.0 513.1h0M145.9 492.7h0M214.5 506.8h0M198.1 468.3h0M242.3 543.7h0M218.1 514.4h0M243.4 501.4h0M243.6 482.8h0M182.8 490.2h0M178.1 532.6h0M279.7 487.4h0M213.2 499.1h0M275.4 532.2h0M240.9 502.8h0" stroke="#1f61ac"/><path d="M196.6 481.9h0M211.8 532.8h0M178.7 525.5h0M189.7 540.2h0M161.6 508.0h0M229.1 524.8h0M141.8 507.1h0M192.4 513.3h0M249.6 532.6h0M234.1 457.4h0M203.9 522.4h0M257.3 472.6h0M120.8 622.4h0M125.9 571.0h0M240.2 536.2h0M207.9 514.1h0M196.3 501.2h0M241.4 500.3h0M169.6 525.9h0M263.3 456.0h0M175.1 514.8h0M191.4 470.2h0M239.4 472.1h0M151.9 540.6h0M238.2 458.3h0M163.6 557.2h0" stroke="#1f5ca2"/><path d="M237.0 466.7h0M142.6 480.1h0M235.2 507.2h0M224.6 488.1h0M222.4 496.5h0M145.7 579.0h0M206.6 460.7h0M240.2 477.3h0M212.8 513.7h0M231.7 483.5h0M183.5 497.1h0" stroke="#1e5699"/><path d="M202.7 475.4h0M158.4 495.0h0M249.6 492.0h0M222.6 473.4h0M192.7 549.0h0M248.1 467.7h0M171.6 528.7h0M242.4 483.7h0M239.7 463.5h0M271.6 476.2h0M184.3 526.0h0M227.9 489.8h0M267.8 510.5h0M233.9 462.2h0M205.3 517.1h0" stroke="#1e508f"/><path d="M205.7 475.1h0M263.9 493.0h0M179.2 517.6h0M233.4 458.8h0M198.3 502.3h0M273.0 502.7h0M230.4 493.5h0M253.0 471.0h0M152.4 560.1h0M271.2 498.6h0M202.1 492.1h0M233.6 539.8h0M270.8 505.5h0M219.5 475.8h0M214.9 467.2h0M184.1 474.2h0M219.6 454.0h0M284.6 520.3h0" stroke="#1d4b85"/><path d="M172.7 514.9h0M227.5 476.9h0M244.8 501.5h0M234.2 478.0h0M229.1 447.0h0M215.0 487.2h0M250.2 457.8h0M185.6 512.0h0M245.7 456.8h0" stroke="#1c457c"/><path d="M210.9 494.5h0M243.0 526.1h0M240.3 471.0h0M181.5 504.0h0M216.6 495.3h0M189.1 465.9h0M190.9 474.9h0M223.0 471.3h0M199.0 487.3h0M163.8 604.2h0" stroke="#1b4173"/><path d="M204.2 469.4h0M243.3 497.7h0M178.2 496.5h0M192.6 462.5h0M242.8 456.8h0M198.7 476.0h0M196.7 476.9h0M196.2 541.6h0M206.7 528.2h0M237.2 474.4h0M149.8 559.0h0M232.5 504.3h0M228.0 484.0h0" stroke="#1a3b6a"/><path d="M242.1 519.1h0M227.6 475.1h0M201.7 472.0h0M185.5 563.1h0M273.0 470.0h0M231.0 496.5h0M235.3 523.8h0" stroke="#1a3560"/><path d="M231.5 460.2h0M209.4 496.5h0M214.4 521.2h0M179.2 507.1h0M184.9 526.3h0" stroke="#183157"/><path d="M177.9 542.2h0M195.4 502.7h0M222.0 513.0h0M282.3 481.1h0M261.2 458.5h0M215.7 474.4h0" stroke="#172c4f"/><path d="M222.1 446.6h0" stroke="#152745"/><path d="M256.6 460.3h0M175.9 529.7h0M179.7 582.0h0" stroke="#13223d"/><path d="M248.9 514.3h0M206.2 473.6h0M189.9 489.9h0" stroke="#0d1425"/><path d="M284.2 447.6h0M68.7 616.4h0M285.1 460.6h0" stroke="#ed8200"/><path d="M109.6 528.4h0M101.7 647.9h0" stroke="#ea821a"/><path d="M286.9 458.2h0M65.7 635.8h0M111.2 546.9h0M278.9 447.9h0M296.5 466.5h0M278.6 445.0h0" stroke="#e68228"/><path d="M69.5 593.4h0M299.8 468.7h0M327.3 484.4h0M313.0 492.8h0M114.0 547.4h0" stroke="#e38234"/><path d="M285.8 474.8h0" stroke="#dc8247"/><path d="M105.3 655.1h0M136.4 570.2h0" stroke="#d8824f"/><path d="M270.9 457.9h0M274.9 462.4h0M273.7 483.3h0M172.1 496.7h0M274.1 470.9h0M151.7 522.4h0M287.8 464.2h0M138.9 533.2h0M89.9 580.2h0M228.6 504.5h0" stroke="#d48259"/><path d="M107.6 566.8h0M116.1 462.1h0M85.6 576.5h0M104.9 528.3h0M283.2 459.6h0M260.1 541.2h0" stroke="#d18260"/><path d="M133.2 568.9h0M134.8 573.9h0M290.7 465.8h0M203.2 439.5h0M157.5 561.0h0M285.4 469.9h0M122.3 560.8h0M119.7 478.0h0" stroke="#cc8269"/><path d="M271.7 468.2h0M134.4 538.9h0M271.5 483.3h0M79.8 564.5h0M103.1 573.3h0M252.3 500.1h0M290.8 479.2h0M101.9 524.7h0M208.6 487.0h0" stroke="#c78271"/><path d="M281.5 478.8h0M154.4 482.9h0M267.9 474.5h0M183.0 526.7h0M248.7 480.1h0M274.2 586.1h0M88.8 617.8h0M245.9 462.7h0M176.2 493.1h0M118.7 558.9h0" stroke="#c38278"/><path d="M135.1 438.3h0M183.5 468.0h0M298.8 499.9h0M273.7 522.6h0M159.7 458.2h0M251.2 469.0h0M283.9 503.8h0M206.6 481.8h0M262.9 470.3h0M255.2 518.1h0M291.8 486.5h0M258.4 475.4h0" stroke="#be8381"/><path d="M261.0 495.6h0M254.9 472.3h0M259.7 495.8h0M123.1 579.6h0M208.2 511.2h0M144.8 492.7h0M248.0 439.1h0M243.1 461.1h0M143.4 582.1h0M307.3 505.5h0M125.4 533.8h0M149.2 533.9h0M277.6 519.7h0M294.4 479.4h0M76.2 620.8h0M145.3 509.0h0M261.0 503.4h0" stroke="#ba8388"/><path d="M276.2 515.0h0M259.0 491.1h0M268.3 509.7h0M139.2 503.0h0M275.2 482.7h0M175.7 498.8h0M289.4 479.9h0M256.5 453.7h0M252.6 482.8h0M167.0 561.0h0M241.9 463.5h0M149.7 477.4h0M239.3 507.3h0M277.8 479.2h0M281.0 604.1h0M273.1 450.3h0M278.7 505.1h0M277.8 488.6h0M270.7 494.8h0M259.1 500.6h0M265.6 499.5h0" stroke="#b48390"/><path d="M209.3 466.2h0M234.9 532.8h0M253.8 534.5h0M300.4 517.7h0M209.5 518.4h0M248.3 477.2h0M243.7 491.0h0M276.9 521.6h0M277.0 505.8h0M263.2 468.7h0M244.8 543.2h0M250.2 529.2h0M244.0 472.8h0M300.1 537.1h0M299.7 507.0h0M260.8 513.6h0" stroke="#ad8398"/><path d="M261.1 537.9h0M121.5 605.6h0M266.1 512.9h0M195.8 453.8h0M248.5 445.4h0M190.3 465.9h0M293.0 541.3h0M268.2 493.0h0M260.0 479.1h0M263.7 482.4h0M123.5 556.9h0M136.9 504.2h0" stroke="#a8839f"/><path d="M262.3 480.7h0M278.5 537.3h0M242.7 520.5h0M251.8 470.5h0M305.3 547.3h0M155.2 521.4h0M294.0 498.7h0M278.7 497.7h0M276.6 507.3h0M199.6 513.6h0M311.4 544.6h0M287.5 483.3h0M267.5 486.8h0" stroke="#a083a7"/><path d="M280.3 533.0h0M268.4 479.9h0M265.7 525.2h0M160.4 617.8h0M274.5 483.2h0M308.2 516.2h0M263.2 516.1h0M276.7 493.2h0M303.3 529.7h0M254.5 435.4h0M200.7 541.0h0M200.9 488.1h0M152.7 539.4h0" stroke="#9984af"/><path d="M262.6 478.0h0M287.8 569.7h0M253.9 467.2h0M211.4 510.4h0M255.0 476.4h0M259.9 492.5h0M296.2 481.6h0M226.2 491.1h0M271.4 472.2h0M257.9 461.9h0M199.4 503.2h0" stroke="#9284b7"/><path d="M283.2 490.2h0M284.0 533.2h0M271.0 540.4h0M189.0 517.2h0M260.8 464.3h0M253.6 489.7h0M260.8 498.6h0M255.3 473.6h0M281.4 463.5h0M281.6 500.8h0M303.4 537.4h0M263.1 488.5h0M160.6 546.4h0M279.8 513.8h0M168.0 588.1h0M198.8 459.0h0M296.8 517.6h0" stroke="#8884be"/><path d="M225.6 471.7h0M290.6 524.9h0M250.6 494.5h0M247.0 498.5h0M205.3 534.3h0M177.7 572.4h0M248.3 490.8h0M161.9 482.3h0" stroke="#7e84c7"/><path d="M260.2 473.1h0M187.7 467.9h0M280.5 517.0h0M296.1 518.7h0M242.6 461.9h0M264.9 467.2h0M320.6 524.3h0M147.0 574.1h0M269.2 548.2h0M238.1 485.1h0" stroke="#7384ce"/><path d="M124.5 531.1h0M268.7 505.5h0M231.2 436.4h0M275.7 511.6h0M282.3 529.0h0M256.1 458.9h0M263.7 460.2h0M270.1 466.5h0M218.3 464.2h0M246.2 517.3h0M170.3 538.1h0M245.9 481.4h0" stroke="#6684d6"/><path d="M161.1 484.7h0M250.3 496.1h0M276.5 535.4h0M172.8 490.6h0M243.8 493.6h0M224.8 466.0h0M238.9 455.6h0M250.5 450.9h0M205.9 500.4h0M261.2 499.4h0M158.5 572.0h0M223.9 518.5h0M140.8 511.7h0" stroke="#5584de"/><path d="M182.6 489.4h0M288.6 472.2h0M297.8 527.1h0M259.4 466.1h0M227.3 502.9h0M149.6 587.1h0M212.9 502.3h0M188.5 523.5h0M286.0 471.9h0M290.3 515.6h0M204.0 466.9h0M218.5 522.2h0" stroke="#3e85e6"/><path d="M178.4 493.8h0M227.6 500.9h0M226.4 462.8h0M231.0 490.5h0M173.2 468.3h0M295.6 539.3h0M237.5 554.3h0M201.5 551.1h0M246.8 508.2h0M192.8 495.6h0M194.4 441.4h0M158.1 525.0h0" stroke="#1b84eb"/><path d="M165.8 535.7h0M218.9 517.8h0M230.6 474.7h0M220.4 510.5h0M220.6 480.2h0M163.2 489.9h0M242.0 503.8h0M220.0 514.3h0M200.8 472.4h0M255.1 483.7h0M161.3 495.6h0M180.3 520.1h0M169.0 485.4h0M244.3 490.6h0M161.2 505.3h0" stroke="#1d7fe1"/><path d="M194.7 489.2h0M233.5 491.0h0M205.4 478.2h0M261.3 486.4h0M281.8 454.5h0M202.6 483.3h0M194.1 475.3h0M198.1 528.3h0M233.7 475.7h0M240.5 521.3h0M201.5 500.7h0M131.5 537.5h0M197.1 458.8h0M247.4 529.7h0" stroke="#1e78d6"/><path d="M294.8 492.9h0M154.2 502.1h0M177.7 498.2h0M209.7 477.4h0M237.1 448.2h0M224.3 453.2h0M229.4 512.1h0M207.3 515.9h0M221.4 507.7h0M198.6 522.6h0M163.9 476.0h0M180.6 467.7h0M225.8 451.5h0M168.0 459.9h0M236.9 520.1h0M237.6 476.5h0M187.9 511.8h0M174.1 566.4h0M212.1 474.6h0M187.4 496.4h0" stroke="#1e73cb"/><path d="M245.7 538.1h0M210.9 506.0h0M184.0 611.8h0M235.9 482.9h0M159.4 491.1h0M222.3 476.2h0M290.8 503.3h0M212.1 482.4h0M198.6 513.8h0M186.9 570.2h0" stroke="#1f6dc1"/><path d="M216.5 466.7h0M152.1 456.1h0M294.6 487.9h0M162.5 517.0h0M207.1 477.3h0M225.1 456.9h0M231.9 451.0h0M268.5 452.0h0M169.5 562.7h0M139.5 469.5h0M122.4 571.0h0M155.0 554.8h0M211.6 479.8h0M194.0 554.2h0M205.1 489.6h0M218.3 476.2h0M244.5 464.2h0M209.4 519.6h0M229.8 519.9h0M230.7 500.5h0M144.7 555.8h0M192.7 485.5h0M273.6 490.3h0M175.9 472.2h0M222.2 466.9h0M201.3 467.6h0M261.5 508.1h0M246.3 503.0h0" stroke="#1f67b7"/><path d="M265.3 515.1h0M210.5 489.1h0M190.1 534.2h0M216.4 458.2h0M193.5 445.2h0M160.1 512.0h0M226.4 475.5h0M202.8 474.9h0M180.1 487.7h0M215.0 494.4h0M181.7 440.3h0M167.8 499.1h0M220.0 469.5h0M131.8 593.2h0M215.6 470.1h0M181.8 543.2h0M221.5 516.5h0M195.2 427.7h0M212.7 490.5h0M204.7 472.2h0M213.4 468.4h0M206.9 470.5h0M201.0 476.8h0M202.2 466.3h0" stroke="#1f61ac"/><path d="M222.1 491.5h0M265.8 520.2h0M205.4 526.3h0M210.9 478.5h0M184.9 466.9h0M199.4 493.4h0M216.1 474.6h0M261.1 481.0h0M156.3 504.7h0M251.4 454.2h0M243.5 455.3h0M241.0 510.1h0M242.9 471.6h0M161.6 537.2h0M188.8 538.8h0M197.8 477.5h0M184.3 510.7h0M258.5 528.7h0M240.4 475.1h0M252.9 464.9h0M227.4 497.2h0M125.2 482.3h0" stroke="#1f5ca2"/><path d="M233.8 480.5h0M203.1 518.2h0M194.3 479.0h0M238.4 471.7h0M244.6 468.4h0M211.9 485.3h0M289.5 478.1h0M204.8 493.1h0M257.3 503.1h0M193.2 525.1h0M186.7 492.0h0M225.7 514.7h0M217.3 503.2h0M232.4 464.6h0M253.1 491.8h0M240.3 491.2h0M204.3 517.7h0M289.5 496.0h0M122.8 576.4h0" stroke="#1e5699"/><path d="M185.1 461.4h0M211.2 463.9h0M235.1 555.7h0M217.4 510.1h0M230.0 469.1h0M183.4 479.8h0M177.5 486.2h0M186.9 462.5h0M243.8 468.1h0M143.8 504.5h0M262.0 477.4h0M278.3 501.1h0M218.4 495.9h0M246.9 488.2h0M202.9 510.4h0" stroke="#1e508f"/><path d="M153.2 513.8h0M224.7 490.6h0M191.1 545.7h0M204.7 479.3h0M232.2 472.6h0M222.5 458.2h0M201.2 558.6h0M199.0 510.1h0M273.5 507.6h0M180.6 503.3h0" stroke="#1d4b85"/><path d="M289.7 509.1h0M242.0 485.0h0M209.6 531.2h0M176.5 489.7h0M194.1 480.4h0M156.2 538.1h0M232.2 490.1h0M228.7 499.8h0M228.0 492.4h0" stroke="#1c457c"/><path d="M210.6 523.2h0M245.4 473.4h0M201.4 474.8h0M253.2 494.6h0M165.1 477.1h0M236.6 475.0h0M214.2 435.0h0M234.8 446.1h0M191.9 459.6h0M247.9 535.4h0M231.6 456.5h0M240.7 477.8h0M176.1 474.4h0" stroke="#1b4173"/><path d="M250.0 478.6h0M285.1 511.8h0M218.7 456.6h0M213.6 473.1h0M181.5 519.5h0M227.0 510.8h0M184.2 482.6h0M232.5 476.5h0M226.6 473.9h0M221.5 501.9h0" stroke="#1a3b6a"/><path d="M218.4 488.9h0M191.0 510.2h0" stroke="#1a3560"/><path d="M209.8 492.4h0M297.5 498.3h0M233.3 513.1h0M251.7 453.6h0M207.6 496.2h0M234.5 574.3h0" stroke="#183157"/><path d="M213.7 446.1h0M210.0 505.9h0M229.6 465.1h0M230.5 450.7h0M159.5 556.3h0M230.2 498.3h0M200.3 516.2h0M176.7 559.8h0M229.4 491.3h0M239.1 461.1h0M275.3 515.5h0M249.0 448.2h0M231.4 479.6h0M214.3 490.0h0M229.4 443.1h0M174.9 542.2h0" stroke="#172c4f"/><path d="M190.6 503.1h0M212.4 477.2h0M189.4 471.5h0M217.3 459.3h0" stroke="#152745"/><path d="M194.5 504.8h0M251.6 474.9h0M229.7 537.4h0" stroke="#13223d"/><path d="M200.4 490.7h0" stroke="#111d35"/><path d="M207.1 523.1h0M181.0 563.7h0" stroke="#0f192c"/><path d="M221.1 456.1h0M159.6 429.4h0" stroke="#0d1425"/><path d="M313.6 452.6h0" stroke="#ed8200"/><path d="M275.9 445.5h0" stroke="#e68228"/><path d="M115.2 554.8h0M278.2 455.3h0" stroke="#e38234"/><path d="M280.0 457.5h0M98.9 612.1h0M105.2 568.7h0M309.3 482.3h0M127.5 602.0h0" stroke="#e0823e"/><path d="M113.7 567.5h0M111.3 559.7h0M108.6 534.3h0" stroke="#dc8247"/><path d="M112.4 581.5h0M83.1 673.2h0M274.7 487.9h0M219.0 510.6h0M82.9 598.7h0M73.5 630.3h0M288.1 475.0h0" stroke="#d8824f"/><path d="M273.9 451.5h0M145.6 548.9h0M260.4 477.6h0M269.1 457.8h0M88.0 630.9h0" stroke="#d48259"/><path d="M287.7 490.7h0M91.9 570.8h0M116.2 568.3h0M268.8 450.6h0M110.9 586.0h0M126.5 500.2h0M152.0 491.1h0M257.9 457.9h0M226.9 477.9h0M96.5 533.8h0" stroke="#d18260"/><path d="M283.6 467.4h0M125.0 548.7h0M199.9 494.3h0M269.3 454.5h0M97.9 577.6h0M255.9 508.0h0M280.7 488.2h0M75.7 579.8h0M134.6 556.3h0M275.5 481.6h0M293.7 457.4h0M248.1 492.6h0M134.3 562.2h0M159.1 565.7h0" stroke="#cc8269"/><path d="M252.3 475.5h0M238.7 480.7h0M280.1 508.8h0M251.2 461.3h0M296.6 483.7h0M300.6 531.5h0M150.2 485.8h0M286.6 491.3h0M244.7 474.8h0M254.6 527.8h0M282.7 471.7h0M84.6 602.2h0M106.1 506.1h0M132.3 520.1h0M141.7 561.4h0M280.6 474.0h0M249.3 434.5h0" stroke="#c78271"/><path d="M282.8 493.5h0M295.0 461.0h0M318.7 510.2h0M134.7 502.1h0M118.1 496.6h0M286.3 480.2h0M128.2 593.4h0M283.4 496.3h0M254.4 531.9h0M280.9 492.0h0" stroke="#c38278"/><path d="M100.4 566.7h0M248.2 481.5h0M285.5 479.2h0M85.3 610.9h0M124.0 648.3h0M270.5 513.9h0M291.4 481.9h0M114.4 457.0h0M260.5 508.9h0M262.9 461.3h0M298.5 496.3h0M241.8 469.6h0M277.9 486.4h0M269.8 551.0h0M157.6 496.9h0M277.3 502.5h0" stroke="#be8381"/><path d="M150.6 537.2h0M175.1 450.6h0M260.6 523.1h0M243.7 513.0h0M128.9 533.1h0M258.0 480.1h0M285.4 484.6h0M287.3 535.1h0M254.5 489.4h0M265.2 508.7h0M294.5 495.5h0M126.1 506.4h0M260.9 527.2h0M259.2 521.7h0M268.3 472.5h0" stroke="#ba8388"/><path d="M254.2 453.4h0M259.3 482.5h0M251.9 506.0h0M287.1 501.9h0M216.6 476.0h0M141.0 534.4h0M186.5 504.7h0M232.0 519.2h0M266.9 544.0h0" stroke="#b48390"/><path d="M287.6 507.5h0M287.3 479.7h0M145.5 540.6h0M205.8 470.0h0M267.2 499.0h0M315.0 525.2h0M249.7 509.8h0M176.9 483.5h0M268.7 471.3h0M261.6 470.9h0M260.1 459.5h0M245.2 474.4h0M207.2 500.2h0M173.0 498.1h0M253.5 478.7h0" stroke="#ad8398"/><path d="M288.2 494.4h0M297.8 496.7h0M219.0 530.3h0M258.4 511.0h0M150.9 508.2h0M261.5 488.3h0M270.5 509.5h0M281.2 490.7h0M257.2 510.0h0M250.8 498.7h0M157.4 528.7h0M114.9 573.5h0M249.1 482.1h0" stroke="#a8839f"/><path d="M237.9 495.9h0M307.8 507.1h0M282.5 521.1h0M268.1 529.5h0M251.9 474.6h0M255.5 483.2h0M286.5 483.6h0M264.8 512.9h0" stroke="#a083a7"/><path d="M292.7 503.4h0M276.4 532.8h0M258.2 538.3h0M291.1 507.8h0M254.8 500.1h0M247.3 470.5h0M162.3 488.2h0M244.4 471.0h0M246.0 519.9h0M285.6 508.9h0M266.4 481.7h0M272.0 509.5h0M132.7 536.3h0M264.6 468.2h0M242.2 521.0h0" stroke="#9984af"/><path d="M259.9 474.7h0M254.3 533.9h0M242.2 458.2h0M261.3 472.7h0M235.7 507.9h0M288.0 503.1h0M285.7 510.9h0M243.3 479.0h0M252.2 466.3h0M146.1 506.2h0M254.0 486.3h0M242.5 443.6h0" stroke="#9284b7"/><path d="M232.7 521.1h0M248.8 467.3h0M284.5 507.4h0M203.1 459.1h0M257.8 505.5h0M247.9 482.5h0M166.3 529.1h0" stroke="#8884be"/><path d="M280.8 512.0h0M254.9 450.5h0M281.3 512.8h0M256.9 513.8h0M159.9 487.2h0M279.4 479.5h0" stroke="#7e84c7"/><path d="M295.0 551.9h0M251.8 442.7h0M265.1 459.3h0M215.4 482.2h0M182.2 581.0h0M259.8 441.0h0" stroke="#7384ce"/><path d="M197.9 540.2h0M232.6 462.8h0M187.6 550.0h0M268.6 488.6h0M258.2 473.6h0M273.3 523.3h0M236.6 468.7h0M247.2 487.2h0M266.8 462.7h0M247.7 511.7h0M269.1 567.7h0M260.7 476.1h0M218.9 491.0h0M181.7 558.1h0M225.5 474.1h0" stroke="#6684d6"/><path d="M223.2 480.9h0M244.9 486.2h0M288.0 452.6h0M179.6 544.7h0M285.3 534.5h0M312.4 526.7h0M293.6 516.7h0M159.4 542.6h0M208.7 475.2h0M208.5 454.3h0M273.9 503.8h0M278.9 525.8h0M146.5 530.3h0M256.8 499.7h0M308.9 546.7h0M270.9 534.6h0M254.4 511.3h0" stroke="#5584de"/><path d="M273.3 487.7h0M167.4 501.5h0M253.1 480.3h0M229.8 508.8h0M217.8 468.0h0M245.7 500.1h0M223.2 510.0h0M264.3 462.7h0M185.7 477.4h0M195.6 458.3h0" stroke="#3e85e6"/><path d="M152.3 510.4h0M245.5 466.5h0M252.5 469.2h0M230.9 470.6h0M191.2 540.5h0M177.2 601.4h0M283.8 509.3h0M223.4 485.7h0M241.6 476.6h0M260.4 561.1h0M249.4 495.0h0M241.2 466.8h0" stroke="#1b84eb"/><path d="M228.9 478.1h0M273.5 550.6h0M252.2 472.3h0M219.8 575.8h0M247.6 478.8h0M169.2 508.0h0M138.2 476.5h0M253.3 557.5h0M226.1 471.3h0M151.5 511.2h0" stroke="#1d7fe1"/><path d="M193.9 462.1h0M224.8 442.6h0M183.2 569.1h0M176.5 528.6h0M234.7 492.3h0M203.5 573.3h0M215.3 514.6h0M121.7 519.7h0M244.3 506.8h0M188.1 471.2h0M219.2 472.8h0M249.5 464.9h0M147.4 492.6h0M282.6 502.7h0M155.4 492.0h0M226.3 543.4h0M229.2 495.2h0M232.7 537.9h0M211.1 454.4h0M205.0 453.9h0M264.6 481.3h0M154.3 524.2h0" stroke="#1e78d6"/><path d="M221.0 498.6h0M162.6 595.1h0M193.1 477.7h0M202.5 502.0h0M194.2 497.3h0M249.3 518.7h0M141.9 577.7h0M214.1 496.9h0M203.3 464.5h0M188.8 484.7h0M120.9 565.0h0M246.7 494.2h0M265.1 484.4h0" stroke="#1e73cb"/><path d="M219.8 478.6h0M252.2 476.5h0M168.3 471.0h0M198.9 517.6h0M248.3 501.4h0M164.5 509.9h0M192.2 515.7h0M228.3 547.9h0M229.0 474.1h0M217.7 449.2h0M172.2 503.1h0M293.9 489.7h0M269.2 485.0h0M246.5 451.3h0M289.7 553.0h0M211.8 500.9h0M218.8 460.4h0M215.6 509.9h0M190.5 495.6h0M251.5 520.1h0M242.8 538.4h0M203.9 487.9h0M203.7 460.5h0M149.3 548.0h0M174.9 469.8h0M166.7 495.7h0M207.6 508.4h0M211.5 488.1h0" stroke="#1f6dc1"/><path d="M274.1 491.5h0M226.8 480.2h0M205.5 486.4h0M199.2 582.6h0M247.4 474.8h0M202.3 488.2h0M232.0 492.6h0M235.7 452.6h0M187.7 481.9h0M238.0 503.5h0M164.8 551.8h0M198.2 454.8h0M222.5 522.9h0M209.7 470.5h0M234.7 472.1h0M121.9 540.8h0M176.8 522.0h0M225.4 461.5h0M288.3 467.5h0" stroke="#1f67b7"/><path d="M196.4 535.2h0M247.1 529.4h0M240.5 494.5h0M157.3 549.8h0M235.1 481.8h0M229.5 466.4h0M209.3 482.5h0M310.5 511.4h0M223.7 528.0h0M195.8 490.2h0M138.3 547.0h0M137.1 511.8h0M212.2 463.1h0M227.1 499.8h0M277.4 470.8h0M260.4 513.7h0M192.3 481.3h0M218.0 472.5h0M131.9 485.8h0M192.6 493.4h0M171.8 507.5h0M196.1 471.6h0" stroke="#1f61ac"/><path d="M197.6 550.2h0M201.3 480.9h0M216.0 458.0h0M246.7 461.6h0M165.5 532.1h0M226.0 481.6h0M273.2 465.6h0M84.3 618.4h0M219.7 469.8h0M217.2 478.9h0M261.8 494.2h0M206.4 541.9h0M235.4 474.2h0M232.1 428.5h0M214.1 462.2h0M237.2 509.8h0M234.0 504.1h0M228.4 463.0h0M182.0 476.2h0M271.7 482.7h0" stroke="#1f5ca2"/><path d="M152.8 491.3h0M207.9 471.2h0M181.2 482.7h0M250.1 503.9h0M219.9 505.8h0M245.3 518.5h0M201.5 509.4h0M183.9 478.0h0M200.2 465.5h0M200.6 479.5h0M167.4 483.2h0M251.1 488.4h0M201.6 549.4h0M137.5 523.2h0" stroke="#1e5699"/><path d="M211.7 475.8h0M233.4 466.8h0M212.2 495.6h0M198.6 472.8h0M203.4 540.6h0M234.5 473.5h0M234.8 514.1h0M179.0 480.8h0M187.9 532.9h0M230.8 459.9h0M144.9 587.3h0M178.0 484.9h0M249.5 480.6h0M219.5 545.6h0M226.5 488.5h0M219.7 462.7h0M199.8 455.5h0M189.2 474.6h0M227.8 526.1h0M157.0 478.6h0M77.7 613.2h0M249.1 510.9h0M216.2 513.0h0M250.7 517.5h0M269.9 580.9h0M210.3 469.8h0" stroke="#1e508f"/><path d="M228.5 471.3h0M180.9 490.4h0M225.9 463.7h0M237.4 506.2h0M251.5 478.9h0M160.2 507.5h0M241.1 489.3h0M248.4 549.4h0M220.3 491.3h0M195.0 485.8h0M223.3 539.0h0M174.4 489.8h0M218.6 451.0h0M179.4 552.2h0M217.7 529.9h0" stroke="#1d4b85"/><path d="M192.0 484.7h0M223.4 438.2h0M214.7 469.9h0M214.0 493.9h0M219.6 500.4h0M195.5 482.6h0M189.1 544.0h0M237.1 481.4h0M226.0 423.1h0M214.5 485.3h0M270.6 493.1h0M224.5 480.4h0M185.9 484.7h0M196.2 534.0h0" stroke="#1c457c"/><path d="M211.2 489.4h0M184.7 452.5h0M154.6 516.0h0M206.8 510.6h0M147.8 536.2h0M235.5 500.0h0M216.7 457.2h0M163.3 509.5h0M184.1 490.1h0M184.5 472.2h0" stroke="#1b4173"/><path d="M179.5 515.8h0M227.3 487.5h0M218.2 546.8h0M226.7 525.2h0M230.5 511.4h0M172.6 444.2h0M197.2 484.0h0M205.9 480.2h0M141.1 472.1h0M223.7 454.3h0M212.0 439.7h0" stroke="#1a3b6a"/><path d="M228.9 459.2h0M239.3 556.7h0M217.6 498.7h0M190.7 483.6h0M231.6 501.3h0M241.2 485.5h0M185.1 501.8h0M238.7 504.3h0M229.5 479.6h0M217.5 542.5h0" stroke="#1a3560"/><path d="M218.0 507.2h0M180.2 543.4h0M192.3 554.9h0M199.1 530.2h0M241.5 470.6h0M183.1 487.9h0M226.8 467.8h0" stroke="#183157"/><path d="M231.1 530.1h0M197.9 506.5h0M219.9 486.3h0M211.5 455.1h0" stroke="#172c4f"/><path d="M224.2 497.5h0M243.5 464.2h0M270.2 487.7h0M201.0 523.4h0" stroke="#152745"/><path d="M213.8 478.3h0M140.1 561.2h0" stroke="#13223d"/><path d="M193.4 466.3h0" stroke="#111d35"/><path d="M215.0 474.3h0M240.6 469.3h0" stroke="#0f192c"/><path d="M190.2 520.0h0M208.0 477.8h0" stroke="#0d1425"/><path d="M292.4 435.0h0M67.8 602.1h0M94.8 581.9h0M290.5 470.9h0" stroke="#ed8200"/><path d="M99.6 552.9h0M136.7 592.7h0M98.3 524.0h0" stroke="#ea821a"/><path d="M267.1 648.5h0" stroke="#e68228"/><path d="M105.9 621.2h0M92.1 591.3h0" stroke="#e38234"/><path d="M95.7 600.5h0M94.6 562.3h0M97.3 587.2h0" stroke="#e0823e"/><path d="M106.9 494.6h0M269.0 533.2h0M74.7 639.5h0M101.3 570.5h0M267.0 491.9h0M124.9 524.9h0M93.3 600.3h0M105.4 608.7h0M120.2 555.8h0M280.5 477.6h0" stroke="#dc8247"/><path d="M267.9 460.9h0M283.0 466.1h0M123.9 553.4h0M283.7 476.5h0M111.5 516.3h0" stroke="#d8824f"/><path d="M267.6 483.7h0M114.3 606.1h0M292.2 467.9h0M257.9 487.1h0M99.4 597.3h0M165.5 517.1h0M71.0 616.0h0M109.9 566.7h0M256.7 483.8h0M141.5 539.7h0M110.2 575.3h0" stroke="#d48259"/><path d="M149.0 506.6h0M112.0 589.2h0M83.3 592.7h0M107.3 553.5h0M286.5 465.7h0M133.3 516.0h0M104.0 551.9h0M130.6 535.6h0M265.2 552.9h0" stroke="#d18260"/><path d="M253.2 463.6h0M106.2 589.0h0M217.9 479.2h0M279.3 498.5h0M176.3 484.4h0M258.5 497.9h0M298.6 474.4h0" stroke="#cc8269"/><path d="M271.1 447.6h0M95.1 568.1h0M96.7 606.2h0M248.9 459.9h0M129.1 581.2h0M136.2 545.9h0M235.8 464.6h0M270.7 476.3h0M272.2 470.9h0M289.9 485.5h0M246.2 478.2h0M113.2 574.8h0" stroke="#c78271"/><path d="M131.3 526.7h0M295.8 524.3h0M260.7 483.6h0M285.5 498.3h0M131.0 496.4h0M256.6 468.7h0M282.6 446.1h0M232.1 479.2h0M100.2 538.5h0M131.1 567.0h0M108.9 546.8h0M197.6 525.2h0M137.9 459.1h0" stroke="#c38278"/><path d="M283.1 483.0h0M264.4 496.4h0M271.3 478.4h0M309.5 500.7h0M146.8 548.2h0M294.2 478.0h0M118.0 541.5h0M297.6 471.9h0M264.3 484.0h0M264.5 474.8h0M291.5 532.5h0M271.9 485.8h0" stroke="#be8381"/><path d="M278.3 476.1h0M256.9 449.6h0M108.8 559.5h0M148.8 645.4h0M260.0 492.9h0M251.4 458.7h0M148.6 482.0h0M289.3 512.0h0M279.1 502.2h0M292.6 498.0h0M112.8 596.9h0M124.7 565.6h0M268.4 463.6h0M243.5 486.4h0M117.8 516.6h0" stroke="#ba8388"/><path d="M266.0 441.1h0M288.7 542.8h0M296.0 504.1h0M264.5 551.8h0M264.2 458.2h0M259.7 464.6h0M240.6 482.2h0M245.2 483.9h0M274.3 525.4h0M247.0 513.9h0M269.5 469.7h0M287.0 488.4h0M250.9 472.0h0M302.5 558.7h0" stroke="#b48390"/><path d="M123.6 518.5h0M287.2 519.5h0M262.1 443.9h0M339.3 557.1h0M253.8 522.3h0M261.9 485.7h0M236.1 493.6h0M241.7 503.2h0M256.7 488.2h0M271.1 481.0h0M273.1 517.7h0M136.0 530.4h0M148.2 551.5h0M262.4 509.2h0" stroke="#ad8398"/><path d="M304.4 517.9h0M279.7 518.2h0M215.3 465.9h0M264.0 479.5h0M281.9 506.8h0M278.2 526.4h0M301.5 498.6h0M213.2 484.3h0M259.6 484.0h0M232.9 499.0h0M170.7 495.8h0" stroke="#a8839f"/><path d="M272.7 470.3h0M245.6 494.8h0M265.3 473.4h0M249.8 462.7h0M264.5 520.6h0M258.9 477.8h0M305.0 496.6h0M266.4 477.0h0M155.8 533.7h0M262.5 531.4h0M285.0 544.8h0" stroke="#a083a7"/><path d="M113.4 534.4h0M301.7 573.2h0M272.6 561.3h0M225.5 465.2h0M260.5 468.8h0M220.8 471.2h0M286.3 527.0h0M306.5 587.9h0M284.0 528.2h0M289.0 505.9h0M277.5 498.3h0M283.4 511.7h0M260.3 453.8h0M253.4 500.0h0M292.1 555.1h0M266.1 478.8h0" stroke="#9984af"/><path d="M275.7 542.7h0M291.9 510.6h0M212.6 461.9h0M267.4 501.9h0M316.4 501.5h0M122.9 446.5h0M116.8 611.6h0M272.8 499.7h0M275.8 553.5h0" stroke="#9284b7"/><path d="M236.2 479.9h0M298.1 530.9h0M272.1 519.9h0M188.2 490.4h0M241.8 506.0h0M206.9 505.4h0M223.6 475.7h0M237.3 546.4h0M284.4 522.9h0M249.4 466.5h0" stroke="#8884be"/><path d="M233.1 474.3h0M127.0 556.9h0M234.1 487.6h0M284.4 494.4h0M251.7 497.1h0M173.7 493.9h0M281.6 511.1h0M262.1 519.5h0M246.5 469.4h0M270.0 506.7h0M306.8 531.0h0M286.4 515.7h0M304.0 542.9h0M211.8 452.3h0" stroke="#7e84c7"/><path d="M224.9 502.2h0M224.0 468.9h0M255.2 464.9h0M270.3 556.5h0M315.9 545.3h0M232.6 444.7h0M269.7 583.5h0M245.6 476.4h0M234.7 483.4h0M174.3 471.8h0M263.5 493.8h0M286.7 519.0h0M334.8 514.4h0M257.8 451.7h0" stroke="#7384ce"/><path d="M160.2 585.0h0M234.6 467.3h0M266.2 486.9h0M191.8 466.3h0M229.9 462.1h0M183.7 503.9h0M176.7 452.9h0M175.5 466.9h0M165.6 513.3h0M258.8 501.8h0M313.3 511.5h0M291.2 533.5h0" stroke="#6684d6"/><path d="M296.3 596.3h0M164.3 482.7h0M302.9 547.0h0M164.6 580.7h0M153.9 474.7h0M282.2 504.0h0M210.8 472.0h0M239.7 495.0h0M234.0 441.9h0M165.9 485.0h0M240.1 461.4h0M226.0 444.8h0" stroke="#5584de"/><path d="M242.6 520.2h0M186.3 474.3h0M290.3 504.6h0M249.7 471.7h0M163.7 503.4h0M177.0 498.3h0M193.7 482.9h0M226.6 498.6h0M187.1 490.7h0M168.1 543.1h0M293.2 489.0h0M212.3 466.2h0M241.9 474.1h0M200.4 463.1h0M218.6 503.2h0M240.8 483.9h0" stroke="#3e85e6"/><path d="M148.8 519.1h0M251.2 528.3h0M211.5 459.5h0M231.4 476.9h0M185.5 458.6h0M275.2 521.9h0M201.1 504.8h0M182.5 559.7h0M189.5 495.2h0M200.7 516.8h0M223.9 462.0h0M188.4 596.3h0M256.5 517.0h0" stroke="#1b84eb"/><path d="M181.1 457.5h0M198.9 480.8h0M209.6 473.1h0M158.8 466.5h0M249.8 522.2h0M125.6 581.3h0M205.6 502.7h0M249.2 473.3h0M167.7 535.0h0M251.0 477.7h0M205.2 514.1h0M262.1 497.1h0M281.4 517.1h0M243.1 475.0h0M207.6 478.9h0M205.7 461.6h0" stroke="#1d7fe1"/><path d="M256.4 528.1h0M187.3 542.7h0M210.3 533.3h0M225.8 506.4h0M210.0 509.3h0M237.8 469.7h0M213.5 486.2h0M239.2 487.4h0M150.8 569.3h0M148.0 565.5h0M177.8 510.7h0M263.0 490.0h0M126.7 524.3h0M236.8 513.2h0M236.5 513.4h0M222.8 482.6h0M209.1 561.2h0M168.7 557.5h0M233.6 465.2h0M279.7 424.1h0" stroke="#1e78d6"/><path d="M166.4 489.3h0M284.9 486.4h0M240.0 480.1h0M234.2 484.1h0M199.2 450.0h0M195.7 473.7h0M215.9 478.9h0M269.0 483.4h0M225.3 502.5h0M214.0 480.9h0" stroke="#1e73cb"/><path d="M257.5 527.0h0M213.3 517.8h0M136.1 568.2h0M235.4 455.8h0M163.3 433.9h0M254.9 480.0h0M209.9 500.6h0M222.9 513.2h0M254.6 481.3h0M178.9 455.9h0M199.1 469.2h0M231.5 497.6h0M204.1 500.0h0M188.1 502.5h0M220.2 485.6h0M173.0 531.9h0M236.4 460.0h0M169.8 486.6h0" stroke="#1f6dc1"/><path d="M235.0 463.6h0M280.5 550.9h0M276.3 468.0h0M236.0 438.2h0M143.9 529.3h0M182.9 491.9h0M234.2 516.9h0M173.5 508.1h0M144.1 488.2h0M239.8 451.4h0M184.7 504.2h0M189.6 508.1h0M183.9 528.4h0M180.4 473.1h0M238.6 440.6h0M207.0 485.5h0M284.8 571.3h0" stroke="#1f67b7"/><path d="M290.5 520.2h0M180.8 554.3h0M197.3 536.7h0M206.7 491.2h0M215.2 514.3h0M129.9 469.6h0M206.1 457.6h0M167.1 493.1h0M215.8 476.9h0M149.4 514.1h0M171.5 540.9h0M153.3 506.7h0M151.1 498.2h0M305.5 460.0h0M224.4 464.8h0M165.9 557.0h0M217.1 506.4h0M236.9 500.3h0M265.9 468.1h0M254.8 568.6h0M224.2 457.5h0M103.8 602.1h0M228.3 469.7h0M164.3 505.7h0M162.8 560.8h0" stroke="#1f61ac"/><path d="M178.3 465.0h0M199.3 470.5h0M192.9 559.2h0M271.5 497.6h0M195.9 480.8h0M220.1 472.9h0M227.8 463.9h0M248.8 548.5h0M269.6 465.3h0M197.4 553.6h0M261.3 451.9h0M272.8 477.9h0M186.8 488.6h0M174.8 600.5h0M186.6 469.5h0M143.5 449.0h0M236.8 478.4h0M232.6 486.0h0M228.8 484.6h0M150.4 519.7h0M274.5 475.9h0" stroke="#1f5ca2"/><path d="M310.1 515.9h0M213.8 465.2h0M195.2 529.2h0M141.3 522.8h0M283.3 486.2h0M202.0 462.0h0M212.5 492.0h0M270.1 538.1h0M179.3 489.4h0M198.0 490.2h0M234.5 516.5h0M177.0 478.3h0M227.5 456.7h0M216.7 546.0h0M208.5 496.4h0M253.7 470.0h0M178.5 500.5h0M207.9 534.8h0M235.3 461.3h0" stroke="#1e5699"/><path d="M201.9 483.1h0M199.7 474.6h0M183.7 549.9h0M220.8 487.4h0M222.6 460.7h0M229.8 470.9h0M209.0 482.2h0M195.1 507.5h0M222.0 471.4h0M203.1 559.0h0M156.5 573.7h0M174.0 541.1h0M246.0 488.7h0M250.5 491.4h0M168.4 476.6h0M249.2 497.4h0M206.5 519.9h0M211.9 471.3h0M194.6 471.9h0" stroke="#1e508f"/><path d="M270.6 458.4h0M217.4 455.2h0M192.9 524.9h0M158.6 482.2h0M202.5 473.7h0M231.8 494.3h0M173.2 591.3h0M185.0 532.7h0M202.3 498.0h0M196.8 485.1h0M226.9 458.9h0" stroke="#1d4b85"/><path d="M200.3 458.9h0M225.7 433.9h0M208.1 458.1h0M234.9 449.6h0M267.1 471.1h0M190.4 462.7h0M201.7 478.8h0M185.3 519.7h0M212.9 471.8h0M199.9 519.1h0" stroke="#1c457c"/><path d="M161.5 526.1h0M230.1 494.6h0M250.3 483.2h0M208.0 463.4h0M277.7 513.3h0M186.5 431.8h0M243.2 497.4h0M197.1 494.6h0M156.8 502.4h0M223.6 522.9h0M179.9 493.6h0M220.6 491.5h0" stroke="#1b4173"/><path d="M219.1 464.7h0M216.9 477.9h0M232.4 572.6h0M238.3 516.8h0M207.3 464.9h0M224.7 470.5h0M203.4 491.0h0M180.2 496.9h0M203.6 468.7h0" stroke="#1a3b6a"/><path d="M203.7 475.9h0M201.2 463.5h0M221.2 482.5h0M179.7 485.9h0M218.3 468.9h0M204.0 506.0h0M228.8 455.3h0" stroke="#1a3560"/><path d="M225.2 500.5h0M161.8 542.8h0M231.8 487.5h0M230.6 510.8h0M228.7 491.4h0M207.0 450.0h0" stroke="#183157"/><path d="M221.9 550.3h0M181.4 478.5h0M205.1 456.0h0M154.0 543.7h0M182.2 508.9h0M176.0 577.5h0" stroke="#172c4f"/><path d="M229.3 480.5h0M231.4 524.6h0M238.1 453.9h0" stroke="#152745"/><path d="M236.7 458.5h0" stroke="#13223d"/><path d="M206.0 550.7h0M167.2 621.5h0" stroke="#111d35"/><path d="M212.3 546.9h0" stroke="#0d1425"/></g><path d="M46.85 51.10V311.45H348.60" fill="none" stroke="#2b2b2b" stroke-width="1.18"/><path d="M44.00 305.45H46.85M44.00 258.34H46.85M44.00 211.23H46.85M44.00 164.12H46.85M44.00 117.01H46.85M44.00 69.90H46.85M122.05 311.45V314.25M199.72 311.45V314.25M277.40 311.45V314.25" stroke="#2b2b2b" stroke-width="1.3" fill="none"/><text x="41.6" y="310.5" text-anchor="end">4000</text><text x="41.6" y="263.3" text-anchor="end">5000</text><text x="41.6" y="216.2" text-anchor="end">6000</text><text x="41.6" y="169.1" text-anchor="end">7000</text><text x="41.6" y="122.0" text-anchor="end">8000</text><text x="41.6" y="74.9" text-anchor="end">9000</text><text x="122.0" y="326.1" text-anchor="middle">5</text><text x="199.7" y="326.1" text-anchor="middle">10</text><text x="277.4" y="326.1" text-anchor="middle">15</text><text x="197.7" y="340.5" text-anchor="middle">Temperature (°C)</text><text transform="translate(9.2,181.3) rotate(-90)" text-anchor="middle">Grassland productivity (NDVI)</text><path d="M407.20 51.10V311.45H709.00" fill="none" stroke="#2b2b2b" stroke-width="1.18"/><path d="M404.35 305.45H407.20M404.35 258.34H407.20M404.35 211.23H407.20M404.35 164.12H407.20M404.35 117.01H407.20M404.35 69.90H407.20M482.45 311.45V314.25M560.12 311.45V314.25M637.80 311.45V314.25" stroke="#2b2b2b" stroke-width="1.3" fill="none"/><text x="401.9" y="310.5" text-anchor="end">4000</text><text x="401.9" y="263.3" text-anchor="end">5000</text><text x="401.9" y="216.2" text-anchor="end">6000</text><text x="401.9" y="169.1" text-anchor="end">7000</text><text x="401.9" y="122.0" text-anchor="end">8000</text><text x="401.9" y="74.9" text-anchor="end">9000</text><text x="482.4" y="326.1" text-anchor="middle">5</text><text x="560.1" y="326.1" text-anchor="middle">10</text><text x="637.8" y="326.1" text-anchor="middle">15</text><text x="558.1" y="340.5" text-anchor="middle">Temperature (°C)</text><text transform="translate(369.6,181.3) rotate(-90)" text-anchor="middle">Grassland productivity (NDVI)</text><path d="M46.85 411.70V686.30H348.60" fill="none" stroke="#2b2b2b" stroke-width="1.18"/><path d="M44.00 679.45H46.85M44.00 629.85H46.85M44.00 580.25H46.85M44.00 530.65H46.85M44.00 481.05H46.85M44.00 431.45H46.85M122.05 686.30V689.10M199.72 686.30V689.10M277.40 686.30V689.10" stroke="#2b2b2b" stroke-width="1.3" fill="none"/><text x="41.6" y="684.5" text-anchor="end">4000</text><text x="41.6" y="634.9" text-anchor="end">5000</text><text x="41.6" y="585.2" text-anchor="end">6000</text><text x="41.6" y="535.6" text-anchor="end">7000</text><text x="41.6" y="486.1" text-anchor="end">8000</text><text x="41.6" y="436.4" text-anchor="end">9000</text><text x="197.7" y="701.0" text-anchor="middle">Temperature (°C)</text><text transform="translate(9.2,549.0) rotate(-90)" text-anchor="middle">Grassland productivity (NDVI)</text><rect x="189.5" y="0.7" width="86.5" height="16.8" fill="url(#gA)"/><path d="M195.20 0.70v16.80M220.90 0.70v16.80M246.60 0.70v16.80M272.20 0.70v16.80" stroke="#fff" stroke-width="0.7" opacity="0.13"/><path d="M195.20 0.70v3.4M195.20 17.50v-3.4M220.90 0.70v3.4M220.90 17.50v-3.4M246.60 0.70v3.4M246.60 17.50v-3.4M272.20 0.70v3.4M272.20 17.50v-3.4" stroke="#fff" stroke-width="0.6" opacity="0.55"/><text x="195.2" y="30.8" font-size="9.6" text-anchor="middle">3</text><text x="220.9" y="30.8" font-size="9.6" text-anchor="middle">3.5</text><text x="246.6" y="30.8" font-size="9.6" text-anchor="middle">4</text><text x="272.2" y="30.8" font-size="9.6" text-anchor="middle">4.5</text><text x="119.3" y="21.0">Mean NPref</text><rect x="546.0" y="0.7" width="86.7" height="16.8" fill="url(#gB)"/><path d="M546.80 0.70v16.80M567.20 0.70v16.80M587.50 0.70v16.80M607.60 0.70v16.80M627.60 0.70v16.80" stroke="#fff" stroke-width="0.7" opacity="0.13"/><path d="M546.80 0.70v3.4M546.80 17.50v-3.4M567.20 0.70v3.4M567.20 17.50v-3.4M587.50 0.70v3.4M587.50 17.50v-3.4M607.60 0.70v3.4M607.60 17.50v-3.4M627.60 0.70v3.4M627.60 17.50v-3.4" stroke="#fff" stroke-width="0.6" opacity="0.55"/><text x="546.8" y="30.8" font-size="9.6" text-anchor="middle">17.5</text><text x="567.2" y="30.8" font-size="9.6" text-anchor="middle">20</text><text x="587.5" y="30.8" font-size="9.6" text-anchor="middle">22.5</text><text x="607.6" y="30.8" font-size="9.6" text-anchor="middle">25</text><text x="627.6" y="30.8" font-size="9.6" text-anchor="middle">27.5</text><text x="483.7" y="21.1">Mean SLA</text><rect x="186.8" y="361.0" width="86.3" height="17.2" fill="url(#gC)"/><path d="M204.30 361.00v17.20M227.00 361.00v17.20M249.60 361.00v17.20M272.30 361.00v17.20" stroke="#fff" stroke-width="0.7" opacity="0.13"/><path d="M204.30 361.00v3.4M204.30 378.20v-3.4M227.00 361.00v3.4M227.00 378.20v-3.4M249.60 361.00v3.4M249.60 378.20v-3.4M272.30 361.00v3.4M272.30 378.20v-3.4" stroke="#fff" stroke-width="0.6" opacity="0.55"/><text x="204.3" y="391.2" font-size="9.6" text-anchor="middle">0.5</text><text x="227.0" y="391.2" font-size="9.6" text-anchor="middle">0.7</text><text x="249.6" y="391.2" font-size="9.6" text-anchor="middle">0.9</text><text x="272.3" y="391.2" font-size="9.6" text-anchor="middle">1.1</text><text x="121.7" y="381.9">FDiv NPref</text><text x="1.5" y="9.5" font-weight="bold">(a)</text><text x="362.7" y="9.5" font-weight="bold">(b)</text><text x="1.5" y="365.0" font-weight="bold">(c)</text></svg></body></html>
